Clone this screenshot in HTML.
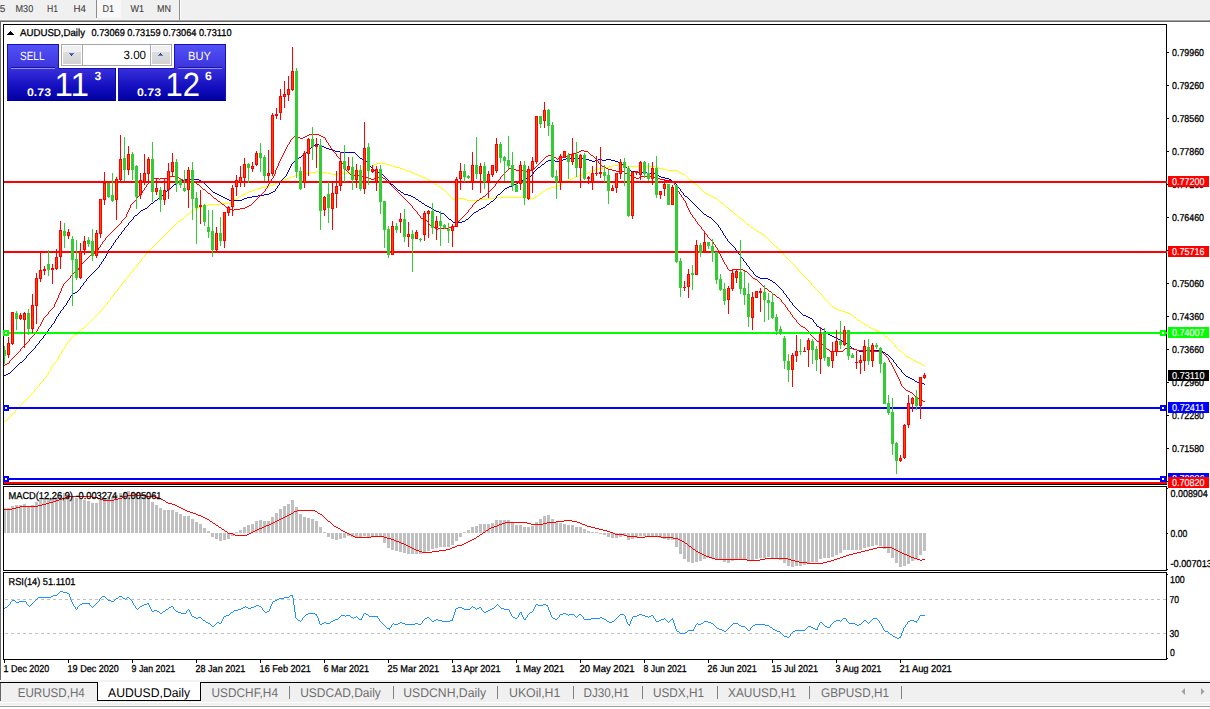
<!DOCTYPE html>
<html lang="en">
<head>
<meta charset="utf-8">
<title>AUDUSD,Daily</title>
<style>
html,body{margin:0;padding:0;background:#fff;}
body{width:1210px;height:709px;overflow:hidden;font-family:"Liberation Sans",sans-serif;}
svg{display:block;position:absolute;left:0;top:0;}
svg text{font-family:"Liberation Sans",sans-serif;text-rendering:geometricPrecision;}
</style>
</head>
<body>
<svg width="1210" height="709" viewBox="0 0 1210 709">
<rect x="0" y="0" width="1210" height="709" fill="#ffffff"/>
<g shape-rendering="crispEdges">
<rect x="0" y="0" width="1210" height="19" fill="#f0f0f0"/>
<rect x="0" y="19" width="1210" height="1" fill="#f6f6f6"/>
<rect x="0" y="20" width="1210" height="1" fill="#a0a0a0"/>
<rect x="0" y="21" width="1210" height="1" fill="#696969"/>
<rect x="97" y="0" width="24" height="18" fill="#f8f8f8"/>
<rect x="96" y="0" width="1" height="18" fill="#8c8c8c"/>
<rect x="179" y="0" width="1" height="20" fill="#8c8c8c"/>
<rect x="180" y="0" width="1" height="20" fill="#fbfbfb"/>
<rect x="0" y="21" width="1" height="659" fill="#696969"/>
<rect x="3" y="24" width="1164" height="1" fill="#000"/>
<rect x="3" y="484" width="1164" height="1" fill="#000"/>
<rect x="3" y="24" width="1" height="461" fill="#000"/>
<rect x="1166" y="24" width="1" height="461" fill="#000"/>
<rect x="3" y="486" width="1164" height="1" fill="#000"/>
<rect x="3" y="570" width="1164" height="1" fill="#000"/>
<rect x="3" y="486" width="1" height="85" fill="#000"/>
<rect x="1166" y="486" width="1" height="85" fill="#000"/>
<rect x="3" y="572" width="1164" height="1" fill="#000"/>
<rect x="3" y="659" width="1164" height="1" fill="#000"/>
<rect x="3" y="572" width="1" height="88" fill="#000"/>
<rect x="1166" y="572" width="1" height="88" fill="#000"/>
</g>
<g shape-rendering="crispEdges">
<path d="M4 421h1v1h-1zM5 420h1v1h-1zM6 420h1v1h-1zM7 419h1v1h-1zM8 418h1v1h-1zM9 417h1v1h-1zM10 416h1v1h-1zM11 415h1v1h-1zM12 414h1v1h-1zM13 413h1v1h-1zM14 412h1v1h-1zM15 410h1v2h-1zM16 409h1v1h-1zM17 408h1v1h-1zM18 407h1v1h-1zM19 406h1v1h-1zM20 405h1v1h-1zM21 404h1v1h-1zM22 403h1v1h-1zM23 402h1v1h-1zM24 401h1v1h-1zM25 400h1v1h-1zM26 399h1v1h-1zM27 398h1v1h-1zM28 397h1v1h-1zM29 396h1v1h-1zM30 395h1v1h-1zM31 394h1v1h-1zM32 393h1v1h-1zM33 392h1v1h-1zM34 390h1v2h-1zM35 389h1v1h-1zM36 388h1v1h-1zM37 387h1v1h-1zM38 386h1v1h-1zM39 384h1v2h-1zM40 383h1v1h-1zM41 382h1v1h-1zM42 381h1v1h-1zM43 379h1v2h-1zM44 378h1v1h-1zM45 377h1v1h-1zM46 375h1v2h-1zM47 374h1v1h-1zM48 372h1v2h-1zM49 371h1v1h-1zM50 369h1v2h-1zM51 367h1v2h-1zM52 366h1v1h-1zM53 364h1v2h-1zM54 363h1v1h-1zM55 362h1v1h-1zM56 361h1v1h-1zM57 359h1v2h-1zM58 357h1v2h-1zM59 355h1v2h-1zM60 354h1v1h-1zM61 352h1v2h-1zM62 350h1v2h-1zM63 349h1v1h-1zM64 347h1v2h-1zM65 345h1v2h-1zM66 344h1v1h-1zM67 342h1v2h-1zM68 341h1v1h-1zM69 340h1v1h-1zM70 339h1v1h-1zM71 338h1v1h-1zM72 337h1v1h-1zM73 336h1v1h-1zM74 335h1v1h-1zM75 334h1v1h-1zM76 334h1v1h-1zM77 333h1v1h-1zM78 332h1v1h-1zM79 331h1v1h-1zM80 330h1v1h-1zM81 329h1v1h-1zM82 328h1v1h-1zM83 328h1v1h-1zM84 327h1v1h-1zM85 326h1v1h-1zM86 325h1v1h-1zM87 324h1v1h-1zM88 323h1v1h-1zM89 322h1v1h-1zM90 321h1v1h-1zM91 320h1v1h-1zM92 319h1v1h-1zM93 318h1v1h-1zM94 317h1v1h-1zM95 316h1v1h-1zM96 315h1v1h-1zM97 314h1v1h-1zM98 313h1v1h-1zM99 312h1v1h-1zM100 311h1v1h-1zM101 310h1v1h-1zM102 308h1v2h-1zM103 307h1v1h-1zM104 306h1v1h-1zM105 305h1v1h-1zM106 304h1v1h-1zM107 302h1v2h-1zM108 301h1v1h-1zM109 300h1v1h-1zM110 298h1v2h-1zM111 297h1v1h-1zM112 296h1v1h-1zM113 294h1v2h-1zM114 293h1v1h-1zM115 292h1v1h-1zM116 291h1v1h-1zM117 289h1v2h-1zM118 288h1v1h-1zM119 287h1v1h-1zM120 286h1v1h-1zM121 284h1v2h-1zM122 283h1v1h-1zM123 282h1v1h-1zM124 281h1v1h-1zM125 279h1v2h-1zM126 278h1v1h-1zM127 277h1v1h-1zM128 276h1v1h-1zM129 274h1v2h-1zM130 273h1v1h-1zM131 272h1v1h-1zM132 271h1v1h-1zM133 269h1v2h-1zM134 268h1v1h-1zM135 267h1v1h-1zM136 266h1v1h-1zM137 264h1v2h-1zM138 263h1v1h-1zM139 262h1v1h-1zM140 261h1v1h-1zM141 259h1v2h-1zM142 258h1v1h-1zM143 257h1v1h-1zM144 256h1v1h-1zM145 254h1v2h-1zM146 253h1v1h-1zM147 252h1v1h-1zM148 251h1v1h-1zM149 250h1v1h-1zM150 249h1v1h-1zM151 248h1v1h-1zM152 247h1v1h-1zM153 246h1v1h-1zM154 245h1v1h-1zM155 244h1v1h-1zM156 243h1v1h-1zM157 242h1v1h-1zM158 241h1v1h-1zM159 240h1v1h-1zM160 239h1v1h-1zM161 238h1v1h-1zM162 237h1v1h-1zM163 236h1v1h-1zM164 235h1v1h-1zM165 234h1v1h-1zM166 233h1v1h-1zM167 232h1v1h-1zM168 231h1v1h-1zM169 230h1v1h-1zM170 229h1v1h-1zM171 228h1v1h-1zM172 227h1v1h-1zM173 226h1v1h-1zM174 225h1v1h-1zM175 224h1v1h-1zM176 223h1v1h-1zM177 222h1v1h-1zM178 221h1v1h-1zM179 221h1v1h-1zM180 220h1v1h-1zM181 219h1v1h-1zM182 219h1v1h-1zM183 218h1v1h-1zM184 217h1v1h-1zM185 216h1v1h-1zM186 215h1v1h-1zM187 214h1v1h-1zM188 214h1v1h-1zM189 213h1v1h-1zM190 212h1v1h-1zM191 211h1v1h-1zM192 210h1v1h-1zM193 210h1v1h-1zM194 209h1v1h-1zM195 209h1v1h-1zM196 208h1v1h-1zM197 208h1v1h-1zM198 207h1v1h-1zM199 207h1v1h-1zM200 207h1v1h-1zM201 206h1v1h-1zM202 206h1v1h-1zM203 206h1v1h-1zM204 205h1v1h-1zM205 205h1v1h-1zM206 205h1v1h-1zM207 205h1v1h-1zM208 205h1v1h-1zM209 204h1v1h-1zM210 204h1v1h-1zM211 204h1v1h-1zM212 204h1v1h-1zM213 204h1v1h-1zM214 204h1v1h-1zM215 204h1v1h-1zM216 204h1v1h-1zM217 204h1v1h-1zM218 204h1v1h-1zM219 204h1v1h-1zM220 203h1v1h-1zM221 203h1v1h-1zM222 203h1v1h-1zM223 203h1v1h-1zM224 203h1v1h-1zM225 203h1v1h-1zM226 203h1v1h-1zM227 203h1v1h-1zM228 203h1v1h-1zM229 203h1v1h-1zM230 202h1v1h-1zM231 201h1v1h-1zM232 201h1v1h-1zM233 200h1v1h-1zM234 199h1v1h-1zM235 199h1v1h-1zM236 198h1v1h-1zM237 198h1v1h-1zM238 197h1v1h-1zM239 196h1v1h-1zM240 196h1v1h-1zM241 195h1v1h-1zM242 195h1v1h-1zM243 194h1v1h-1zM244 194h1v1h-1zM245 193h1v1h-1zM246 193h1v1h-1zM247 192h1v1h-1zM248 192h1v1h-1zM249 191h1v1h-1zM250 191h1v1h-1zM251 191h1v1h-1zM252 190h1v1h-1zM253 190h1v1h-1zM254 190h1v1h-1zM255 189h1v1h-1zM256 189h1v1h-1zM257 188h1v1h-1zM258 188h1v1h-1zM259 188h1v1h-1zM260 188h1v1h-1zM261 187h1v1h-1zM262 187h1v1h-1zM263 187h1v1h-1zM264 187h1v1h-1zM265 187h1v1h-1zM266 186h1v1h-1zM267 186h1v1h-1zM268 186h1v1h-1zM269 186h1v1h-1zM270 185h1v1h-1zM271 185h1v1h-1zM272 185h1v1h-1zM273 184h1v1h-1zM274 184h1v1h-1zM275 183h1v1h-1zM276 183h1v1h-1zM277 182h1v1h-1zM278 182h1v1h-1zM279 181h1v1h-1zM280 181h1v1h-1zM281 181h1v1h-1zM282 180h1v1h-1zM283 180h1v1h-1zM284 179h1v1h-1zM285 179h1v1h-1zM286 179h1v1h-1zM287 178h1v1h-1zM288 178h1v1h-1zM289 177h1v1h-1zM290 177h1v1h-1zM291 177h1v1h-1zM292 176h1v1h-1zM293 176h1v1h-1zM294 176h1v1h-1zM295 175h1v1h-1zM296 175h1v1h-1zM297 175h1v1h-1zM298 175h1v1h-1zM299 175h1v1h-1zM300 174h1v1h-1zM301 174h1v1h-1zM302 174h1v1h-1zM303 174h1v1h-1zM304 174h1v1h-1zM305 173h1v1h-1zM306 173h1v1h-1zM307 173h1v1h-1zM308 173h1v1h-1zM309 173h1v1h-1zM310 172h1v1h-1zM311 172h1v1h-1zM312 172h1v1h-1zM313 172h1v1h-1zM314 172h1v1h-1zM315 172h1v1h-1zM316 171h1v1h-1zM317 171h1v1h-1zM318 172h1v1h-1zM319 172h1v1h-1zM320 172h1v1h-1zM321 172h1v1h-1zM322 172h1v1h-1zM323 172h1v1h-1zM324 172h1v1h-1zM325 172h1v1h-1zM326 172h1v1h-1zM327 173h1v1h-1zM328 173h1v1h-1zM329 173h1v1h-1zM330 173h1v1h-1zM331 174h1v1h-1zM332 174h1v1h-1zM333 174h1v1h-1zM334 174h1v1h-1zM335 174h1v1h-1zM336 174h1v1h-1zM337 174h1v1h-1zM338 173h1v1h-1zM339 173h1v1h-1zM340 173h1v1h-1zM341 173h1v1h-1zM342 173h1v1h-1zM343 173h1v1h-1zM344 173h1v1h-1zM345 173h1v1h-1zM346 173h1v1h-1zM347 173h1v1h-1zM348 172h1v1h-1zM349 172h1v1h-1zM350 172h1v1h-1zM351 172h1v1h-1zM352 172h1v1h-1zM353 172h1v1h-1zM354 171h1v1h-1zM355 171h1v1h-1zM356 171h1v1h-1zM357 171h1v1h-1zM358 171h1v1h-1zM359 170h1v1h-1zM360 170h1v1h-1zM361 170h1v1h-1zM362 169h1v1h-1zM363 169h1v1h-1zM364 169h1v1h-1zM365 168h1v1h-1zM366 168h1v1h-1zM367 168h1v1h-1zM368 167h1v1h-1zM369 167h1v1h-1zM370 166h1v1h-1zM371 166h1v1h-1zM372 165h1v1h-1zM373 165h1v1h-1zM374 164h1v1h-1zM375 164h1v1h-1zM376 164h1v1h-1zM377 163h1v1h-1zM378 163h1v1h-1zM379 163h1v1h-1zM380 163h1v1h-1zM381 163h1v1h-1zM382 163h1v1h-1zM383 163h1v1h-1zM384 163h1v1h-1zM385 163h1v1h-1zM386 164h1v1h-1zM387 164h1v1h-1zM388 164h1v1h-1zM389 165h1v1h-1zM390 165h1v1h-1zM391 165h1v1h-1zM392 165h1v1h-1zM393 166h1v1h-1zM394 166h1v1h-1zM395 166h1v1h-1zM396 167h1v1h-1zM397 167h1v1h-1zM398 167h1v1h-1zM399 167h1v1h-1zM400 168h1v1h-1zM401 168h1v1h-1zM402 168h1v1h-1zM403 169h1v1h-1zM404 169h1v1h-1zM405 170h1v1h-1zM406 170h1v1h-1zM407 170h1v1h-1zM408 171h1v1h-1zM409 171h1v1h-1zM410 171h1v1h-1zM411 172h1v1h-1zM412 172h1v1h-1zM413 173h1v1h-1zM414 173h1v1h-1zM415 174h1v1h-1zM416 174h1v1h-1zM417 174h1v1h-1zM418 175h1v1h-1zM419 175h1v1h-1zM420 176h1v1h-1zM421 176h1v1h-1zM422 177h1v1h-1zM423 177h1v1h-1zM424 177h1v1h-1zM425 178h1v1h-1zM426 178h1v1h-1zM427 179h1v1h-1zM428 179h1v1h-1zM429 180h1v1h-1zM430 180h1v1h-1zM431 181h1v1h-1zM432 182h1v1h-1zM433 182h1v1h-1zM434 183h1v1h-1zM435 184h1v1h-1zM436 184h1v1h-1zM437 185h1v1h-1zM438 186h1v1h-1zM439 186h1v1h-1zM440 187h1v1h-1zM441 188h1v1h-1zM442 188h1v1h-1zM443 189h1v1h-1zM444 190h1v1h-1zM445 191h1v1h-1zM446 192h1v1h-1zM447 193h1v1h-1zM448 194h1v1h-1zM449 195h1v1h-1zM450 196h1v1h-1zM451 197h1v1h-1zM452 198h1v1h-1zM453 199h1v1h-1zM454 199h1v1h-1zM455 199h1v1h-1zM456 198h1v1h-1zM457 198h1v1h-1zM458 198h1v1h-1zM459 198h1v1h-1zM460 198h1v1h-1zM461 198h1v1h-1zM462 198h1v1h-1zM463 198h1v1h-1zM464 199h1v1h-1zM465 199h1v1h-1zM466 199h1v1h-1zM467 200h1v1h-1zM468 200h1v1h-1zM469 200h1v1h-1zM470 200h1v1h-1zM471 200h1v1h-1zM472 200h1v1h-1zM473 200h1v1h-1zM474 200h1v1h-1zM475 200h1v1h-1zM476 200h1v1h-1zM477 200h1v1h-1zM478 200h1v1h-1zM479 199h1v1h-1zM480 199h1v1h-1zM481 199h1v1h-1zM482 199h1v1h-1zM483 199h1v1h-1zM484 199h1v1h-1zM485 199h1v1h-1zM486 199h1v1h-1zM487 198h1v1h-1zM488 198h1v1h-1zM489 198h1v1h-1zM490 198h1v1h-1zM491 198h1v1h-1zM492 198h1v1h-1zM493 198h1v1h-1zM494 197h1v1h-1zM495 197h1v1h-1zM496 197h1v1h-1zM497 197h1v1h-1zM498 197h1v1h-1zM499 197h1v1h-1zM500 197h1v1h-1zM501 197h1v1h-1zM502 197h1v1h-1zM503 197h1v1h-1zM504 197h1v1h-1zM505 197h1v1h-1zM506 197h1v1h-1zM507 197h1v1h-1zM508 197h1v1h-1zM509 197h1v1h-1zM510 197h1v1h-1zM511 197h1v1h-1zM512 197h1v1h-1zM513 197h1v1h-1zM514 197h1v1h-1zM515 197h1v1h-1zM516 197h1v1h-1zM517 197h1v1h-1zM518 197h1v1h-1zM519 197h1v1h-1zM520 197h1v1h-1zM521 197h1v1h-1zM522 197h1v1h-1zM523 197h1v1h-1zM524 197h1v1h-1zM525 197h1v1h-1zM526 197h1v1h-1zM527 197h1v1h-1zM528 198h1v1h-1zM529 198h1v1h-1zM530 198h1v1h-1zM531 198h1v1h-1zM532 198h1v1h-1zM533 198h1v1h-1zM534 197h1v1h-1zM535 197h1v1h-1zM536 196h1v1h-1zM537 196h1v1h-1zM538 195h1v1h-1zM539 194h1v1h-1zM540 193h1v1h-1zM541 193h1v1h-1zM542 192h1v1h-1zM543 191h1v1h-1zM544 191h1v1h-1zM545 190h1v1h-1zM546 189h1v1h-1zM547 189h1v1h-1zM548 188h1v1h-1zM549 188h1v1h-1zM550 188h1v1h-1zM551 187h1v1h-1zM552 187h1v1h-1zM553 187h1v1h-1zM554 187h1v1h-1zM555 186h1v1h-1zM556 186h1v1h-1zM557 186h1v1h-1zM558 185h1v1h-1zM559 185h1v1h-1zM560 184h1v1h-1zM561 184h1v1h-1zM562 183h1v1h-1zM563 182h1v1h-1zM564 182h1v1h-1zM565 181h1v1h-1zM566 181h1v1h-1zM567 180h1v1h-1zM568 180h1v1h-1zM569 179h1v1h-1zM570 179h1v1h-1zM571 179h1v1h-1zM572 178h1v1h-1zM573 178h1v1h-1zM574 177h1v1h-1zM575 177h1v1h-1zM576 176h1v1h-1zM577 176h1v1h-1zM578 176h1v1h-1zM579 175h1v1h-1zM580 175h1v1h-1zM581 175h1v1h-1zM582 174h1v1h-1zM583 174h1v1h-1zM584 174h1v1h-1zM585 173h1v1h-1zM586 173h1v1h-1zM587 173h1v1h-1zM588 172h1v1h-1zM589 172h1v1h-1zM590 171h1v1h-1zM591 171h1v1h-1zM592 171h1v1h-1zM593 170h1v1h-1zM594 170h1v1h-1zM595 169h1v1h-1zM596 169h1v1h-1zM597 169h1v1h-1zM598 169h1v1h-1zM599 168h1v1h-1zM600 168h1v1h-1zM601 168h1v1h-1zM602 168h1v1h-1zM603 168h1v1h-1zM604 167h1v1h-1zM605 167h1v1h-1zM606 167h1v1h-1zM607 167h1v1h-1zM608 167h1v1h-1zM609 166h1v1h-1zM610 166h1v1h-1zM611 166h1v1h-1zM612 166h1v1h-1zM613 165h1v1h-1zM614 165h1v1h-1zM615 165h1v1h-1zM616 165h1v1h-1zM617 165h1v1h-1zM618 165h1v1h-1zM619 165h1v1h-1zM620 165h1v1h-1zM621 165h1v1h-1zM622 165h1v1h-1zM623 165h1v1h-1zM624 165h1v1h-1zM625 165h1v1h-1zM626 165h1v1h-1zM627 166h1v1h-1zM628 166h1v1h-1zM629 166h1v1h-1zM630 166h1v1h-1zM631 166h1v1h-1zM632 166h1v1h-1zM633 166h1v1h-1zM634 166h1v1h-1zM635 166h1v1h-1zM636 166h1v1h-1zM637 166h1v1h-1zM638 166h1v1h-1zM639 166h1v1h-1zM640 166h1v1h-1zM641 166h1v1h-1zM642 166h1v1h-1zM643 166h1v1h-1zM644 166h1v1h-1zM645 166h1v1h-1zM646 166h1v1h-1zM647 166h1v1h-1zM648 166h1v1h-1zM649 166h1v1h-1zM650 166h1v1h-1zM651 166h1v1h-1zM652 166h1v1h-1zM653 166h1v1h-1zM654 166h1v1h-1zM655 166h1v1h-1zM656 167h1v1h-1zM657 167h1v1h-1zM658 167h1v1h-1zM659 168h1v1h-1zM660 168h1v1h-1zM661 168h1v1h-1zM662 168h1v1h-1zM663 169h1v1h-1zM664 169h1v1h-1zM665 169h1v1h-1zM666 169h1v1h-1zM667 170h1v1h-1zM668 170h1v1h-1zM669 170h1v1h-1zM670 170h1v1h-1zM671 170h1v1h-1zM672 170h1v1h-1zM673 170h1v1h-1zM674 170h1v1h-1zM675 170h1v1h-1zM676 170h1v1h-1zM677 171h1v1h-1zM678 171h1v1h-1zM679 172h1v1h-1zM680 172h1v1h-1zM681 173h1v1h-1zM682 173h1v1h-1zM683 174h1v1h-1zM684 174h1v1h-1zM685 175h1v1h-1zM686 176h1v1h-1zM687 177h1v1h-1zM688 178h1v1h-1zM689 179h1v1h-1zM690 180h1v1h-1zM691 180h1v1h-1zM692 181h1v1h-1zM693 182h1v1h-1zM694 183h1v1h-1zM695 184h1v1h-1zM696 184h1v1h-1zM697 185h1v1h-1zM698 186h1v1h-1zM699 187h1v1h-1zM700 188h1v1h-1zM701 189h1v1h-1zM702 190h1v1h-1zM703 191h1v1h-1zM704 192h1v1h-1zM705 193h1v1h-1zM706 193h1v1h-1zM707 194h1v1h-1zM708 194h1v1h-1zM709 195h1v1h-1zM710 195h1v1h-1zM711 196h1v1h-1zM712 196h1v1h-1zM713 197h1v1h-1zM714 197h1v1h-1zM715 198h1v1h-1zM716 198h1v1h-1zM717 199h1v1h-1zM718 200h1v1h-1zM719 201h1v1h-1zM720 202h1v1h-1zM721 202h1v1h-1zM722 203h1v1h-1zM723 204h1v1h-1zM724 205h1v1h-1zM725 206h1v1h-1zM726 207h1v1h-1zM727 207h1v1h-1zM728 208h1v1h-1zM729 209h1v1h-1zM730 210h1v1h-1zM731 211h1v1h-1zM732 211h1v1h-1zM733 212h1v1h-1zM734 213h1v1h-1zM735 214h1v1h-1zM736 214h1v1h-1zM737 215h1v1h-1zM738 216h1v1h-1zM739 217h1v1h-1zM740 218h1v1h-1zM741 218h1v1h-1zM742 219h1v1h-1zM743 220h1v1h-1zM744 221h1v1h-1zM745 222h1v1h-1zM746 223h1v1h-1zM747 224h1v1h-1zM748 224h1v1h-1zM749 225h1v1h-1zM750 226h1v1h-1zM751 227h1v1h-1zM752 227h1v1h-1zM753 228h1v1h-1zM754 229h1v1h-1zM755 229h1v1h-1zM756 230h1v1h-1zM757 231h1v1h-1zM758 231h1v1h-1zM759 232h1v1h-1zM760 232h1v1h-1zM761 233h1v1h-1zM762 234h1v1h-1zM763 234h1v1h-1zM764 235h1v1h-1zM765 236h1v1h-1zM766 237h1v1h-1zM767 238h1v1h-1zM768 239h1v1h-1zM769 240h1v1h-1zM770 241h1v1h-1zM771 242h1v1h-1zM772 243h1v1h-1zM773 244h1v1h-1zM774 245h1v1h-1zM775 246h1v1h-1zM776 247h1v1h-1zM777 247h1v1h-1zM778 248h1v1h-1zM779 249h1v1h-1zM780 250h1v1h-1zM781 251h1v1h-1zM782 252h1v1h-1zM783 253h1v2h-1zM784 255h1v1h-1zM785 256h1v1h-1zM786 257h1v1h-1zM787 258h1v1h-1zM788 259h1v1h-1zM789 260h1v1h-1zM790 261h1v1h-1zM791 262h1v1h-1zM792 263h1v1h-1zM793 264h1v1h-1zM794 265h1v1h-1zM795 266h1v1h-1zM796 267h1v1h-1zM797 268h1v1h-1zM798 269h1v2h-1zM799 271h1v1h-1zM800 272h1v1h-1zM801 273h1v1h-1zM802 274h1v1h-1zM803 275h1v1h-1zM804 276h1v1h-1zM805 277h1v1h-1zM806 278h1v1h-1zM807 279h1v1h-1zM808 280h1v1h-1zM809 281h1v1h-1zM810 282h1v1h-1zM811 283h1v2h-1zM812 285h1v1h-1zM813 286h1v1h-1zM814 287h1v1h-1zM815 288h1v1h-1zM816 289h1v1h-1zM817 290h1v1h-1zM818 291h1v1h-1zM819 292h1v1h-1zM820 293h1v1h-1zM821 294h1v1h-1zM822 295h1v2h-1zM823 297h1v1h-1zM824 298h1v1h-1zM825 299h1v1h-1zM826 300h1v1h-1zM827 301h1v1h-1zM828 302h1v1h-1zM829 303h1v1h-1zM830 304h1v1h-1zM831 305h1v1h-1zM832 306h1v1h-1zM833 307h1v1h-1zM834 307h1v1h-1zM835 308h1v1h-1zM836 308h1v1h-1zM837 309h1v1h-1zM838 309h1v1h-1zM839 310h1v1h-1zM840 310h1v1h-1zM841 310h1v1h-1zM842 311h1v1h-1zM843 311h1v1h-1zM844 311h1v1h-1zM845 312h1v1h-1zM846 312h1v1h-1zM847 312h1v1h-1zM848 313h1v1h-1zM849 313h1v1h-1zM850 314h1v1h-1zM851 314h1v1h-1zM852 315h1v1h-1zM853 316h1v1h-1zM854 317h1v1h-1zM855 317h1v1h-1zM856 318h1v1h-1zM857 319h1v1h-1zM858 320h1v1h-1zM859 320h1v1h-1zM860 321h1v1h-1zM861 322h1v1h-1zM862 322h1v1h-1zM863 323h1v1h-1zM864 324h1v1h-1zM865 324h1v1h-1zM866 325h1v1h-1zM867 325h1v1h-1zM868 326h1v1h-1zM869 327h1v1h-1zM870 327h1v1h-1zM871 328h1v1h-1zM872 328h1v1h-1zM873 329h1v1h-1zM874 329h1v1h-1zM875 330h1v1h-1zM876 330h1v1h-1zM877 330h1v1h-1zM878 331h1v1h-1zM879 331h1v1h-1zM880 332h1v1h-1zM881 332h1v1h-1zM882 333h1v1h-1zM883 334h1v1h-1zM884 335h1v1h-1zM885 336h1v1h-1zM886 336h1v1h-1zM887 337h1v1h-1zM888 338h1v1h-1zM889 339h1v1h-1zM890 340h1v1h-1zM891 341h1v1h-1zM892 342h1v1h-1zM893 343h1v1h-1zM894 344h1v1h-1zM895 345h1v2h-1zM896 347h1v1h-1zM897 348h1v1h-1zM898 349h1v1h-1zM899 350h1v1h-1zM900 350h1v1h-1zM901 351h1v1h-1zM902 352h1v1h-1zM903 353h1v1h-1zM904 354h1v1h-1zM905 355h1v1h-1zM906 356h1v1h-1zM907 356h1v1h-1zM908 357h1v1h-1zM909 357h1v1h-1zM910 358h1v1h-1zM911 358h1v1h-1zM912 359h1v1h-1zM913 360h1v1h-1zM914 360h1v1h-1zM915 361h1v1h-1zM916 361h1v1h-1zM917 362h1v1h-1zM918 362h1v1h-1zM919 363h1v1h-1zM920 363h1v1h-1zM921 364h1v1h-1zM922 364h1v1h-1zM923 365h1v1h-1zM924 365h1v1h-1z" fill="#ffff00"/>
<path d="M4 375h1v1h-1zM5 375h1v1h-1zM6 374h1v1h-1zM7 374h1v1h-1zM8 373h1v1h-1zM9 373h1v1h-1zM10 372h1v1h-1zM11 371h1v1h-1zM12 370h1v1h-1zM13 369h1v1h-1zM14 368h1v1h-1zM15 367h1v1h-1zM16 366h1v1h-1zM17 365h1v1h-1zM18 364h1v1h-1zM19 363h1v1h-1zM20 362h1v1h-1zM21 362h1v1h-1zM22 361h1v1h-1zM23 360h1v1h-1zM24 359h1v1h-1zM25 358h1v1h-1zM26 356h1v2h-1zM27 355h1v1h-1zM28 354h1v1h-1zM29 353h1v1h-1zM30 352h1v1h-1zM31 351h1v1h-1zM32 350h1v1h-1zM33 349h1v1h-1zM34 348h1v1h-1zM35 346h1v2h-1zM36 345h1v1h-1zM37 344h1v1h-1zM38 343h1v1h-1zM39 341h1v2h-1zM40 340h1v1h-1zM41 339h1v1h-1zM42 338h1v1h-1zM43 336h1v2h-1zM44 335h1v1h-1zM45 333h1v2h-1zM46 332h1v1h-1zM47 331h1v1h-1zM48 329h1v2h-1zM49 328h1v1h-1zM50 327h1v1h-1zM51 325h1v2h-1zM52 324h1v1h-1zM53 323h1v1h-1zM54 321h1v2h-1zM55 319h1v2h-1zM56 317h1v2h-1zM57 316h1v1h-1zM58 314h1v2h-1zM59 313h1v1h-1zM60 311h1v2h-1zM61 310h1v1h-1zM62 309h1v1h-1zM63 307h1v2h-1zM64 306h1v1h-1zM65 305h1v1h-1zM66 303h1v2h-1zM67 301h1v2h-1zM68 300h1v1h-1zM69 298h1v2h-1zM70 296h1v2h-1zM71 295h1v1h-1zM72 294h1v1h-1zM73 293h1v1h-1zM74 293h1v1h-1zM75 292h1v1h-1zM76 292h1v1h-1zM77 291h1v1h-1zM78 290h1v1h-1zM79 289h1v1h-1zM80 287h1v2h-1zM81 286h1v1h-1zM82 285h1v1h-1zM83 283h1v2h-1zM84 282h1v1h-1zM85 281h1v1h-1zM86 279h1v2h-1zM87 278h1v1h-1zM88 277h1v1h-1zM89 276h1v1h-1zM90 275h1v1h-1zM91 274h1v1h-1zM92 273h1v1h-1zM93 272h1v1h-1zM94 271h1v1h-1zM95 270h1v1h-1zM96 269h1v1h-1zM97 268h1v1h-1zM98 267h1v1h-1zM99 265h1v2h-1zM100 264h1v1h-1zM101 262h1v2h-1zM102 261h1v1h-1zM103 259h1v2h-1zM104 258h1v1h-1zM105 256h1v2h-1zM106 254h1v2h-1zM107 252h1v2h-1zM108 250h1v2h-1zM109 249h1v1h-1zM110 248h1v1h-1zM111 246h1v2h-1zM112 245h1v1h-1zM113 243h1v2h-1zM114 242h1v1h-1zM115 240h1v2h-1zM116 239h1v1h-1zM117 238h1v1h-1zM118 236h1v2h-1zM119 235h1v1h-1zM120 234h1v1h-1zM121 232h1v2h-1zM122 231h1v1h-1zM123 230h1v1h-1zM124 228h1v2h-1zM125 227h1v1h-1zM126 226h1v1h-1zM127 225h1v1h-1zM128 223h1v2h-1zM129 222h1v1h-1zM130 221h1v1h-1zM131 220h1v1h-1zM132 219h1v1h-1zM133 217h1v2h-1zM134 216h1v1h-1zM135 215h1v1h-1zM136 215h1v1h-1zM137 214h1v1h-1zM138 213h1v1h-1zM139 212h1v1h-1zM140 211h1v1h-1zM141 210h1v1h-1zM142 210h1v1h-1zM143 209h1v1h-1zM144 209h1v1h-1zM145 208h1v1h-1zM146 208h1v1h-1zM147 207h1v1h-1zM148 206h1v1h-1zM149 205h1v1h-1zM150 204h1v1h-1zM151 203h1v1h-1zM152 203h1v1h-1zM153 202h1v1h-1zM154 201h1v1h-1zM155 200h1v1h-1zM156 200h1v1h-1zM157 199h1v1h-1zM158 198h1v1h-1zM159 197h1v1h-1zM160 197h1v1h-1zM161 196h1v1h-1zM162 195h1v1h-1zM163 194h1v1h-1zM164 193h1v1h-1zM165 192h1v1h-1zM166 191h1v1h-1zM167 190h1v1h-1zM168 190h1v1h-1zM169 189h1v1h-1zM170 188h1v1h-1zM171 187h1v1h-1zM172 186h1v1h-1zM173 185h1v1h-1zM174 184h1v1h-1zM175 184h1v1h-1zM176 183h1v1h-1zM177 182h1v1h-1zM178 181h1v1h-1zM179 181h1v1h-1zM180 180h1v1h-1zM181 180h1v1h-1zM182 180h1v1h-1zM183 180h1v1h-1zM184 179h1v1h-1zM185 179h1v1h-1zM186 179h1v1h-1zM187 179h1v1h-1zM188 179h1v1h-1zM189 179h1v1h-1zM190 179h1v1h-1zM191 179h1v1h-1zM192 179h1v1h-1zM193 179h1v1h-1zM194 179h1v1h-1zM195 179h1v1h-1zM196 179h1v1h-1zM197 179h1v1h-1zM198 179h1v1h-1zM199 180h1v1h-1zM200 180h1v1h-1zM201 181h1v1h-1zM202 181h1v1h-1zM203 182h1v1h-1zM204 183h1v1h-1zM205 184h1v1h-1zM206 185h1v1h-1zM207 186h1v1h-1zM208 187h1v1h-1zM209 188h1v1h-1zM210 189h1v1h-1zM211 190h1v1h-1zM212 191h1v1h-1zM213 192h1v1h-1zM214 192h1v1h-1zM215 193h1v1h-1zM216 193h1v1h-1zM217 194h1v1h-1zM218 194h1v1h-1zM219 195h1v1h-1zM220 195h1v1h-1zM221 196h1v1h-1zM222 196h1v1h-1zM223 197h1v1h-1zM224 197h1v1h-1zM225 198h1v1h-1zM226 198h1v1h-1zM227 199h1v1h-1zM228 199h1v1h-1zM229 200h1v1h-1zM230 200h1v1h-1zM231 200h1v1h-1zM232 200h1v1h-1zM233 200h1v1h-1zM234 200h1v1h-1zM235 200h1v1h-1zM236 200h1v1h-1zM237 200h1v1h-1zM238 200h1v1h-1zM239 200h1v1h-1zM240 200h1v1h-1zM241 200h1v1h-1zM242 199h1v1h-1zM243 199h1v1h-1zM244 198h1v1h-1zM245 198h1v1h-1zM246 198h1v1h-1zM247 197h1v1h-1zM248 197h1v1h-1zM249 197h1v1h-1zM250 197h1v1h-1zM251 197h1v1h-1zM252 196h1v1h-1zM253 196h1v1h-1zM254 196h1v1h-1zM255 196h1v1h-1zM256 196h1v1h-1zM257 196h1v1h-1zM258 195h1v1h-1zM259 195h1v1h-1zM260 195h1v1h-1zM261 195h1v1h-1zM262 195h1v1h-1zM263 195h1v1h-1zM264 194h1v1h-1zM265 194h1v1h-1zM266 194h1v1h-1zM267 194h1v1h-1zM268 194h1v1h-1zM269 193h1v1h-1zM270 193h1v1h-1zM271 192h1v1h-1zM272 192h1v1h-1zM273 191h1v1h-1zM274 191h1v1h-1zM275 189h1v2h-1zM276 188h1v1h-1zM277 186h1v2h-1zM278 185h1v1h-1zM279 183h1v2h-1zM280 182h1v1h-1zM281 180h1v2h-1zM282 179h1v1h-1zM283 178h1v1h-1zM284 177h1v1h-1zM285 176h1v1h-1zM286 174h1v2h-1zM287 172h1v2h-1zM288 170h1v2h-1zM289 168h1v2h-1zM290 166h1v2h-1zM291 164h1v2h-1zM292 163h1v1h-1zM293 162h1v1h-1zM294 161h1v1h-1zM295 160h1v1h-1zM296 160h1v1h-1zM297 159h1v1h-1zM298 158h1v1h-1zM299 157h1v1h-1zM300 157h1v1h-1zM301 156h1v1h-1zM302 155h1v1h-1zM303 154h1v1h-1zM304 154h1v1h-1zM305 153h1v1h-1zM306 152h1v1h-1zM307 151h1v1h-1zM308 150h1v1h-1zM309 149h1v1h-1zM310 148h1v1h-1zM311 147h1v1h-1zM312 146h1v1h-1zM313 145h1v1h-1zM314 145h1v1h-1zM315 144h1v1h-1zM316 144h1v1h-1zM317 144h1v1h-1zM318 144h1v1h-1zM319 145h1v1h-1zM320 145h1v1h-1zM321 146h1v1h-1zM322 146h1v1h-1zM323 146h1v1h-1zM324 147h1v1h-1zM325 147h1v1h-1zM326 148h1v1h-1zM327 148h1v1h-1zM328 148h1v1h-1zM329 149h1v1h-1zM330 149h1v1h-1zM331 149h1v1h-1zM332 150h1v1h-1zM333 150h1v1h-1zM334 150h1v1h-1zM335 151h1v1h-1zM336 151h1v1h-1zM337 151h1v1h-1zM338 151h1v1h-1zM339 151h1v1h-1zM340 152h1v1h-1zM341 152h1v1h-1zM342 152h1v1h-1zM343 152h1v1h-1zM344 152h1v1h-1zM345 152h1v1h-1zM346 152h1v1h-1zM347 152h1v1h-1zM348 152h1v1h-1zM349 152h1v1h-1zM350 152h1v1h-1zM351 152h1v1h-1zM352 152h1v1h-1zM353 152h1v1h-1zM354 152h1v1h-1zM355 153h1v1h-1zM356 154h1v1h-1zM357 155h1v1h-1zM358 156h1v1h-1zM359 157h1v1h-1zM360 158h1v1h-1zM361 158h1v1h-1zM362 159h1v1h-1zM363 159h1v1h-1zM364 160h1v1h-1zM365 160h1v1h-1zM366 161h1v1h-1zM367 162h1v1h-1zM368 163h1v1h-1zM369 164h1v2h-1zM370 166h1v1h-1zM371 167h1v1h-1zM372 168h1v1h-1zM373 169h1v1h-1zM374 170h1v1h-1zM375 171h1v1h-1zM376 171h1v1h-1zM377 172h1v1h-1zM378 172h1v1h-1zM379 173h1v1h-1zM380 173h1v1h-1zM381 174h1v1h-1zM382 174h1v1h-1zM383 175h1v1h-1zM384 176h1v1h-1zM385 177h1v1h-1zM386 178h1v1h-1zM387 179h1v1h-1zM388 180h1v2h-1zM389 182h1v1h-1zM390 183h1v1h-1zM391 184h1v1h-1zM392 184h1v1h-1zM393 185h1v1h-1zM394 186h1v1h-1zM395 187h1v1h-1zM396 188h1v1h-1zM397 189h1v1h-1zM398 190h1v1h-1zM399 190h1v1h-1zM400 191h1v1h-1zM401 192h1v1h-1zM402 192h1v1h-1zM403 193h1v1h-1zM404 194h1v1h-1zM405 194h1v1h-1zM406 194h1v1h-1zM407 194h1v1h-1zM408 195h1v1h-1zM409 195h1v1h-1zM410 195h1v1h-1zM411 196h1v1h-1zM412 196h1v1h-1zM413 197h1v1h-1zM414 197h1v1h-1zM415 198h1v1h-1zM416 199h1v1h-1zM417 199h1v1h-1zM418 200h1v1h-1zM419 201h1v1h-1zM420 201h1v1h-1zM421 202h1v1h-1zM422 203h1v1h-1zM423 203h1v1h-1zM424 204h1v1h-1zM425 205h1v1h-1zM426 205h1v1h-1zM427 206h1v1h-1zM428 206h1v1h-1zM429 207h1v1h-1zM430 207h1v1h-1zM431 208h1v1h-1zM432 209h1v1h-1zM433 209h1v1h-1zM434 210h1v1h-1zM435 210h1v1h-1zM436 211h1v1h-1zM437 211h1v1h-1zM438 211h1v1h-1zM439 212h1v1h-1zM440 212h1v1h-1zM441 213h1v1h-1zM442 213h1v1h-1zM443 213h1v1h-1zM444 214h1v1h-1zM445 215h1v1h-1zM446 216h1v1h-1zM447 217h1v1h-1zM448 218h1v1h-1zM449 219h1v1h-1zM450 219h1v1h-1zM451 220h1v1h-1zM452 221h1v1h-1zM453 222h1v1h-1zM454 222h1v1h-1zM455 222h1v1h-1zM456 222h1v1h-1zM457 222h1v1h-1zM458 222h1v1h-1zM459 222h1v1h-1zM460 222h1v1h-1zM461 222h1v1h-1zM462 221h1v1h-1zM463 221h1v1h-1zM464 221h1v1h-1zM465 220h1v1h-1zM466 219h1v1h-1zM467 219h1v1h-1zM468 218h1v1h-1zM469 217h1v1h-1zM470 216h1v1h-1zM471 215h1v1h-1zM472 214h1v1h-1zM473 213h1v1h-1zM474 212h1v1h-1zM475 212h1v1h-1zM476 211h1v1h-1zM477 211h1v1h-1zM478 210h1v1h-1zM479 209h1v1h-1zM480 209h1v1h-1zM481 208h1v1h-1zM482 208h1v1h-1zM483 207h1v1h-1zM484 207h1v1h-1zM485 206h1v1h-1zM486 205h1v1h-1zM487 204h1v1h-1zM488 204h1v1h-1zM489 203h1v1h-1zM490 202h1v1h-1zM491 201h1v1h-1zM492 201h1v1h-1zM493 200h1v1h-1zM494 199h1v1h-1zM495 198h1v1h-1zM496 196h1v2h-1zM497 195h1v1h-1zM498 194h1v1h-1zM499 194h1v1h-1zM500 193h1v1h-1zM501 192h1v1h-1zM502 191h1v1h-1zM503 190h1v1h-1zM504 189h1v1h-1zM505 188h1v1h-1zM506 188h1v1h-1zM507 187h1v1h-1zM508 187h1v1h-1zM509 186h1v1h-1zM510 186h1v1h-1zM511 186h1v1h-1zM512 185h1v1h-1zM513 185h1v1h-1zM514 184h1v1h-1zM515 184h1v1h-1zM516 183h1v1h-1zM517 183h1v1h-1zM518 182h1v1h-1zM519 181h1v1h-1zM520 181h1v1h-1zM521 180h1v1h-1zM522 180h1v1h-1zM523 179h1v1h-1zM524 179h1v1h-1zM525 178h1v1h-1zM526 178h1v1h-1zM527 177h1v1h-1zM528 177h1v1h-1zM529 176h1v1h-1zM530 176h1v1h-1zM531 175h1v1h-1zM532 174h1v2h-1zM533 172h1v2h-1zM534 171h1v1h-1zM535 170h1v1h-1zM536 169h1v1h-1zM537 168h1v1h-1zM538 167h1v1h-1zM539 167h1v1h-1zM540 166h1v1h-1zM541 165h1v1h-1zM542 164h1v1h-1zM543 164h1v1h-1zM544 163h1v1h-1zM545 162h1v1h-1zM546 161h1v1h-1zM547 161h1v1h-1zM548 160h1v1h-1zM549 160h1v1h-1zM550 160h1v1h-1zM551 160h1v1h-1zM552 160h1v1h-1zM553 160h1v1h-1zM554 160h1v1h-1zM555 161h1v1h-1zM556 161h1v1h-1zM557 161h1v1h-1zM558 161h1v1h-1zM559 160h1v1h-1zM560 160h1v1h-1zM561 160h1v1h-1zM562 160h1v1h-1zM563 159h1v1h-1zM564 159h1v1h-1zM565 159h1v1h-1zM566 158h1v1h-1zM567 158h1v1h-1zM568 158h1v1h-1zM569 158h1v1h-1zM570 158h1v1h-1zM571 158h1v1h-1zM572 158h1v1h-1zM573 158h1v1h-1zM574 158h1v1h-1zM575 158h1v1h-1zM576 158h1v1h-1zM577 158h1v1h-1zM578 158h1v1h-1zM579 158h1v1h-1zM580 158h1v1h-1zM581 158h1v1h-1zM582 158h1v1h-1zM583 158h1v1h-1zM584 158h1v1h-1zM585 158h1v1h-1zM586 159h1v1h-1zM587 159h1v1h-1zM588 159h1v1h-1zM589 160h1v1h-1zM590 160h1v1h-1zM591 160h1v1h-1zM592 161h1v1h-1zM593 161h1v1h-1zM594 161h1v1h-1zM595 160h1v1h-1zM596 160h1v1h-1zM597 160h1v1h-1zM598 159h1v1h-1zM599 159h1v1h-1zM600 159h1v1h-1zM601 159h1v1h-1zM602 160h1v1h-1zM603 160h1v1h-1zM604 160h1v1h-1zM605 160h1v1h-1zM606 159h1v1h-1zM607 159h1v1h-1zM608 159h1v1h-1zM609 159h1v1h-1zM610 159h1v1h-1zM611 160h1v1h-1zM612 160h1v1h-1zM613 160h1v1h-1zM614 160h1v1h-1zM615 161h1v1h-1zM616 161h1v1h-1zM617 161h1v1h-1zM618 162h1v1h-1zM619 162h1v1h-1zM620 163h1v1h-1zM621 163h1v1h-1zM622 164h1v1h-1zM623 165h1v1h-1zM624 165h1v1h-1zM625 166h1v1h-1zM626 167h1v1h-1zM627 168h1v1h-1zM628 169h1v1h-1zM629 170h1v1h-1zM630 170h1v1h-1zM631 171h1v1h-1zM632 171h1v1h-1zM633 171h1v1h-1zM634 171h1v1h-1zM635 171h1v1h-1zM636 171h1v1h-1zM637 172h1v1h-1zM638 172h1v1h-1zM639 172h1v1h-1zM640 172h1v1h-1zM641 172h1v1h-1zM642 172h1v1h-1zM643 172h1v1h-1zM644 172h1v1h-1zM645 172h1v1h-1zM646 172h1v1h-1zM647 173h1v1h-1zM648 173h1v1h-1zM649 173h1v1h-1zM650 173h1v1h-1zM651 173h1v1h-1zM652 173h1v1h-1zM653 173h1v1h-1zM654 173h1v1h-1zM655 174h1v1h-1zM656 174h1v1h-1zM657 175h1v1h-1zM658 175h1v1h-1zM659 176h1v1h-1zM660 176h1v1h-1zM661 177h1v1h-1zM662 177h1v1h-1zM663 177h1v1h-1zM664 177h1v1h-1zM665 178h1v1h-1zM666 178h1v1h-1zM667 178h1v1h-1zM668 178h1v1h-1zM669 179h1v1h-1zM670 179h1v1h-1zM671 180h1v1h-1zM672 181h1v1h-1zM673 181h1v1h-1zM674 182h1v1h-1zM675 183h1v1h-1zM676 184h1v1h-1zM677 185h1v2h-1zM678 187h1v1h-1zM679 188h1v1h-1zM680 189h1v2h-1zM681 191h1v1h-1zM682 192h1v1h-1zM683 193h1v2h-1zM684 195h1v1h-1zM685 196h1v1h-1zM686 196h1v1h-1zM687 197h1v1h-1zM688 198h1v1h-1zM689 199h1v1h-1zM690 200h1v1h-1zM691 201h1v1h-1zM692 202h1v1h-1zM693 203h1v1h-1zM694 204h1v1h-1zM695 205h1v1h-1zM696 206h1v1h-1zM697 207h1v1h-1zM698 208h1v1h-1zM699 209h1v1h-1zM700 210h1v1h-1zM701 211h1v1h-1zM702 212h1v1h-1zM703 213h1v1h-1zM704 214h1v1h-1zM705 214h1v1h-1zM706 215h1v1h-1zM707 216h1v1h-1zM708 216h1v1h-1zM709 217h1v1h-1zM710 217h1v1h-1zM711 218h1v1h-1zM712 219h1v1h-1zM713 220h1v1h-1zM714 221h1v1h-1zM715 222h1v1h-1zM716 223h1v1h-1zM717 224h1v1h-1zM718 225h1v2h-1zM719 227h1v1h-1zM720 228h1v2h-1zM721 230h1v1h-1zM722 231h1v2h-1zM723 233h1v2h-1zM724 235h1v1h-1zM725 236h1v2h-1zM726 238h1v1h-1zM727 239h1v2h-1zM728 241h1v1h-1zM729 242h1v1h-1zM730 243h1v1h-1zM731 244h1v1h-1zM732 245h1v1h-1zM733 246h1v1h-1zM734 247h1v1h-1zM735 248h1v2h-1zM736 250h1v1h-1zM737 251h1v1h-1zM738 252h1v2h-1zM739 254h1v1h-1zM740 255h1v2h-1zM741 257h1v1h-1zM742 258h1v1h-1zM743 259h1v2h-1zM744 261h1v1h-1zM745 262h1v1h-1zM746 263h1v2h-1zM747 265h1v1h-1zM748 266h1v1h-1zM749 267h1v2h-1zM750 269h1v1h-1zM751 270h1v1h-1zM752 271h1v1h-1zM753 272h1v2h-1zM754 274h1v1h-1zM755 275h1v1h-1zM756 276h1v1h-1zM757 276h1v1h-1zM758 277h1v1h-1zM759 277h1v1h-1zM760 278h1v1h-1zM761 278h1v1h-1zM762 278h1v1h-1zM763 278h1v1h-1zM764 278h1v1h-1zM765 278h1v1h-1zM766 278h1v1h-1zM767 278h1v1h-1zM768 279h1v1h-1zM769 279h1v1h-1zM770 280h1v1h-1zM771 280h1v1h-1zM772 281h1v1h-1zM773 282h1v1h-1zM774 282h1v1h-1zM775 283h1v1h-1zM776 284h1v1h-1zM777 285h1v1h-1zM778 286h1v1h-1zM779 287h1v1h-1zM780 288h1v1h-1zM781 289h1v1h-1zM782 290h1v1h-1zM783 291h1v2h-1zM784 293h1v1h-1zM785 294h1v1h-1zM786 295h1v2h-1zM787 297h1v1h-1zM788 298h1v1h-1zM789 299h1v2h-1zM790 301h1v1h-1zM791 302h1v1h-1zM792 303h1v2h-1zM793 305h1v1h-1zM794 306h1v1h-1zM795 307h1v1h-1zM796 308h1v1h-1zM797 309h1v1h-1zM798 310h1v1h-1zM799 311h1v1h-1zM800 312h1v1h-1zM801 313h1v1h-1zM802 314h1v1h-1zM803 315h1v1h-1zM804 315h1v1h-1zM805 315h1v1h-1zM806 316h1v1h-1zM807 316h1v1h-1zM808 317h1v1h-1zM809 317h1v1h-1zM810 318h1v1h-1zM811 318h1v1h-1zM812 319h1v1h-1zM813 320h1v2h-1zM814 322h1v1h-1zM815 323h1v1h-1zM816 324h1v2h-1zM817 326h1v1h-1zM818 326h1v1h-1zM819 327h1v1h-1zM820 327h1v1h-1zM821 328h1v1h-1zM822 329h1v1h-1zM823 329h1v1h-1zM824 330h1v1h-1zM825 331h1v1h-1zM826 332h1v1h-1zM827 333h1v1h-1zM828 334h1v1h-1zM829 334h1v1h-1zM830 335h1v1h-1zM831 335h1v1h-1zM832 336h1v1h-1zM833 336h1v1h-1zM834 337h1v1h-1zM835 337h1v1h-1zM836 338h1v1h-1zM837 338h1v1h-1zM838 339h1v1h-1zM839 339h1v1h-1zM840 340h1v1h-1zM841 340h1v1h-1zM842 341h1v1h-1zM843 341h1v1h-1zM844 342h1v1h-1zM845 343h1v1h-1zM846 343h1v1h-1zM847 344h1v1h-1zM848 345h1v1h-1zM849 346h1v1h-1zM850 346h1v1h-1zM851 347h1v1h-1zM852 348h1v1h-1zM853 348h1v1h-1zM854 349h1v1h-1zM855 349h1v1h-1zM856 349h1v1h-1zM857 350h1v1h-1zM858 350h1v1h-1zM859 351h1v1h-1zM860 351h1v1h-1zM861 351h1v1h-1zM862 351h1v1h-1zM863 350h1v1h-1zM864 350h1v1h-1zM865 350h1v1h-1zM866 350h1v1h-1zM867 350h1v1h-1zM868 350h1v1h-1zM869 350h1v1h-1zM870 350h1v1h-1zM871 350h1v1h-1zM872 350h1v1h-1zM873 350h1v1h-1zM874 350h1v1h-1zM875 350h1v1h-1zM876 350h1v1h-1zM877 350h1v1h-1zM878 350h1v1h-1zM879 350h1v1h-1zM880 351h1v1h-1zM881 351h1v1h-1zM882 351h1v1h-1zM883 352h1v1h-1zM884 352h1v1h-1zM885 353h1v1h-1zM886 354h1v1h-1zM887 354h1v1h-1zM888 355h1v1h-1zM889 356h1v1h-1zM890 357h1v1h-1zM891 358h1v1h-1zM892 359h1v1h-1zM893 360h1v2h-1zM894 362h1v1h-1zM895 363h1v1h-1zM896 364h1v2h-1zM897 366h1v1h-1zM898 367h1v1h-1zM899 368h1v1h-1zM900 369h1v1h-1zM901 370h1v2h-1zM902 372h1v1h-1zM903 373h1v1h-1zM904 374h1v1h-1zM905 375h1v1h-1zM906 376h1v1h-1zM907 376h1v1h-1zM908 377h1v1h-1zM909 377h1v1h-1zM910 378h1v1h-1zM911 378h1v1h-1zM912 379h1v1h-1zM913 379h1v1h-1zM914 380h1v1h-1zM915 381h1v1h-1zM916 381h1v1h-1zM917 382h1v1h-1zM918 382h1v1h-1zM919 382h1v1h-1zM920 382h1v1h-1zM921 382h1v1h-1zM922 383h1v1h-1zM923 383h1v1h-1zM924 384h1v1h-1z" fill="#0000cd"/>
<path d="M4 365h1v1h-1zM5 364h1v1h-1zM6 364h1v1h-1zM7 363h1v1h-1zM8 363h1v1h-1zM9 361h1v2h-1zM10 360h1v1h-1zM11 359h1v1h-1zM12 358h1v1h-1zM13 357h1v1h-1zM14 356h1v1h-1zM15 355h1v1h-1zM16 354h1v1h-1zM17 353h1v1h-1zM18 352h1v1h-1zM19 351h1v1h-1zM20 349h1v2h-1zM21 348h1v1h-1zM22 347h1v1h-1zM23 346h1v1h-1zM24 345h1v1h-1zM25 344h1v1h-1zM26 343h1v1h-1zM27 342h1v1h-1zM28 341h1v1h-1zM29 339h1v2h-1zM30 338h1v1h-1zM31 337h1v1h-1zM32 336h1v1h-1zM33 335h1v1h-1zM34 333h1v2h-1zM35 332h1v1h-1zM36 331h1v1h-1zM37 329h1v2h-1zM38 327h1v2h-1zM39 326h1v1h-1zM40 324h1v2h-1zM41 322h1v2h-1zM42 320h1v2h-1zM43 318h1v2h-1zM44 317h1v1h-1zM45 316h1v1h-1zM46 315h1v1h-1zM47 314h1v1h-1zM48 312h1v2h-1zM49 311h1v1h-1zM50 310h1v1h-1zM51 309h1v1h-1zM52 308h1v1h-1zM53 307h1v1h-1zM54 304h1v3h-1zM55 302h1v2h-1zM56 300h1v2h-1zM57 298h1v2h-1zM58 295h1v3h-1zM59 293h1v2h-1zM60 291h1v2h-1zM61 288h1v3h-1zM62 286h1v2h-1zM63 284h1v2h-1zM64 283h1v1h-1zM65 282h1v1h-1zM66 281h1v1h-1zM67 280h1v1h-1zM68 279h1v1h-1zM69 278h1v1h-1zM70 276h1v2h-1zM71 275h1v1h-1zM72 274h1v1h-1zM73 273h1v1h-1zM74 272h1v1h-1zM75 271h1v1h-1zM76 270h1v1h-1zM77 269h1v1h-1zM78 268h1v2h-1zM79 267h1v1h-1zM80 266h1v1h-1zM81 264h1v2h-1zM82 263h1v1h-1zM83 262h1v1h-1zM84 261h1v1h-1zM85 260h1v1h-1zM86 259h1v1h-1zM87 258h1v1h-1zM88 257h1v1h-1zM89 256h1v1h-1zM90 255h1v1h-1zM91 255h1v1h-1zM92 254h1v1h-1zM93 254h1v1h-1zM94 253h1v1h-1zM95 252h1v1h-1zM96 251h1v1h-1zM97 250h1v1h-1zM98 248h1v2h-1zM99 247h1v1h-1zM100 245h1v2h-1zM101 244h1v1h-1zM102 242h1v2h-1zM103 241h1v1h-1zM104 240h1v1h-1zM105 238h1v2h-1zM106 237h1v1h-1zM107 236h1v1h-1zM108 235h1v1h-1zM109 234h1v1h-1zM110 233h1v1h-1zM111 232h1v1h-1zM112 231h1v1h-1zM113 230h1v1h-1zM114 229h1v1h-1zM115 228h1v1h-1zM116 227h1v1h-1zM117 226h1v1h-1zM118 225h1v1h-1zM119 224h1v1h-1zM120 223h1v1h-1zM121 221h1v2h-1zM122 220h1v1h-1zM123 219h1v1h-1zM124 218h1v1h-1zM125 217h1v1h-1zM126 214h1v3h-1zM127 212h1v2h-1zM128 210h1v2h-1zM129 208h1v2h-1zM130 205h1v3h-1zM131 204h1v1h-1zM132 203h1v1h-1zM133 202h1v1h-1zM134 201h1v1h-1zM135 200h1v1h-1zM136 198h1v2h-1zM137 197h1v1h-1zM138 196h1v1h-1zM139 195h1v1h-1zM140 194h1v1h-1zM141 193h1v1h-1zM142 191h1v2h-1zM143 190h1v1h-1zM144 188h1v2h-1zM145 187h1v1h-1zM146 185h1v2h-1zM147 184h1v1h-1zM148 183h1v1h-1zM149 182h1v1h-1zM150 181h1v1h-1zM151 181h1v1h-1zM152 180h1v1h-1zM153 179h1v1h-1zM154 178h1v1h-1zM155 178h1v1h-1zM156 178h1v1h-1zM157 178h1v1h-1zM158 178h1v1h-1zM159 179h1v1h-1zM160 178h1v1h-1zM161 178h1v1h-1zM162 178h1v1h-1zM163 178h1v1h-1zM164 178h1v1h-1zM165 178h1v1h-1zM166 178h1v1h-1zM167 177h1v1h-1zM168 177h1v1h-1zM169 177h1v1h-1zM170 176h1v1h-1zM171 176h1v1h-1zM172 176h1v1h-1zM173 176h1v1h-1zM174 176h1v1h-1zM175 176h1v1h-1zM176 176h1v1h-1zM177 177h1v1h-1zM178 177h1v1h-1zM179 178h1v1h-1zM180 178h1v1h-1zM181 179h1v1h-1zM182 179h1v1h-1zM183 180h1v1h-1zM184 180h1v1h-1zM185 180h1v1h-1zM186 180h1v1h-1zM187 180h1v1h-1zM188 181h1v1h-1zM189 181h1v1h-1zM190 181h1v1h-1zM191 181h1v1h-1zM192 181h1v1h-1zM193 182h1v1h-1zM194 182h1v1h-1zM195 182h1v1h-1zM196 183h1v1h-1zM197 184h1v1h-1zM198 184h1v1h-1zM199 185h1v1h-1zM200 186h1v1h-1zM201 187h1v1h-1zM202 188h1v1h-1zM203 189h1v1h-1zM204 189h1v1h-1zM205 190h1v1h-1zM206 191h1v1h-1zM207 192h1v1h-1zM208 193h1v1h-1zM209 193h1v1h-1zM210 194h1v1h-1zM211 195h1v1h-1zM212 196h1v1h-1zM213 197h1v1h-1zM214 198h1v1h-1zM215 198h1v1h-1zM216 199h1v1h-1zM217 200h1v1h-1zM218 201h1v1h-1zM219 201h1v1h-1zM220 202h1v1h-1zM221 203h1v1h-1zM222 204h1v1h-1zM223 204h1v1h-1zM224 205h1v1h-1zM225 206h1v1h-1zM226 207h1v1h-1zM227 207h1v1h-1zM228 208h1v1h-1zM229 208h1v1h-1zM230 209h1v1h-1zM231 209h1v1h-1zM232 209h1v1h-1zM233 210h1v1h-1zM234 209h1v1h-1zM235 209h1v1h-1zM236 209h1v1h-1zM237 209h1v1h-1zM238 209h1v1h-1zM239 209h1v1h-1zM240 208h1v1h-1zM241 208h1v1h-1zM242 208h1v1h-1zM243 208h1v1h-1zM244 208h1v1h-1zM245 207h1v1h-1zM246 207h1v1h-1zM247 206h1v1h-1zM248 206h1v1h-1zM249 205h1v1h-1zM250 205h1v1h-1zM251 204h1v1h-1zM252 203h1v1h-1zM253 202h1v1h-1zM254 201h1v1h-1zM255 200h1v1h-1zM256 199h1v1h-1zM257 198h1v1h-1zM258 197h1v1h-1zM259 196h1v1h-1zM260 195h1v1h-1zM261 194h1v1h-1zM262 193h1v1h-1zM263 192h1v1h-1zM264 191h1v1h-1zM265 189h1v2h-1zM266 188h1v1h-1zM267 186h1v2h-1zM268 184h1v2h-1zM269 182h1v2h-1zM270 181h1v1h-1zM271 179h1v2h-1zM272 178h1v1h-1zM273 176h1v2h-1zM274 174h1v2h-1zM275 170h1v4h-1zM276 168h1v2h-1zM277 166h1v2h-1zM278 163h1v3h-1zM279 161h1v2h-1zM280 159h1v2h-1zM281 157h1v2h-1zM282 155h1v2h-1zM283 153h1v2h-1zM284 151h1v2h-1zM285 149h1v2h-1zM286 147h1v2h-1zM287 145h1v2h-1zM288 144h1v1h-1zM289 142h1v2h-1zM290 140h1v2h-1zM291 139h1v1h-1zM292 138h1v1h-1zM293 137h1v1h-1zM294 136h1v1h-1zM295 136h1v1h-1zM296 136h1v1h-1zM297 137h1v1h-1zM298 137h1v1h-1zM299 137h1v1h-1zM300 138h1v1h-1zM301 138h1v1h-1zM302 138h1v1h-1zM303 137h1v1h-1zM304 137h1v1h-1zM305 136h1v1h-1zM306 136h1v1h-1zM307 135h1v1h-1zM308 135h1v1h-1zM309 134h1v1h-1zM310 134h1v1h-1zM311 134h1v1h-1zM312 134h1v1h-1zM313 134h1v1h-1zM314 134h1v1h-1zM315 134h1v1h-1zM316 134h1v1h-1zM317 134h1v1h-1zM318 134h1v1h-1zM319 135h1v1h-1zM320 135h1v1h-1zM321 136h1v1h-1zM322 136h1v1h-1zM323 137h1v1h-1zM324 137h1v1h-1zM325 138h1v2h-1zM326 140h1v2h-1zM327 142h1v1h-1zM328 143h1v2h-1zM329 145h1v1h-1zM330 146h1v2h-1zM331 148h1v1h-1zM332 149h1v2h-1zM333 151h1v1h-1zM334 152h1v1h-1zM335 153h1v1h-1zM336 154h1v2h-1zM337 156h1v1h-1zM338 157h1v1h-1zM339 158h1v1h-1zM340 159h1v2h-1zM341 161h1v2h-1zM342 163h1v1h-1zM343 164h1v2h-1zM344 166h1v2h-1zM345 168h1v2h-1zM346 170h1v1h-1zM347 171h1v1h-1zM348 172h1v1h-1zM349 173h1v1h-1zM350 174h1v1h-1zM351 174h1v1h-1zM352 174h1v1h-1zM353 174h1v1h-1zM354 175h1v1h-1zM355 175h1v1h-1zM356 175h1v1h-1zM357 175h1v1h-1zM358 175h1v1h-1zM359 175h1v1h-1zM360 176h1v1h-1zM361 176h1v1h-1zM362 176h1v1h-1zM363 176h1v1h-1zM364 176h1v1h-1zM365 176h1v1h-1zM366 177h1v1h-1zM367 177h1v1h-1zM368 177h1v1h-1zM369 178h1v1h-1zM370 178h1v1h-1zM371 179h1v1h-1zM372 179h1v1h-1zM373 179h1v1h-1zM374 178h1v1h-1zM375 177h1v1h-1zM376 177h1v1h-1zM377 176h1v1h-1zM378 177h1v1h-1zM379 177h1v1h-1zM380 177h1v1h-1zM381 177h1v1h-1zM382 177h1v1h-1zM383 178h1v1h-1zM384 178h1v1h-1zM385 179h1v1h-1zM386 180h1v1h-1zM387 181h1v1h-1zM388 182h1v1h-1zM389 183h1v1h-1zM390 184h1v1h-1zM391 185h1v1h-1zM392 186h1v1h-1zM393 187h1v1h-1zM394 188h1v1h-1zM395 189h1v1h-1zM396 190h1v1h-1zM397 191h1v1h-1zM398 192h1v1h-1zM399 193h1v1h-1zM400 194h1v1h-1zM401 195h1v1h-1zM402 196h1v1h-1zM403 197h1v1h-1zM404 198h1v1h-1zM405 199h1v1h-1zM406 200h1v1h-1zM407 201h1v1h-1zM408 202h1v1h-1zM409 203h1v1h-1zM410 204h1v1h-1zM411 205h1v1h-1zM412 206h1v2h-1zM413 208h1v1h-1zM414 209h1v1h-1zM415 210h1v1h-1zM416 211h1v1h-1zM417 212h1v2h-1zM418 214h1v1h-1zM419 215h1v1h-1zM420 216h1v2h-1zM421 218h1v1h-1zM422 218h1v1h-1zM423 218h1v1h-1zM424 218h1v1h-1zM425 218h1v2h-1zM426 220h1v1h-1zM427 221h1v1h-1zM428 222h1v2h-1zM429 224h1v1h-1zM430 225h1v1h-1zM431 226h1v1h-1zM432 227h1v1h-1zM433 227h1v1h-1zM434 227h1v1h-1zM435 228h1v1h-1zM436 228h1v1h-1zM437 229h1v1h-1zM438 228h1v1h-1zM439 228h1v1h-1zM440 228h1v1h-1zM441 228h1v1h-1zM442 228h1v1h-1zM443 228h1v1h-1zM444 228h1v1h-1zM445 228h1v1h-1zM446 228h1v1h-1zM447 228h1v1h-1zM448 228h1v1h-1zM449 227h1v1h-1zM450 227h1v1h-1zM451 227h1v1h-1zM452 226h1v1h-1zM453 226h1v1h-1zM454 226h1v1h-1zM455 225h1v1h-1zM456 223h1v2h-1zM457 222h1v1h-1zM458 221h1v1h-1zM459 220h1v1h-1zM460 219h1v1h-1zM461 218h1v1h-1zM462 217h1v1h-1zM463 216h1v1h-1zM464 215h1v1h-1zM465 214h1v1h-1zM466 213h1v1h-1zM467 212h1v1h-1zM468 210h1v2h-1zM469 209h1v1h-1zM470 208h1v1h-1zM471 207h1v1h-1zM472 205h1v2h-1zM473 204h1v1h-1zM474 203h1v1h-1zM475 202h1v1h-1zM476 201h1v1h-1zM477 200h1v1h-1zM478 200h1v1h-1zM479 199h1v1h-1zM480 198h1v1h-1zM481 198h1v1h-1zM482 197h1v1h-1zM483 196h1v1h-1zM484 196h1v1h-1zM485 195h1v1h-1zM486 194h1v1h-1zM487 193h1v1h-1zM488 192h1v1h-1zM489 191h1v1h-1zM490 190h1v1h-1zM491 189h1v1h-1zM492 188h1v1h-1zM493 187h1v1h-1zM494 186h1v1h-1zM495 184h1v2h-1zM496 183h1v1h-1zM497 181h1v2h-1zM498 180h1v1h-1zM499 179h1v1h-1zM500 177h1v2h-1zM501 176h1v1h-1zM502 175h1v1h-1zM503 174h1v1h-1zM504 173h1v1h-1zM505 172h1v1h-1zM506 171h1v1h-1zM507 170h1v1h-1zM508 169h1v1h-1zM509 168h1v1h-1zM510 168h1v1h-1zM511 168h1v1h-1zM512 168h1v1h-1zM513 168h1v1h-1zM514 169h1v1h-1zM515 169h1v1h-1zM516 170h1v1h-1zM517 170h1v1h-1zM518 170h1v1h-1zM519 170h1v1h-1zM520 170h1v1h-1zM521 170h1v1h-1zM522 170h1v1h-1zM523 170h1v1h-1zM524 170h1v1h-1zM525 171h1v1h-1zM526 171h1v1h-1zM527 171h1v1h-1zM528 171h1v1h-1zM529 170h1v1h-1zM530 170h1v1h-1zM531 170h1v1h-1zM532 169h1v1h-1zM533 169h1v1h-1zM534 168h1v1h-1zM535 167h1v1h-1zM536 166h1v1h-1zM537 165h1v1h-1zM538 164h1v1h-1zM539 163h1v1h-1zM540 162h1v1h-1zM541 161h1v1h-1zM542 160h1v1h-1zM543 159h1v1h-1zM544 158h1v1h-1zM545 157h1v1h-1zM546 156h1v1h-1zM547 156h1v1h-1zM548 155h1v1h-1zM549 155h1v1h-1zM550 155h1v1h-1zM551 155h1v1h-1zM552 156h1v1h-1zM553 156h1v1h-1zM554 157h1v1h-1zM555 157h1v1h-1zM556 158h1v1h-1zM557 159h1v1h-1zM558 158h1v1h-1zM559 158h1v1h-1zM560 158h1v1h-1zM561 158h1v1h-1zM562 157h1v1h-1zM563 157h1v1h-1zM564 157h1v1h-1zM565 156h1v1h-1zM566 156h1v1h-1zM567 155h1v1h-1zM568 155h1v1h-1zM569 154h1v1h-1zM570 154h1v1h-1zM571 154h1v1h-1zM572 153h1v1h-1zM573 153h1v1h-1zM574 153h1v1h-1zM575 153h1v1h-1zM576 152h1v1h-1zM577 152h1v1h-1zM578 152h1v1h-1zM579 151h1v1h-1zM580 151h1v1h-1zM581 150h1v1h-1zM582 150h1v1h-1zM583 150h1v1h-1zM584 151h1v1h-1zM585 151h1v1h-1zM586 151h1v1h-1zM587 151h1v1h-1zM588 152h1v1h-1zM589 153h1v1h-1zM590 154h1v1h-1zM591 155h1v1h-1zM592 155h1v1h-1zM593 156h1v1h-1zM594 157h1v1h-1zM595 158h1v1h-1zM596 159h1v1h-1zM597 160h1v1h-1zM598 161h1v2h-1zM599 163h1v1h-1zM600 164h1v1h-1zM601 165h1v1h-1zM602 166h1v1h-1zM603 166h1v1h-1zM604 167h1v1h-1zM605 167h1v1h-1zM606 168h1v1h-1zM607 168h1v1h-1zM608 169h1v1h-1zM609 169h1v1h-1zM610 169h1v1h-1zM611 169h1v1h-1zM612 170h1v1h-1zM613 170h1v1h-1zM614 170h1v1h-1zM615 170h1v1h-1zM616 171h1v1h-1zM617 171h1v1h-1zM618 171h1v1h-1zM619 171h1v1h-1zM620 171h1v1h-1zM621 171h1v1h-1zM622 171h1v1h-1zM623 171h1v1h-1zM624 172h1v1h-1zM625 173h1v1h-1zM626 173h1v1h-1zM627 174h1v1h-1zM628 174h1v1h-1zM629 175h1v1h-1zM630 175h1v1h-1zM631 175h1v1h-1zM632 175h1v1h-1zM633 176h1v1h-1zM634 177h1v1h-1zM635 177h1v1h-1zM636 178h1v1h-1zM637 178h1v1h-1zM638 178h1v1h-1zM639 177h1v1h-1zM640 177h1v1h-1zM641 176h1v1h-1zM642 176h1v1h-1zM643 176h1v1h-1zM644 176h1v1h-1zM645 176h1v1h-1zM646 176h1v1h-1zM647 176h1v1h-1zM648 176h1v1h-1zM649 176h1v1h-1zM650 176h1v1h-1zM651 176h1v1h-1zM652 176h1v1h-1zM653 177h1v1h-1zM654 177h1v1h-1zM655 177h1v1h-1zM656 177h1v1h-1zM657 178h1v1h-1zM658 178h1v1h-1zM659 178h1v1h-1zM660 179h1v1h-1zM661 179h1v1h-1zM662 179h1v1h-1zM663 179h1v1h-1zM664 179h1v1h-1zM665 180h1v1h-1zM666 180h1v1h-1zM667 180h1v1h-1zM668 180h1v1h-1zM669 180h1v1h-1zM670 180h1v1h-1zM671 181h1v1h-1zM672 181h1v1h-1zM673 182h1v1h-1zM674 183h1v2h-1zM675 185h1v2h-1zM676 187h1v2h-1zM677 189h1v2h-1zM678 191h1v1h-1zM679 192h1v2h-1zM680 194h1v1h-1zM681 195h1v2h-1zM682 197h1v1h-1zM683 198h1v2h-1zM684 200h1v1h-1zM685 201h1v2h-1zM686 203h1v3h-1zM687 206h1v2h-1zM688 208h1v2h-1zM689 210h1v2h-1zM690 212h1v2h-1zM691 214h1v1h-1zM692 215h1v2h-1zM693 217h1v1h-1zM694 218h1v1h-1zM695 219h1v2h-1zM696 221h1v1h-1zM697 222h1v2h-1zM698 224h1v1h-1zM699 225h1v1h-1zM700 226h1v1h-1zM701 227h1v2h-1zM702 229h1v1h-1zM703 230h1v1h-1zM704 231h1v2h-1zM705 233h1v1h-1zM706 234h1v1h-1zM707 235h1v2h-1zM708 237h1v1h-1zM709 238h1v1h-1zM710 239h1v1h-1zM711 240h1v1h-1zM712 241h1v1h-1zM713 242h1v2h-1zM714 244h1v1h-1zM715 245h1v2h-1zM716 247h1v1h-1zM717 248h1v2h-1zM718 250h1v2h-1zM719 252h1v2h-1zM720 254h1v2h-1zM721 256h1v2h-1zM722 258h1v2h-1zM723 260h1v2h-1zM724 262h1v2h-1zM725 264h1v1h-1zM726 265h1v2h-1zM727 267h1v2h-1zM728 269h1v1h-1zM729 270h1v1h-1zM730 270h1v1h-1zM731 270h1v1h-1zM732 269h1v1h-1zM733 269h1v1h-1zM734 269h1v1h-1zM735 269h1v1h-1zM736 269h1v1h-1zM737 269h1v1h-1zM738 269h1v1h-1zM739 269h1v1h-1zM740 269h1v1h-1zM741 269h1v1h-1zM742 269h1v1h-1zM743 270h1v1h-1zM744 270h1v1h-1zM745 271h1v1h-1zM746 271h1v1h-1zM747 272h1v1h-1zM748 273h1v1h-1zM749 274h1v1h-1zM750 275h1v1h-1zM751 276h1v1h-1zM752 277h1v1h-1zM753 278h1v1h-1zM754 278h1v1h-1zM755 279h1v1h-1zM756 279h1v1h-1zM757 280h1v1h-1zM758 281h1v1h-1zM759 282h1v1h-1zM760 283h1v1h-1zM761 284h1v1h-1zM762 285h1v1h-1zM763 286h1v1h-1zM764 287h1v1h-1zM765 288h1v1h-1zM766 288h1v1h-1zM767 289h1v1h-1zM768 290h1v1h-1zM769 291h1v1h-1zM770 291h1v1h-1zM771 292h1v1h-1zM772 293h1v1h-1zM773 294h1v1h-1zM774 294h1v1h-1zM775 295h1v1h-1zM776 296h1v1h-1zM777 297h1v1h-1zM778 297h1v1h-1zM779 298h1v1h-1zM780 299h1v1h-1zM781 300h1v2h-1zM782 302h1v1h-1zM783 303h1v1h-1zM784 304h1v1h-1zM785 305h1v2h-1zM786 307h1v1h-1zM787 308h1v2h-1zM788 310h1v1h-1zM789 311h1v1h-1zM790 312h1v2h-1zM791 314h1v1h-1zM792 315h1v2h-1zM793 317h1v1h-1zM794 318h1v1h-1zM795 319h1v1h-1zM796 320h1v2h-1zM797 322h1v1h-1zM798 323h1v1h-1zM799 324h1v1h-1zM800 325h1v1h-1zM801 326h1v1h-1zM802 326h1v1h-1zM803 327h1v1h-1zM804 327h1v1h-1zM805 328h1v1h-1zM806 329h1v1h-1zM807 330h1v1h-1zM808 331h1v1h-1zM809 332h1v1h-1zM810 333h1v2h-1zM811 335h1v1h-1zM812 336h1v1h-1zM813 337h1v1h-1zM814 338h1v1h-1zM815 339h1v1h-1zM816 340h1v1h-1zM817 341h1v1h-1zM818 341h1v1h-1zM819 342h1v1h-1zM820 342h1v1h-1zM821 343h1v1h-1zM822 344h1v1h-1zM823 345h1v1h-1zM824 346h1v1h-1zM825 347h1v1h-1zM826 348h1v1h-1zM827 349h1v1h-1zM828 349h1v1h-1zM829 350h1v1h-1zM830 351h1v1h-1zM831 351h1v1h-1zM832 351h1v1h-1zM833 351h1v1h-1zM834 351h1v1h-1zM835 351h1v1h-1zM836 351h1v1h-1zM837 351h1v1h-1zM838 351h1v1h-1zM839 351h1v1h-1zM840 351h1v1h-1zM841 351h1v1h-1zM842 351h1v1h-1zM843 350h1v1h-1zM844 349h1v1h-1zM845 348h1v1h-1zM846 348h1v1h-1zM847 348h1v1h-1zM848 348h1v1h-1zM849 348h1v1h-1zM850 348h1v1h-1zM851 348h1v1h-1zM852 348h1v1h-1zM853 349h1v1h-1zM854 349h1v1h-1zM855 349h1v1h-1zM856 349h1v1h-1zM857 350h1v1h-1zM858 350h1v1h-1zM859 350h1v1h-1zM860 350h1v1h-1zM861 350h1v1h-1zM862 350h1v1h-1zM863 350h1v1h-1zM864 350h1v1h-1zM865 350h1v1h-1zM866 350h1v1h-1zM867 350h1v1h-1zM868 351h1v1h-1zM869 351h1v1h-1zM870 351h1v1h-1zM871 351h1v1h-1zM872 351h1v1h-1zM873 351h1v1h-1zM874 351h1v1h-1zM875 351h1v1h-1zM876 351h1v1h-1zM877 351h1v1h-1zM878 351h1v1h-1zM879 351h1v1h-1zM880 351h1v1h-1zM881 352h1v1h-1zM882 352h1v1h-1zM883 353h1v1h-1zM884 354h1v1h-1zM885 355h1v1h-1zM886 356h1v1h-1zM887 357h1v1h-1zM888 358h1v2h-1zM889 360h1v2h-1zM890 362h1v1h-1zM891 363h1v2h-1zM892 365h1v2h-1zM893 367h1v2h-1zM894 369h1v2h-1zM895 371h1v2h-1zM896 373h1v2h-1zM897 375h1v2h-1zM898 377h1v2h-1zM899 379h1v2h-1zM900 381h1v3h-1zM901 384h1v2h-1zM902 386h1v1h-1zM903 387h1v1h-1zM904 388h1v1h-1zM905 389h1v1h-1zM906 390h1v1h-1zM907 390h1v1h-1zM908 391h1v1h-1zM909 391h1v1h-1zM910 392h1v1h-1zM911 392h1v1h-1zM912 393h1v1h-1zM913 394h1v1h-1zM914 395h1v1h-1zM915 396h1v1h-1zM916 396h1v1h-1zM917 397h1v1h-1zM918 398h1v1h-1zM919 398h1v1h-1zM920 399h1v1h-1zM921 400h1v1h-1zM922 400h1v1h-1zM923 401h1v1h-1zM924 401h1v1h-1z" fill="#ff0000"/>
</g>
<g shape-rendering="crispEdges">
<rect x="4" y="181" width="1163" height="2" fill="#ff0000"/>
<rect x="4" y="251" width="1163" height="2" fill="#ff0000"/>
<rect x="4" y="332" width="1163" height="2" fill="#00ff00"/>
<rect x="3" y="330" width="6" height="6" fill="#00ff00"/>
<rect x="5" y="332" width="2" height="2" fill="#fff"/>
<rect x="1160" y="330" width="6" height="6" fill="#00ff00"/>
<rect x="1162" y="332" width="2" height="2" fill="#fff"/>
<rect x="4" y="407" width="1163" height="2" fill="#0000ff"/>
<rect x="3" y="405" width="6" height="6" fill="#0000ff"/>
<rect x="5" y="407" width="2" height="2" fill="#fff"/>
<rect x="1160" y="405" width="6" height="6" fill="#0000ff"/>
<rect x="1162" y="407" width="2" height="2" fill="#fff"/>
<rect x="4" y="478" width="1163" height="2" fill="#0000ff"/>
<rect x="3" y="476" width="6" height="6" fill="#0000ff"/>
<rect x="5" y="478" width="2" height="2" fill="#fff"/>
<rect x="1160" y="476" width="6" height="6" fill="#0000ff"/>
<rect x="1162" y="478" width="2" height="2" fill="#fff"/>
<rect x="4" y="482" width="1163" height="2" fill="#ff0000"/>
</g>
<g shape-rendering="crispEdges">
<rect x="4" y="346" width="1" height="18" fill="#32cd32"/>
<rect x="4" y="350" width="2" height="6" fill="#32cd32"/>
<rect x="8" y="337" width="1" height="21" fill="#ff0000"/>
<rect x="7" y="343" width="3" height="12" fill="#ff0000"/>
<rect x="8" y="344" width="1" height="10" fill="#ff4500"/>
<rect x="12" y="312" width="1" height="33" fill="#ff0000"/>
<rect x="11" y="312" width="3" height="32" fill="#ff0000"/>
<rect x="12" y="313" width="1" height="30" fill="#ff4500"/>
<rect x="16" y="311" width="1" height="19" fill="#32cd32"/>
<rect x="15" y="313" width="3" height="6" fill="#32cd32"/>
<rect x="20" y="313" width="1" height="7" fill="#ff0000"/>
<rect x="19" y="315" width="3" height="4" fill="#ff0000"/>
<rect x="20" y="316" width="1" height="2" fill="#ff4500"/>
<rect x="24" y="312" width="1" height="36" fill="#ff0000"/>
<rect x="23" y="313" width="3" height="7" fill="#ff0000"/>
<rect x="24" y="314" width="1" height="5" fill="#ff4500"/>
<rect x="28" y="309" width="1" height="26" fill="#32cd32"/>
<rect x="27" y="313" width="3" height="16" fill="#32cd32"/>
<rect x="32" y="294" width="1" height="39" fill="#ff0000"/>
<rect x="31" y="305" width="3" height="24" fill="#ff0000"/>
<rect x="32" y="306" width="1" height="22" fill="#ff4500"/>
<rect x="36" y="273" width="1" height="51" fill="#ff0000"/>
<rect x="35" y="278" width="3" height="28" fill="#ff0000"/>
<rect x="36" y="279" width="1" height="26" fill="#ff4500"/>
<rect x="40" y="252" width="1" height="30" fill="#ff0000"/>
<rect x="39" y="270" width="3" height="9" fill="#ff0000"/>
<rect x="40" y="271" width="1" height="7" fill="#ff4500"/>
<rect x="44" y="266" width="1" height="9" fill="#ff0000"/>
<rect x="43" y="269" width="3" height="2" fill="#ff0000"/>
<rect x="48" y="250" width="1" height="26" fill="#32cd32"/>
<rect x="47" y="264" width="3" height="6" fill="#32cd32"/>
<rect x="52" y="264" width="1" height="20" fill="#ff0000"/>
<rect x="51" y="268" width="3" height="2" fill="#ff0000"/>
<rect x="56" y="249" width="1" height="21" fill="#ff0000"/>
<rect x="55" y="257" width="3" height="12" fill="#ff0000"/>
<rect x="56" y="258" width="1" height="10" fill="#ff4500"/>
<rect x="60" y="221" width="1" height="48" fill="#ff0000"/>
<rect x="59" y="230" width="3" height="27" fill="#ff0000"/>
<rect x="60" y="231" width="1" height="25" fill="#ff4500"/>
<rect x="64" y="223" width="1" height="25" fill="#32cd32"/>
<rect x="63" y="231" width="3" height="5" fill="#32cd32"/>
<rect x="68" y="229" width="1" height="10" fill="#ff0000"/>
<rect x="67" y="232" width="3" height="4" fill="#ff0000"/>
<rect x="68" y="233" width="1" height="2" fill="#ff4500"/>
<rect x="72" y="236" width="1" height="70" fill="#32cd32"/>
<rect x="71" y="239" width="3" height="21" fill="#32cd32"/>
<rect x="76" y="240" width="1" height="40" fill="#32cd32"/>
<rect x="75" y="259" width="3" height="19" fill="#32cd32"/>
<rect x="80" y="243" width="1" height="36" fill="#ff0000"/>
<rect x="79" y="251" width="3" height="27" fill="#ff0000"/>
<rect x="80" y="252" width="1" height="25" fill="#ff4500"/>
<rect x="84" y="236" width="1" height="19" fill="#ff0000"/>
<rect x="83" y="241" width="3" height="9" fill="#ff0000"/>
<rect x="84" y="242" width="1" height="7" fill="#ff4500"/>
<rect x="88" y="237" width="1" height="10" fill="#32cd32"/>
<rect x="87" y="240" width="3" height="4" fill="#32cd32"/>
<rect x="92" y="229" width="1" height="32" fill="#32cd32"/>
<rect x="91" y="241" width="3" height="15" fill="#32cd32"/>
<rect x="96" y="230" width="1" height="28" fill="#ff0000"/>
<rect x="95" y="233" width="3" height="23" fill="#ff0000"/>
<rect x="96" y="234" width="1" height="21" fill="#ff4500"/>
<rect x="100" y="199" width="1" height="39" fill="#ff0000"/>
<rect x="99" y="199" width="3" height="35" fill="#ff0000"/>
<rect x="100" y="200" width="1" height="33" fill="#ff4500"/>
<rect x="104" y="172" width="1" height="33" fill="#ff0000"/>
<rect x="103" y="183" width="3" height="17" fill="#ff0000"/>
<rect x="104" y="184" width="1" height="15" fill="#ff4500"/>
<rect x="108" y="183" width="1" height="15" fill="#32cd32"/>
<rect x="107" y="183" width="3" height="14" fill="#32cd32"/>
<rect x="112" y="173" width="1" height="29" fill="#32cd32"/>
<rect x="111" y="195" width="3" height="6" fill="#32cd32"/>
<rect x="116" y="177" width="1" height="43" fill="#ff0000"/>
<rect x="115" y="179" width="3" height="21" fill="#ff0000"/>
<rect x="116" y="180" width="1" height="19" fill="#ff4500"/>
<rect x="120" y="135" width="1" height="46" fill="#ff0000"/>
<rect x="119" y="159" width="3" height="21" fill="#ff0000"/>
<rect x="120" y="160" width="1" height="19" fill="#ff4500"/>
<rect x="124" y="137" width="1" height="44" fill="#32cd32"/>
<rect x="123" y="158" width="3" height="12" fill="#32cd32"/>
<rect x="128" y="146" width="1" height="29" fill="#ff0000"/>
<rect x="127" y="154" width="3" height="16" fill="#ff0000"/>
<rect x="128" y="155" width="1" height="14" fill="#ff4500"/>
<rect x="132" y="152" width="1" height="28" fill="#32cd32"/>
<rect x="131" y="154" width="3" height="16" fill="#32cd32"/>
<rect x="136" y="165" width="1" height="44" fill="#32cd32"/>
<rect x="135" y="166" width="3" height="31" fill="#32cd32"/>
<rect x="140" y="173" width="1" height="26" fill="#ff0000"/>
<rect x="139" y="180" width="3" height="15" fill="#ff0000"/>
<rect x="140" y="181" width="1" height="13" fill="#ff4500"/>
<rect x="144" y="154" width="1" height="31" fill="#ff0000"/>
<rect x="143" y="173" width="3" height="9" fill="#ff0000"/>
<rect x="144" y="174" width="1" height="7" fill="#ff4500"/>
<rect x="148" y="157" width="1" height="27" fill="#ff0000"/>
<rect x="147" y="159" width="3" height="15" fill="#ff0000"/>
<rect x="148" y="160" width="1" height="13" fill="#ff4500"/>
<rect x="152" y="142" width="1" height="60" fill="#32cd32"/>
<rect x="151" y="159" width="3" height="33" fill="#32cd32"/>
<rect x="156" y="179" width="1" height="16" fill="#ff0000"/>
<rect x="155" y="188" width="3" height="4" fill="#ff0000"/>
<rect x="156" y="189" width="1" height="2" fill="#ff4500"/>
<rect x="160" y="187" width="1" height="25" fill="#32cd32"/>
<rect x="159" y="190" width="3" height="10" fill="#32cd32"/>
<rect x="164" y="179" width="1" height="26" fill="#ff0000"/>
<rect x="163" y="190" width="3" height="10" fill="#ff0000"/>
<rect x="164" y="191" width="1" height="8" fill="#ff4500"/>
<rect x="168" y="163" width="1" height="36" fill="#ff0000"/>
<rect x="167" y="171" width="3" height="19" fill="#ff0000"/>
<rect x="168" y="172" width="1" height="17" fill="#ff4500"/>
<rect x="172" y="153" width="1" height="23" fill="#ff0000"/>
<rect x="171" y="162" width="3" height="10" fill="#ff0000"/>
<rect x="172" y="163" width="1" height="8" fill="#ff4500"/>
<rect x="176" y="159" width="1" height="33" fill="#32cd32"/>
<rect x="175" y="162" width="3" height="22" fill="#32cd32"/>
<rect x="180" y="178" width="1" height="10" fill="#32cd32"/>
<rect x="179" y="180" width="3" height="5" fill="#32cd32"/>
<rect x="184" y="170" width="1" height="22" fill="#32cd32"/>
<rect x="183" y="188" width="3" height="3" fill="#32cd32"/>
<rect x="188" y="167" width="1" height="41" fill="#ff0000"/>
<rect x="187" y="170" width="3" height="20" fill="#ff0000"/>
<rect x="188" y="171" width="1" height="18" fill="#ff4500"/>
<rect x="192" y="162" width="1" height="58" fill="#32cd32"/>
<rect x="191" y="170" width="3" height="29" fill="#32cd32"/>
<rect x="196" y="192" width="1" height="52" fill="#32cd32"/>
<rect x="195" y="198" width="3" height="10" fill="#32cd32"/>
<rect x="200" y="190" width="1" height="34" fill="#ff0000"/>
<rect x="199" y="205" width="3" height="2" fill="#ff0000"/>
<rect x="204" y="204" width="1" height="22" fill="#32cd32"/>
<rect x="203" y="205" width="3" height="17" fill="#32cd32"/>
<rect x="208" y="210" width="1" height="28" fill="#32cd32"/>
<rect x="207" y="227" width="3" height="5" fill="#32cd32"/>
<rect x="212" y="210" width="1" height="47" fill="#32cd32"/>
<rect x="211" y="231" width="3" height="19" fill="#32cd32"/>
<rect x="216" y="227" width="1" height="24" fill="#ff0000"/>
<rect x="215" y="233" width="3" height="17" fill="#ff0000"/>
<rect x="216" y="234" width="1" height="15" fill="#ff4500"/>
<rect x="220" y="217" width="1" height="29" fill="#32cd32"/>
<rect x="219" y="233" width="3" height="8" fill="#32cd32"/>
<rect x="224" y="212" width="1" height="36" fill="#ff0000"/>
<rect x="223" y="212" width="3" height="29" fill="#ff0000"/>
<rect x="224" y="213" width="1" height="27" fill="#ff4500"/>
<rect x="228" y="206" width="1" height="10" fill="#ff0000"/>
<rect x="227" y="207" width="3" height="6" fill="#ff0000"/>
<rect x="228" y="208" width="1" height="4" fill="#ff4500"/>
<rect x="232" y="185" width="1" height="31" fill="#ff0000"/>
<rect x="231" y="188" width="3" height="19" fill="#ff0000"/>
<rect x="232" y="189" width="1" height="17" fill="#ff4500"/>
<rect x="236" y="175" width="1" height="21" fill="#ff0000"/>
<rect x="235" y="180" width="3" height="7" fill="#ff0000"/>
<rect x="236" y="181" width="1" height="5" fill="#ff4500"/>
<rect x="240" y="166" width="1" height="21" fill="#ff0000"/>
<rect x="239" y="177" width="3" height="6" fill="#ff0000"/>
<rect x="240" y="178" width="1" height="4" fill="#ff4500"/>
<rect x="244" y="158" width="1" height="29" fill="#ff0000"/>
<rect x="243" y="164" width="3" height="14" fill="#ff0000"/>
<rect x="244" y="165" width="1" height="12" fill="#ff4500"/>
<rect x="248" y="163" width="1" height="20" fill="#32cd32"/>
<rect x="247" y="164" width="3" height="4" fill="#32cd32"/>
<rect x="252" y="162" width="1" height="10" fill="#ff0000"/>
<rect x="251" y="166" width="3" height="3" fill="#ff0000"/>
<rect x="252" y="167" width="1" height="1" fill="#ff4500"/>
<rect x="256" y="151" width="1" height="15" fill="#ff0000"/>
<rect x="255" y="153" width="3" height="12" fill="#ff0000"/>
<rect x="256" y="154" width="1" height="10" fill="#ff4500"/>
<rect x="260" y="143" width="1" height="29" fill="#32cd32"/>
<rect x="259" y="153" width="3" height="5" fill="#32cd32"/>
<rect x="264" y="155" width="1" height="26" fill="#32cd32"/>
<rect x="263" y="157" width="3" height="19" fill="#32cd32"/>
<rect x="268" y="150" width="1" height="33" fill="#ff0000"/>
<rect x="267" y="173" width="3" height="3" fill="#ff0000"/>
<rect x="268" y="174" width="1" height="1" fill="#ff4500"/>
<rect x="272" y="113" width="1" height="63" fill="#ff0000"/>
<rect x="271" y="115" width="3" height="59" fill="#ff0000"/>
<rect x="272" y="116" width="1" height="57" fill="#ff4500"/>
<rect x="276" y="108" width="1" height="11" fill="#ff0000"/>
<rect x="275" y="114" width="3" height="2" fill="#ff0000"/>
<rect x="280" y="89" width="1" height="31" fill="#ff0000"/>
<rect x="279" y="96" width="3" height="17" fill="#ff0000"/>
<rect x="280" y="97" width="1" height="15" fill="#ff4500"/>
<rect x="284" y="81" width="1" height="27" fill="#ff0000"/>
<rect x="283" y="94" width="3" height="3" fill="#ff0000"/>
<rect x="284" y="95" width="1" height="1" fill="#ff4500"/>
<rect x="288" y="76" width="1" height="25" fill="#ff0000"/>
<rect x="287" y="89" width="3" height="6" fill="#ff0000"/>
<rect x="288" y="90" width="1" height="4" fill="#ff4500"/>
<rect x="292" y="47" width="1" height="44" fill="#ff0000"/>
<rect x="291" y="71" width="3" height="19" fill="#ff0000"/>
<rect x="292" y="72" width="1" height="17" fill="#ff4500"/>
<rect x="296" y="68" width="1" height="110" fill="#32cd32"/>
<rect x="295" y="71" width="3" height="101" fill="#32cd32"/>
<rect x="300" y="167" width="1" height="23" fill="#32cd32"/>
<rect x="299" y="171" width="3" height="18" fill="#32cd32"/>
<rect x="304" y="151" width="1" height="37" fill="#ff0000"/>
<rect x="303" y="153" width="3" height="30" fill="#ff0000"/>
<rect x="304" y="154" width="1" height="28" fill="#ff4500"/>
<rect x="308" y="138" width="1" height="38" fill="#ff0000"/>
<rect x="307" y="139" width="3" height="15" fill="#ff0000"/>
<rect x="308" y="140" width="1" height="13" fill="#ff4500"/>
<rect x="312" y="127" width="1" height="33" fill="#32cd32"/>
<rect x="311" y="139" width="3" height="8" fill="#32cd32"/>
<rect x="316" y="138" width="1" height="30" fill="#ff0000"/>
<rect x="315" y="145" width="3" height="2" fill="#ff0000"/>
<rect x="320" y="139" width="1" height="91" fill="#32cd32"/>
<rect x="319" y="145" width="3" height="66" fill="#32cd32"/>
<rect x="324" y="196" width="1" height="20" fill="#ff0000"/>
<rect x="323" y="197" width="3" height="13" fill="#ff0000"/>
<rect x="324" y="198" width="1" height="11" fill="#ff4500"/>
<rect x="328" y="182" width="1" height="41" fill="#32cd32"/>
<rect x="327" y="194" width="3" height="14" fill="#32cd32"/>
<rect x="332" y="183" width="1" height="47" fill="#ff0000"/>
<rect x="331" y="193" width="3" height="16" fill="#ff0000"/>
<rect x="332" y="194" width="1" height="14" fill="#ff4500"/>
<rect x="336" y="171" width="1" height="37" fill="#ff0000"/>
<rect x="335" y="186" width="3" height="8" fill="#ff0000"/>
<rect x="336" y="187" width="1" height="6" fill="#ff4500"/>
<rect x="340" y="152" width="1" height="39" fill="#ff0000"/>
<rect x="339" y="161" width="3" height="25" fill="#ff0000"/>
<rect x="340" y="162" width="1" height="23" fill="#ff4500"/>
<rect x="344" y="145" width="1" height="37" fill="#32cd32"/>
<rect x="343" y="161" width="3" height="8" fill="#32cd32"/>
<rect x="348" y="157" width="1" height="14" fill="#ff0000"/>
<rect x="347" y="166" width="3" height="4" fill="#ff0000"/>
<rect x="348" y="167" width="1" height="2" fill="#ff4500"/>
<rect x="352" y="157" width="1" height="33" fill="#32cd32"/>
<rect x="351" y="167" width="3" height="13" fill="#32cd32"/>
<rect x="356" y="164" width="1" height="24" fill="#ff0000"/>
<rect x="355" y="170" width="3" height="10" fill="#ff0000"/>
<rect x="356" y="171" width="1" height="8" fill="#ff4500"/>
<rect x="360" y="165" width="1" height="26" fill="#32cd32"/>
<rect x="359" y="170" width="3" height="19" fill="#32cd32"/>
<rect x="364" y="122" width="1" height="72" fill="#ff0000"/>
<rect x="363" y="148" width="3" height="41" fill="#ff0000"/>
<rect x="364" y="149" width="1" height="39" fill="#ff4500"/>
<rect x="368" y="143" width="1" height="42" fill="#32cd32"/>
<rect x="367" y="147" width="3" height="24" fill="#32cd32"/>
<rect x="372" y="165" width="1" height="8" fill="#ff0000"/>
<rect x="371" y="169" width="3" height="3" fill="#ff0000"/>
<rect x="372" y="170" width="1" height="1" fill="#ff4500"/>
<rect x="376" y="166" width="1" height="25" fill="#ff0000"/>
<rect x="375" y="169" width="3" height="13" fill="#ff0000"/>
<rect x="376" y="170" width="1" height="11" fill="#ff4500"/>
<rect x="380" y="165" width="1" height="49" fill="#32cd32"/>
<rect x="379" y="169" width="3" height="33" fill="#32cd32"/>
<rect x="384" y="201" width="1" height="47" fill="#32cd32"/>
<rect x="383" y="201" width="3" height="29" fill="#32cd32"/>
<rect x="388" y="226" width="1" height="32" fill="#32cd32"/>
<rect x="387" y="229" width="3" height="26" fill="#32cd32"/>
<rect x="392" y="221" width="1" height="34" fill="#ff0000"/>
<rect x="391" y="226" width="3" height="29" fill="#ff0000"/>
<rect x="392" y="227" width="1" height="27" fill="#ff4500"/>
<rect x="396" y="223" width="1" height="10" fill="#32cd32"/>
<rect x="395" y="226" width="3" height="4" fill="#32cd32"/>
<rect x="400" y="213" width="1" height="20" fill="#ff0000"/>
<rect x="399" y="219" width="3" height="3" fill="#ff0000"/>
<rect x="400" y="220" width="1" height="1" fill="#ff4500"/>
<rect x="404" y="209" width="1" height="33" fill="#32cd32"/>
<rect x="403" y="219" width="3" height="18" fill="#32cd32"/>
<rect x="408" y="222" width="1" height="25" fill="#ff0000"/>
<rect x="407" y="234" width="3" height="3" fill="#ff0000"/>
<rect x="408" y="235" width="1" height="1" fill="#ff4500"/>
<rect x="412" y="230" width="1" height="42" fill="#32cd32"/>
<rect x="411" y="234" width="3" height="5" fill="#32cd32"/>
<rect x="416" y="230" width="1" height="9" fill="#ff0000"/>
<rect x="415" y="232" width="3" height="7" fill="#ff0000"/>
<rect x="416" y="233" width="1" height="5" fill="#ff4500"/>
<rect x="420" y="238" width="1" height="4" fill="#32cd32"/>
<rect x="419" y="239" width="3" height="1" fill="#32cd32"/>
<rect x="424" y="211" width="1" height="30" fill="#ff0000"/>
<rect x="423" y="213" width="3" height="22" fill="#ff0000"/>
<rect x="424" y="214" width="1" height="20" fill="#ff4500"/>
<rect x="428" y="210" width="1" height="28" fill="#ff0000"/>
<rect x="427" y="211" width="3" height="3" fill="#ff0000"/>
<rect x="428" y="212" width="1" height="1" fill="#ff4500"/>
<rect x="432" y="203" width="1" height="31" fill="#32cd32"/>
<rect x="431" y="211" width="3" height="17" fill="#32cd32"/>
<rect x="436" y="216" width="1" height="24" fill="#ff0000"/>
<rect x="435" y="221" width="3" height="7" fill="#ff0000"/>
<rect x="436" y="222" width="1" height="5" fill="#ff4500"/>
<rect x="440" y="211" width="1" height="35" fill="#32cd32"/>
<rect x="439" y="221" width="3" height="5" fill="#32cd32"/>
<rect x="444" y="224" width="1" height="5" fill="#32cd32"/>
<rect x="443" y="225" width="3" height="3" fill="#32cd32"/>
<rect x="448" y="223" width="1" height="20" fill="#32cd32"/>
<rect x="447" y="229" width="3" height="2" fill="#32cd32"/>
<rect x="452" y="224" width="1" height="23" fill="#ff0000"/>
<rect x="451" y="226" width="3" height="5" fill="#ff0000"/>
<rect x="452" y="227" width="1" height="3" fill="#ff4500"/>
<rect x="456" y="177" width="1" height="50" fill="#ff0000"/>
<rect x="455" y="179" width="3" height="48" fill="#ff0000"/>
<rect x="456" y="180" width="1" height="46" fill="#ff4500"/>
<rect x="460" y="163" width="1" height="27" fill="#ff0000"/>
<rect x="459" y="171" width="3" height="8" fill="#ff0000"/>
<rect x="460" y="172" width="1" height="6" fill="#ff4500"/>
<rect x="464" y="164" width="1" height="18" fill="#32cd32"/>
<rect x="463" y="171" width="3" height="6" fill="#32cd32"/>
<rect x="468" y="175" width="1" height="4" fill="#32cd32"/>
<rect x="467" y="176" width="3" height="2" fill="#32cd32"/>
<rect x="472" y="152" width="1" height="38" fill="#ff0000"/>
<rect x="471" y="165" width="3" height="17" fill="#ff0000"/>
<rect x="472" y="166" width="1" height="15" fill="#ff4500"/>
<rect x="476" y="137" width="1" height="42" fill="#32cd32"/>
<rect x="475" y="165" width="3" height="9" fill="#32cd32"/>
<rect x="480" y="163" width="1" height="30" fill="#ff0000"/>
<rect x="479" y="166" width="3" height="8" fill="#ff0000"/>
<rect x="480" y="167" width="1" height="6" fill="#ff4500"/>
<rect x="484" y="162" width="1" height="27" fill="#32cd32"/>
<rect x="483" y="166" width="3" height="16" fill="#32cd32"/>
<rect x="488" y="171" width="1" height="27" fill="#ff0000"/>
<rect x="487" y="174" width="3" height="8" fill="#ff0000"/>
<rect x="488" y="175" width="1" height="6" fill="#ff4500"/>
<rect x="492" y="165" width="1" height="12" fill="#ff0000"/>
<rect x="491" y="165" width="3" height="10" fill="#ff0000"/>
<rect x="492" y="166" width="1" height="8" fill="#ff4500"/>
<rect x="496" y="138" width="1" height="35" fill="#ff0000"/>
<rect x="495" y="144" width="3" height="27" fill="#ff0000"/>
<rect x="496" y="145" width="1" height="25" fill="#ff4500"/>
<rect x="500" y="142" width="1" height="21" fill="#32cd32"/>
<rect x="499" y="144" width="3" height="14" fill="#32cd32"/>
<rect x="504" y="156" width="1" height="25" fill="#32cd32"/>
<rect x="503" y="157" width="3" height="4" fill="#32cd32"/>
<rect x="508" y="136" width="1" height="33" fill="#32cd32"/>
<rect x="507" y="160" width="3" height="6" fill="#32cd32"/>
<rect x="512" y="152" width="1" height="39" fill="#32cd32"/>
<rect x="511" y="165" width="3" height="21" fill="#32cd32"/>
<rect x="516" y="183" width="1" height="9" fill="#32cd32"/>
<rect x="515" y="185" width="3" height="7" fill="#32cd32"/>
<rect x="520" y="161" width="1" height="29" fill="#ff0000"/>
<rect x="519" y="165" width="3" height="19" fill="#ff0000"/>
<rect x="520" y="166" width="1" height="17" fill="#ff4500"/>
<rect x="524" y="161" width="1" height="44" fill="#32cd32"/>
<rect x="523" y="165" width="3" height="33" fill="#32cd32"/>
<rect x="528" y="166" width="1" height="34" fill="#ff0000"/>
<rect x="527" y="169" width="3" height="30" fill="#ff0000"/>
<rect x="528" y="170" width="1" height="28" fill="#ff4500"/>
<rect x="532" y="157" width="1" height="36" fill="#ff0000"/>
<rect x="531" y="161" width="3" height="9" fill="#ff0000"/>
<rect x="532" y="162" width="1" height="7" fill="#ff4500"/>
<rect x="536" y="116" width="1" height="48" fill="#ff0000"/>
<rect x="535" y="116" width="3" height="46" fill="#ff0000"/>
<rect x="536" y="117" width="1" height="44" fill="#ff4500"/>
<rect x="540" y="116" width="1" height="12" fill="#32cd32"/>
<rect x="539" y="116" width="3" height="8" fill="#32cd32"/>
<rect x="544" y="102" width="1" height="26" fill="#ff0000"/>
<rect x="543" y="110" width="3" height="11" fill="#ff0000"/>
<rect x="544" y="111" width="1" height="9" fill="#ff4500"/>
<rect x="548" y="109" width="1" height="27" fill="#32cd32"/>
<rect x="547" y="110" width="3" height="16" fill="#32cd32"/>
<rect x="552" y="122" width="1" height="56" fill="#32cd32"/>
<rect x="551" y="125" width="3" height="52" fill="#32cd32"/>
<rect x="556" y="170" width="1" height="29" fill="#32cd32"/>
<rect x="555" y="176" width="3" height="6" fill="#32cd32"/>
<rect x="560" y="154" width="1" height="36" fill="#ff0000"/>
<rect x="559" y="156" width="3" height="26" fill="#ff0000"/>
<rect x="560" y="157" width="1" height="24" fill="#ff4500"/>
<rect x="564" y="151" width="1" height="7" fill="#ff0000"/>
<rect x="563" y="151" width="3" height="7" fill="#ff0000"/>
<rect x="564" y="152" width="1" height="5" fill="#ff4500"/>
<rect x="568" y="153" width="1" height="26" fill="#32cd32"/>
<rect x="567" y="155" width="3" height="7" fill="#32cd32"/>
<rect x="572" y="138" width="1" height="27" fill="#ff0000"/>
<rect x="571" y="154" width="3" height="8" fill="#ff0000"/>
<rect x="572" y="155" width="1" height="6" fill="#ff4500"/>
<rect x="576" y="142" width="1" height="35" fill="#32cd32"/>
<rect x="575" y="154" width="3" height="14" fill="#32cd32"/>
<rect x="580" y="154" width="1" height="34" fill="#ff0000"/>
<rect x="579" y="155" width="3" height="13" fill="#ff0000"/>
<rect x="580" y="156" width="1" height="11" fill="#ff4500"/>
<rect x="584" y="153" width="1" height="27" fill="#32cd32"/>
<rect x="583" y="155" width="3" height="24" fill="#32cd32"/>
<rect x="588" y="176" width="1" height="8" fill="#ff0000"/>
<rect x="587" y="177" width="3" height="2" fill="#ff0000"/>
<rect x="592" y="166" width="1" height="24" fill="#ff0000"/>
<rect x="591" y="173" width="3" height="9" fill="#ff0000"/>
<rect x="592" y="174" width="1" height="7" fill="#ff4500"/>
<rect x="596" y="156" width="1" height="20" fill="#ff0000"/>
<rect x="595" y="173" width="3" height="1" fill="#ff0000"/>
<rect x="600" y="147" width="1" height="31" fill="#ff0000"/>
<rect x="599" y="172" width="3" height="2" fill="#ff0000"/>
<rect x="604" y="165" width="1" height="17" fill="#32cd32"/>
<rect x="603" y="172" width="3" height="4" fill="#32cd32"/>
<rect x="608" y="170" width="1" height="34" fill="#32cd32"/>
<rect x="607" y="175" width="3" height="16" fill="#32cd32"/>
<rect x="612" y="185" width="1" height="6" fill="#ff0000"/>
<rect x="611" y="188" width="3" height="3" fill="#ff0000"/>
<rect x="612" y="189" width="1" height="1" fill="#ff4500"/>
<rect x="616" y="173" width="1" height="20" fill="#ff0000"/>
<rect x="615" y="173" width="3" height="15" fill="#ff0000"/>
<rect x="616" y="174" width="1" height="13" fill="#ff4500"/>
<rect x="620" y="159" width="1" height="20" fill="#ff0000"/>
<rect x="619" y="162" width="3" height="12" fill="#ff0000"/>
<rect x="620" y="163" width="1" height="10" fill="#ff4500"/>
<rect x="624" y="158" width="1" height="28" fill="#32cd32"/>
<rect x="623" y="162" width="3" height="6" fill="#32cd32"/>
<rect x="628" y="166" width="1" height="51" fill="#32cd32"/>
<rect x="627" y="168" width="3" height="48" fill="#32cd32"/>
<rect x="632" y="171" width="1" height="48" fill="#ff0000"/>
<rect x="631" y="172" width="3" height="44" fill="#ff0000"/>
<rect x="632" y="173" width="1" height="42" fill="#ff4500"/>
<rect x="636" y="171" width="1" height="4" fill="#ff0000"/>
<rect x="635" y="171" width="3" height="2" fill="#ff0000"/>
<rect x="640" y="161" width="1" height="19" fill="#ff0000"/>
<rect x="639" y="162" width="3" height="13" fill="#ff0000"/>
<rect x="640" y="163" width="1" height="11" fill="#ff4500"/>
<rect x="644" y="161" width="1" height="17" fill="#32cd32"/>
<rect x="643" y="162" width="3" height="12" fill="#32cd32"/>
<rect x="648" y="163" width="1" height="18" fill="#32cd32"/>
<rect x="647" y="173" width="3" height="6" fill="#32cd32"/>
<rect x="652" y="162" width="1" height="23" fill="#ff0000"/>
<rect x="651" y="168" width="3" height="11" fill="#ff0000"/>
<rect x="652" y="169" width="1" height="9" fill="#ff4500"/>
<rect x="656" y="156" width="1" height="42" fill="#32cd32"/>
<rect x="655" y="168" width="3" height="27" fill="#32cd32"/>
<rect x="660" y="191" width="1" height="8" fill="#ff0000"/>
<rect x="659" y="191" width="3" height="4" fill="#ff0000"/>
<rect x="660" y="192" width="1" height="2" fill="#ff4500"/>
<rect x="664" y="179" width="1" height="17" fill="#ff0000"/>
<rect x="663" y="184" width="3" height="5" fill="#ff0000"/>
<rect x="664" y="185" width="1" height="3" fill="#ff4500"/>
<rect x="668" y="184" width="1" height="21" fill="#32cd32"/>
<rect x="667" y="184" width="3" height="21" fill="#32cd32"/>
<rect x="672" y="185" width="1" height="20" fill="#ff0000"/>
<rect x="671" y="187" width="3" height="18" fill="#ff0000"/>
<rect x="672" y="188" width="1" height="16" fill="#ff4500"/>
<rect x="676" y="185" width="1" height="78" fill="#32cd32"/>
<rect x="675" y="185" width="3" height="77" fill="#32cd32"/>
<rect x="680" y="258" width="1" height="39" fill="#32cd32"/>
<rect x="679" y="261" width="3" height="27" fill="#32cd32"/>
<rect x="684" y="281" width="1" height="10" fill="#ff0000"/>
<rect x="683" y="287" width="3" height="1" fill="#ff0000"/>
<rect x="688" y="269" width="1" height="29" fill="#ff0000"/>
<rect x="687" y="274" width="3" height="13" fill="#ff0000"/>
<rect x="688" y="275" width="1" height="11" fill="#ff4500"/>
<rect x="692" y="265" width="1" height="25" fill="#32cd32"/>
<rect x="691" y="273" width="3" height="2" fill="#32cd32"/>
<rect x="696" y="240" width="1" height="35" fill="#ff0000"/>
<rect x="695" y="245" width="3" height="30" fill="#ff0000"/>
<rect x="696" y="246" width="1" height="28" fill="#ff4500"/>
<rect x="700" y="243" width="1" height="14" fill="#32cd32"/>
<rect x="699" y="245" width="3" height="8" fill="#32cd32"/>
<rect x="704" y="231" width="1" height="21" fill="#ff0000"/>
<rect x="703" y="242" width="3" height="10" fill="#ff0000"/>
<rect x="704" y="243" width="1" height="8" fill="#ff4500"/>
<rect x="708" y="242" width="1" height="7" fill="#32cd32"/>
<rect x="707" y="242" width="3" height="4" fill="#32cd32"/>
<rect x="712" y="239" width="1" height="23" fill="#32cd32"/>
<rect x="711" y="246" width="3" height="7" fill="#32cd32"/>
<rect x="716" y="252" width="1" height="32" fill="#32cd32"/>
<rect x="715" y="252" width="3" height="28" fill="#32cd32"/>
<rect x="720" y="274" width="1" height="17" fill="#32cd32"/>
<rect x="719" y="279" width="3" height="11" fill="#32cd32"/>
<rect x="724" y="283" width="1" height="22" fill="#32cd32"/>
<rect x="723" y="289" width="3" height="12" fill="#32cd32"/>
<rect x="728" y="286" width="1" height="28" fill="#ff0000"/>
<rect x="727" y="288" width="3" height="12" fill="#ff0000"/>
<rect x="728" y="289" width="1" height="10" fill="#ff4500"/>
<rect x="732" y="270" width="1" height="21" fill="#ff0000"/>
<rect x="731" y="273" width="3" height="16" fill="#ff0000"/>
<rect x="732" y="274" width="1" height="14" fill="#ff4500"/>
<rect x="736" y="269" width="1" height="14" fill="#ff0000"/>
<rect x="735" y="271" width="3" height="7" fill="#ff0000"/>
<rect x="736" y="272" width="1" height="5" fill="#ff4500"/>
<rect x="740" y="240" width="1" height="54" fill="#32cd32"/>
<rect x="739" y="272" width="3" height="17" fill="#32cd32"/>
<rect x="744" y="271" width="1" height="34" fill="#32cd32"/>
<rect x="743" y="288" width="3" height="7" fill="#32cd32"/>
<rect x="748" y="283" width="1" height="44" fill="#32cd32"/>
<rect x="747" y="294" width="3" height="23" fill="#32cd32"/>
<rect x="752" y="292" width="1" height="38" fill="#ff0000"/>
<rect x="751" y="297" width="3" height="21" fill="#ff0000"/>
<rect x="752" y="298" width="1" height="19" fill="#ff4500"/>
<rect x="756" y="291" width="1" height="7" fill="#ff0000"/>
<rect x="755" y="291" width="3" height="7" fill="#ff0000"/>
<rect x="756" y="292" width="1" height="5" fill="#ff4500"/>
<rect x="760" y="288" width="1" height="24" fill="#ff0000"/>
<rect x="759" y="291" width="3" height="2" fill="#ff0000"/>
<rect x="764" y="285" width="1" height="37" fill="#32cd32"/>
<rect x="763" y="292" width="3" height="8" fill="#32cd32"/>
<rect x="768" y="293" width="1" height="27" fill="#32cd32"/>
<rect x="767" y="300" width="3" height="3" fill="#32cd32"/>
<rect x="772" y="293" width="1" height="26" fill="#32cd32"/>
<rect x="771" y="302" width="3" height="16" fill="#32cd32"/>
<rect x="776" y="314" width="1" height="21" fill="#32cd32"/>
<rect x="775" y="317" width="3" height="14" fill="#32cd32"/>
<rect x="780" y="326" width="1" height="9" fill="#32cd32"/>
<rect x="779" y="329" width="3" height="5" fill="#32cd32"/>
<rect x="784" y="336" width="1" height="33" fill="#32cd32"/>
<rect x="783" y="338" width="3" height="23" fill="#32cd32"/>
<rect x="788" y="354" width="1" height="28" fill="#32cd32"/>
<rect x="787" y="361" width="3" height="9" fill="#32cd32"/>
<rect x="792" y="353" width="1" height="34" fill="#ff0000"/>
<rect x="791" y="355" width="3" height="15" fill="#ff0000"/>
<rect x="792" y="356" width="1" height="13" fill="#ff4500"/>
<rect x="796" y="335" width="1" height="27" fill="#ff0000"/>
<rect x="795" y="351" width="3" height="5" fill="#ff0000"/>
<rect x="796" y="352" width="1" height="3" fill="#ff4500"/>
<rect x="800" y="339" width="1" height="16" fill="#32cd32"/>
<rect x="799" y="351" width="3" height="1" fill="#32cd32"/>
<rect x="804" y="347" width="1" height="5" fill="#ff0000"/>
<rect x="803" y="351" width="3" height="1" fill="#ff0000"/>
<rect x="808" y="338" width="1" height="29" fill="#ff0000"/>
<rect x="807" y="340" width="3" height="10" fill="#ff0000"/>
<rect x="808" y="341" width="1" height="8" fill="#ff4500"/>
<rect x="812" y="339" width="1" height="25" fill="#32cd32"/>
<rect x="811" y="341" width="3" height="9" fill="#32cd32"/>
<rect x="816" y="346" width="1" height="25" fill="#32cd32"/>
<rect x="815" y="349" width="3" height="11" fill="#32cd32"/>
<rect x="820" y="327" width="1" height="47" fill="#ff0000"/>
<rect x="819" y="334" width="3" height="25" fill="#ff0000"/>
<rect x="820" y="335" width="1" height="23" fill="#ff4500"/>
<rect x="824" y="328" width="1" height="33" fill="#32cd32"/>
<rect x="823" y="332" width="3" height="26" fill="#32cd32"/>
<rect x="828" y="357" width="1" height="10" fill="#32cd32"/>
<rect x="827" y="357" width="3" height="9" fill="#32cd32"/>
<rect x="832" y="342" width="1" height="26" fill="#ff0000"/>
<rect x="831" y="351" width="3" height="10" fill="#ff0000"/>
<rect x="832" y="352" width="1" height="8" fill="#ff4500"/>
<rect x="836" y="330" width="1" height="26" fill="#ff0000"/>
<rect x="835" y="341" width="3" height="11" fill="#ff0000"/>
<rect x="836" y="342" width="1" height="9" fill="#ff4500"/>
<rect x="840" y="321" width="1" height="28" fill="#32cd32"/>
<rect x="839" y="341" width="3" height="4" fill="#32cd32"/>
<rect x="844" y="326" width="1" height="20" fill="#ff0000"/>
<rect x="843" y="330" width="3" height="15" fill="#ff0000"/>
<rect x="844" y="331" width="1" height="13" fill="#ff4500"/>
<rect x="848" y="330" width="1" height="30" fill="#32cd32"/>
<rect x="847" y="330" width="3" height="26" fill="#32cd32"/>
<rect x="852" y="353" width="1" height="5" fill="#32cd32"/>
<rect x="851" y="355" width="3" height="3" fill="#32cd32"/>
<rect x="856" y="351" width="1" height="18" fill="#ff0000"/>
<rect x="855" y="362" width="3" height="1" fill="#ff0000"/>
<rect x="860" y="355" width="1" height="19" fill="#ff0000"/>
<rect x="859" y="360" width="3" height="3" fill="#ff0000"/>
<rect x="860" y="361" width="1" height="1" fill="#ff4500"/>
<rect x="864" y="340" width="1" height="31" fill="#ff0000"/>
<rect x="863" y="346" width="3" height="15" fill="#ff0000"/>
<rect x="864" y="347" width="1" height="13" fill="#ff4500"/>
<rect x="868" y="339" width="1" height="26" fill="#32cd32"/>
<rect x="867" y="347" width="3" height="14" fill="#32cd32"/>
<rect x="872" y="343" width="1" height="24" fill="#ff0000"/>
<rect x="871" y="345" width="3" height="16" fill="#ff0000"/>
<rect x="872" y="346" width="1" height="14" fill="#ff4500"/>
<rect x="876" y="343" width="1" height="6" fill="#32cd32"/>
<rect x="875" y="345" width="3" height="2" fill="#32cd32"/>
<rect x="880" y="347" width="1" height="26" fill="#32cd32"/>
<rect x="879" y="348" width="3" height="16" fill="#32cd32"/>
<rect x="884" y="362" width="1" height="42" fill="#32cd32"/>
<rect x="883" y="363" width="3" height="41" fill="#32cd32"/>
<rect x="888" y="395" width="1" height="20" fill="#32cd32"/>
<rect x="887" y="403" width="3" height="10" fill="#32cd32"/>
<rect x="892" y="398" width="1" height="57" fill="#32cd32"/>
<rect x="891" y="412" width="3" height="32" fill="#32cd32"/>
<rect x="896" y="442" width="1" height="32" fill="#32cd32"/>
<rect x="895" y="443" width="3" height="18" fill="#32cd32"/>
<rect x="900" y="455" width="1" height="7" fill="#ff0000"/>
<rect x="899" y="458" width="3" height="3" fill="#ff0000"/>
<rect x="900" y="459" width="1" height="1" fill="#ff4500"/>
<rect x="904" y="424" width="1" height="35" fill="#ff0000"/>
<rect x="903" y="425" width="3" height="33" fill="#ff0000"/>
<rect x="904" y="426" width="1" height="31" fill="#ff4500"/>
<rect x="908" y="395" width="1" height="33" fill="#ff0000"/>
<rect x="907" y="403" width="3" height="22" fill="#ff0000"/>
<rect x="908" y="404" width="1" height="20" fill="#ff4500"/>
<rect x="912" y="397" width="1" height="15" fill="#ff0000"/>
<rect x="911" y="398" width="3" height="6" fill="#ff0000"/>
<rect x="912" y="399" width="1" height="4" fill="#ff4500"/>
<rect x="916" y="390" width="1" height="20" fill="#32cd32"/>
<rect x="915" y="397" width="3" height="9" fill="#32cd32"/>
<rect x="920" y="377" width="1" height="42" fill="#ff0000"/>
<rect x="919" y="377" width="3" height="29" fill="#ff0000"/>
<rect x="920" y="378" width="1" height="27" fill="#ff4500"/>
<rect x="924" y="373" width="1" height="6" fill="#ff0000"/>
<rect x="923" y="375" width="3" height="3" fill="#ff0000"/>
<rect x="924" y="376" width="1" height="1" fill="#ff4500"/>
</g>
<g shape-rendering="crispEdges">
<rect x="4" y="508" width="2" height="25" fill="#c0c0c0"/>
<rect x="7" y="508" width="3" height="25" fill="#c0c0c0"/>
<rect x="11" y="506" width="3" height="27" fill="#c0c0c0"/>
<rect x="15" y="505" width="3" height="28" fill="#c0c0c0"/>
<rect x="19" y="505" width="3" height="28" fill="#c0c0c0"/>
<rect x="23" y="504" width="3" height="29" fill="#c0c0c0"/>
<rect x="27" y="506" width="3" height="27" fill="#c0c0c0"/>
<rect x="31" y="505" width="3" height="28" fill="#c0c0c0"/>
<rect x="35" y="502" width="3" height="31" fill="#c0c0c0"/>
<rect x="39" y="500" width="3" height="33" fill="#c0c0c0"/>
<rect x="43" y="499" width="3" height="34" fill="#c0c0c0"/>
<rect x="47" y="498" width="3" height="35" fill="#c0c0c0"/>
<rect x="51" y="498" width="3" height="35" fill="#c0c0c0"/>
<rect x="55" y="497" width="3" height="36" fill="#c0c0c0"/>
<rect x="59" y="495" width="3" height="38" fill="#c0c0c0"/>
<rect x="63" y="493" width="3" height="40" fill="#c0c0c0"/>
<rect x="67" y="494" width="3" height="39" fill="#c0c0c0"/>
<rect x="71" y="497" width="3" height="36" fill="#c0c0c0"/>
<rect x="75" y="498" width="3" height="35" fill="#c0c0c0"/>
<rect x="79" y="499" width="3" height="34" fill="#c0c0c0"/>
<rect x="83" y="500" width="3" height="33" fill="#c0c0c0"/>
<rect x="87" y="501" width="3" height="32" fill="#c0c0c0"/>
<rect x="91" y="503" width="3" height="30" fill="#c0c0c0"/>
<rect x="95" y="503" width="3" height="30" fill="#c0c0c0"/>
<rect x="99" y="500" width="3" height="33" fill="#c0c0c0"/>
<rect x="103" y="498" width="3" height="35" fill="#c0c0c0"/>
<rect x="107" y="496" width="3" height="37" fill="#c0c0c0"/>
<rect x="111" y="497" width="3" height="36" fill="#c0c0c0"/>
<rect x="115" y="495" width="3" height="38" fill="#c0c0c0"/>
<rect x="119" y="493" width="3" height="40" fill="#c0c0c0"/>
<rect x="123" y="492" width="3" height="41" fill="#c0c0c0"/>
<rect x="127" y="491" width="3" height="42" fill="#c0c0c0"/>
<rect x="131" y="492" width="3" height="41" fill="#c0c0c0"/>
<rect x="135" y="493" width="3" height="40" fill="#c0c0c0"/>
<rect x="139" y="493" width="3" height="40" fill="#c0c0c0"/>
<rect x="143" y="494" width="3" height="39" fill="#c0c0c0"/>
<rect x="147" y="496" width="3" height="37" fill="#c0c0c0"/>
<rect x="151" y="502" width="3" height="31" fill="#c0c0c0"/>
<rect x="155" y="505" width="3" height="28" fill="#c0c0c0"/>
<rect x="159" y="508" width="3" height="25" fill="#c0c0c0"/>
<rect x="163" y="510" width="3" height="23" fill="#c0c0c0"/>
<rect x="167" y="510" width="3" height="23" fill="#c0c0c0"/>
<rect x="171" y="510" width="3" height="23" fill="#c0c0c0"/>
<rect x="175" y="512" width="3" height="21" fill="#c0c0c0"/>
<rect x="179" y="514" width="3" height="19" fill="#c0c0c0"/>
<rect x="183" y="516" width="3" height="17" fill="#c0c0c0"/>
<rect x="187" y="516" width="3" height="17" fill="#c0c0c0"/>
<rect x="191" y="519" width="3" height="14" fill="#c0c0c0"/>
<rect x="195" y="522" width="3" height="11" fill="#c0c0c0"/>
<rect x="199" y="524" width="3" height="9" fill="#c0c0c0"/>
<rect x="203" y="528" width="3" height="5" fill="#c0c0c0"/>
<rect x="207" y="531" width="3" height="2" fill="#c0c0c0"/>
<rect x="211" y="533" width="3" height="4" fill="#c0c0c0"/>
<rect x="215" y="533" width="3" height="6" fill="#c0c0c0"/>
<rect x="219" y="533" width="3" height="8" fill="#c0c0c0"/>
<rect x="223" y="533" width="3" height="7" fill="#c0c0c0"/>
<rect x="227" y="533" width="3" height="6" fill="#c0c0c0"/>
<rect x="231" y="533" width="3" height="3" fill="#c0c0c0"/>
<rect x="235" y="532" width="3" height="1" fill="#c0c0c0"/>
<rect x="239" y="530" width="3" height="3" fill="#c0c0c0"/>
<rect x="243" y="527" width="3" height="6" fill="#c0c0c0"/>
<rect x="247" y="525" width="3" height="8" fill="#c0c0c0"/>
<rect x="251" y="524" width="3" height="9" fill="#c0c0c0"/>
<rect x="255" y="521" width="3" height="12" fill="#c0c0c0"/>
<rect x="259" y="520" width="3" height="13" fill="#c0c0c0"/>
<rect x="263" y="521" width="3" height="12" fill="#c0c0c0"/>
<rect x="267" y="521" width="3" height="12" fill="#c0c0c0"/>
<rect x="271" y="517" width="3" height="16" fill="#c0c0c0"/>
<rect x="275" y="513" width="3" height="20" fill="#c0c0c0"/>
<rect x="279" y="509" width="3" height="24" fill="#c0c0c0"/>
<rect x="283" y="506" width="3" height="27" fill="#c0c0c0"/>
<rect x="287" y="504" width="3" height="29" fill="#c0c0c0"/>
<rect x="291" y="500" width="3" height="33" fill="#c0c0c0"/>
<rect x="295" y="507" width="3" height="26" fill="#c0c0c0"/>
<rect x="299" y="514" width="3" height="19" fill="#c0c0c0"/>
<rect x="303" y="517" width="3" height="16" fill="#c0c0c0"/>
<rect x="307" y="518" width="3" height="15" fill="#c0c0c0"/>
<rect x="311" y="519" width="3" height="14" fill="#c0c0c0"/>
<rect x="315" y="521" width="3" height="12" fill="#c0c0c0"/>
<rect x="319" y="527" width="3" height="6" fill="#c0c0c0"/>
<rect x="323" y="532" width="3" height="1" fill="#c0c0c0"/>
<rect x="327" y="533" width="3" height="4" fill="#c0c0c0"/>
<rect x="331" y="533" width="3" height="6" fill="#c0c0c0"/>
<rect x="335" y="533" width="3" height="7" fill="#c0c0c0"/>
<rect x="339" y="533" width="3" height="6" fill="#c0c0c0"/>
<rect x="343" y="533" width="3" height="5" fill="#c0c0c0"/>
<rect x="347" y="533" width="3" height="3" fill="#c0c0c0"/>
<rect x="351" y="533" width="3" height="4" fill="#c0c0c0"/>
<rect x="355" y="533" width="3" height="5" fill="#c0c0c0"/>
<rect x="359" y="533" width="3" height="5" fill="#c0c0c0"/>
<rect x="363" y="533" width="3" height="3" fill="#c0c0c0"/>
<rect x="367" y="533" width="3" height="4" fill="#c0c0c0"/>
<rect x="371" y="533" width="3" height="3" fill="#c0c0c0"/>
<rect x="375" y="533" width="3" height="3" fill="#c0c0c0"/>
<rect x="379" y="533" width="3" height="4" fill="#c0c0c0"/>
<rect x="383" y="533" width="3" height="10" fill="#c0c0c0"/>
<rect x="387" y="533" width="3" height="15" fill="#c0c0c0"/>
<rect x="391" y="533" width="3" height="17" fill="#c0c0c0"/>
<rect x="395" y="533" width="3" height="18" fill="#c0c0c0"/>
<rect x="399" y="533" width="3" height="19" fill="#c0c0c0"/>
<rect x="403" y="533" width="3" height="20" fill="#c0c0c0"/>
<rect x="407" y="533" width="3" height="21" fill="#c0c0c0"/>
<rect x="411" y="533" width="3" height="21" fill="#c0c0c0"/>
<rect x="415" y="533" width="3" height="21" fill="#c0c0c0"/>
<rect x="419" y="533" width="3" height="21" fill="#c0c0c0"/>
<rect x="423" y="533" width="3" height="19" fill="#c0c0c0"/>
<rect x="427" y="533" width="3" height="18" fill="#c0c0c0"/>
<rect x="431" y="533" width="3" height="16" fill="#c0c0c0"/>
<rect x="435" y="533" width="3" height="15" fill="#c0c0c0"/>
<rect x="439" y="533" width="3" height="14" fill="#c0c0c0"/>
<rect x="443" y="533" width="3" height="14" fill="#c0c0c0"/>
<rect x="447" y="533" width="3" height="14" fill="#c0c0c0"/>
<rect x="451" y="533" width="3" height="12" fill="#c0c0c0"/>
<rect x="455" y="533" width="3" height="8" fill="#c0c0c0"/>
<rect x="459" y="533" width="3" height="4" fill="#c0c0c0"/>
<rect x="463" y="532" width="3" height="1" fill="#c0c0c0"/>
<rect x="467" y="530" width="3" height="3" fill="#c0c0c0"/>
<rect x="471" y="527" width="3" height="6" fill="#c0c0c0"/>
<rect x="475" y="526" width="3" height="7" fill="#c0c0c0"/>
<rect x="479" y="524" width="3" height="9" fill="#c0c0c0"/>
<rect x="483" y="524" width="3" height="9" fill="#c0c0c0"/>
<rect x="487" y="524" width="3" height="9" fill="#c0c0c0"/>
<rect x="491" y="523" width="3" height="10" fill="#c0c0c0"/>
<rect x="495" y="520" width="3" height="13" fill="#c0c0c0"/>
<rect x="499" y="520" width="3" height="13" fill="#c0c0c0"/>
<rect x="503" y="520" width="3" height="13" fill="#c0c0c0"/>
<rect x="507" y="520" width="3" height="13" fill="#c0c0c0"/>
<rect x="511" y="523" width="3" height="10" fill="#c0c0c0"/>
<rect x="515" y="525" width="3" height="8" fill="#c0c0c0"/>
<rect x="519" y="525" width="3" height="8" fill="#c0c0c0"/>
<rect x="523" y="527" width="3" height="6" fill="#c0c0c0"/>
<rect x="527" y="527" width="3" height="6" fill="#c0c0c0"/>
<rect x="531" y="526" width="3" height="7" fill="#c0c0c0"/>
<rect x="535" y="522" width="3" height="11" fill="#c0c0c0"/>
<rect x="539" y="519" width="3" height="14" fill="#c0c0c0"/>
<rect x="543" y="516" width="3" height="17" fill="#c0c0c0"/>
<rect x="547" y="515" width="3" height="18" fill="#c0c0c0"/>
<rect x="551" y="519" width="3" height="14" fill="#c0c0c0"/>
<rect x="555" y="522" width="3" height="11" fill="#c0c0c0"/>
<rect x="559" y="523" width="3" height="10" fill="#c0c0c0"/>
<rect x="563" y="524" width="3" height="9" fill="#c0c0c0"/>
<rect x="567" y="525" width="3" height="8" fill="#c0c0c0"/>
<rect x="571" y="525" width="3" height="8" fill="#c0c0c0"/>
<rect x="575" y="527" width="3" height="6" fill="#c0c0c0"/>
<rect x="579" y="527" width="3" height="6" fill="#c0c0c0"/>
<rect x="583" y="529" width="3" height="4" fill="#c0c0c0"/>
<rect x="587" y="531" width="3" height="2" fill="#c0c0c0"/>
<rect x="591" y="532" width="3" height="1" fill="#c0c0c0"/>
<rect x="595" y="532" width="3" height="1" fill="#c0c0c0"/>
<rect x="599" y="533" width="3" height="1" fill="#c0c0c0"/>
<rect x="603" y="533" width="3" height="2" fill="#c0c0c0"/>
<rect x="607" y="533" width="3" height="4" fill="#c0c0c0"/>
<rect x="611" y="533" width="3" height="5" fill="#c0c0c0"/>
<rect x="615" y="533" width="3" height="5" fill="#c0c0c0"/>
<rect x="619" y="533" width="3" height="4" fill="#c0c0c0"/>
<rect x="623" y="533" width="3" height="3" fill="#c0c0c0"/>
<rect x="627" y="533" width="3" height="7" fill="#c0c0c0"/>
<rect x="631" y="533" width="3" height="6" fill="#c0c0c0"/>
<rect x="635" y="533" width="3" height="5" fill="#c0c0c0"/>
<rect x="639" y="533" width="3" height="3" fill="#c0c0c0"/>
<rect x="643" y="533" width="3" height="3" fill="#c0c0c0"/>
<rect x="647" y="533" width="3" height="3" fill="#c0c0c0"/>
<rect x="651" y="533" width="3" height="3" fill="#c0c0c0"/>
<rect x="655" y="533" width="3" height="4" fill="#c0c0c0"/>
<rect x="659" y="533" width="3" height="5" fill="#c0c0c0"/>
<rect x="663" y="533" width="3" height="6" fill="#c0c0c0"/>
<rect x="667" y="533" width="3" height="7" fill="#c0c0c0"/>
<rect x="671" y="533" width="3" height="7" fill="#c0c0c0"/>
<rect x="675" y="533" width="3" height="14" fill="#c0c0c0"/>
<rect x="679" y="533" width="3" height="21" fill="#c0c0c0"/>
<rect x="683" y="533" width="3" height="26" fill="#c0c0c0"/>
<rect x="687" y="533" width="3" height="29" fill="#c0c0c0"/>
<rect x="691" y="533" width="3" height="30" fill="#c0c0c0"/>
<rect x="695" y="533" width="3" height="29" fill="#c0c0c0"/>
<rect x="699" y="533" width="3" height="28" fill="#c0c0c0"/>
<rect x="703" y="533" width="3" height="26" fill="#c0c0c0"/>
<rect x="707" y="533" width="3" height="25" fill="#c0c0c0"/>
<rect x="711" y="533" width="3" height="26" fill="#c0c0c0"/>
<rect x="715" y="533" width="3" height="27" fill="#c0c0c0"/>
<rect x="719" y="533" width="3" height="27" fill="#c0c0c0"/>
<rect x="723" y="533" width="3" height="29" fill="#c0c0c0"/>
<rect x="727" y="533" width="3" height="30" fill="#c0c0c0"/>
<rect x="731" y="533" width="3" height="28" fill="#c0c0c0"/>
<rect x="735" y="533" width="3" height="26" fill="#c0c0c0"/>
<rect x="739" y="533" width="3" height="26" fill="#c0c0c0"/>
<rect x="743" y="533" width="3" height="26" fill="#c0c0c0"/>
<rect x="747" y="533" width="3" height="27" fill="#c0c0c0"/>
<rect x="751" y="533" width="3" height="27" fill="#c0c0c0"/>
<rect x="755" y="533" width="3" height="26" fill="#c0c0c0"/>
<rect x="759" y="533" width="3" height="25" fill="#c0c0c0"/>
<rect x="763" y="533" width="3" height="25" fill="#c0c0c0"/>
<rect x="767" y="533" width="3" height="24" fill="#c0c0c0"/>
<rect x="771" y="533" width="3" height="25" fill="#c0c0c0"/>
<rect x="775" y="533" width="3" height="26" fill="#c0c0c0"/>
<rect x="779" y="533" width="3" height="27" fill="#c0c0c0"/>
<rect x="783" y="533" width="3" height="30" fill="#c0c0c0"/>
<rect x="787" y="533" width="3" height="33" fill="#c0c0c0"/>
<rect x="791" y="533" width="3" height="34" fill="#c0c0c0"/>
<rect x="795" y="533" width="3" height="33" fill="#c0c0c0"/>
<rect x="799" y="533" width="3" height="33" fill="#c0c0c0"/>
<rect x="803" y="533" width="3" height="32" fill="#c0c0c0"/>
<rect x="807" y="533" width="3" height="30" fill="#c0c0c0"/>
<rect x="811" y="533" width="3" height="29" fill="#c0c0c0"/>
<rect x="815" y="533" width="3" height="29" fill="#c0c0c0"/>
<rect x="819" y="533" width="3" height="26" fill="#c0c0c0"/>
<rect x="823" y="533" width="3" height="25" fill="#c0c0c0"/>
<rect x="827" y="533" width="3" height="25" fill="#c0c0c0"/>
<rect x="831" y="533" width="3" height="24" fill="#c0c0c0"/>
<rect x="835" y="533" width="3" height="22" fill="#c0c0c0"/>
<rect x="839" y="533" width="3" height="20" fill="#c0c0c0"/>
<rect x="843" y="533" width="3" height="17" fill="#c0c0c0"/>
<rect x="847" y="533" width="3" height="17" fill="#c0c0c0"/>
<rect x="851" y="533" width="3" height="17" fill="#c0c0c0"/>
<rect x="855" y="533" width="3" height="17" fill="#c0c0c0"/>
<rect x="859" y="533" width="3" height="17" fill="#c0c0c0"/>
<rect x="863" y="533" width="3" height="15" fill="#c0c0c0"/>
<rect x="867" y="533" width="3" height="14" fill="#c0c0c0"/>
<rect x="871" y="533" width="3" height="13" fill="#c0c0c0"/>
<rect x="875" y="533" width="3" height="12" fill="#c0c0c0"/>
<rect x="879" y="533" width="3" height="13" fill="#c0c0c0"/>
<rect x="883" y="533" width="3" height="16" fill="#c0c0c0"/>
<rect x="887" y="533" width="3" height="20" fill="#c0c0c0"/>
<rect x="891" y="533" width="3" height="25" fill="#c0c0c0"/>
<rect x="895" y="533" width="3" height="30" fill="#c0c0c0"/>
<rect x="899" y="533" width="3" height="34" fill="#c0c0c0"/>
<rect x="903" y="533" width="3" height="33" fill="#c0c0c0"/>
<rect x="907" y="533" width="3" height="31" fill="#c0c0c0"/>
<rect x="911" y="533" width="3" height="28" fill="#c0c0c0"/>
<rect x="915" y="533" width="3" height="26" fill="#c0c0c0"/>
<rect x="919" y="533" width="3" height="22" fill="#c0c0c0"/>
<rect x="923" y="533" width="3" height="18" fill="#c0c0c0"/>
<path d="M4 509h1v1h-1zM5 509h1v1h-1zM6 509h1v1h-1zM7 509h1v1h-1zM8 509h1v1h-1zM9 509h1v1h-1zM10 509h1v1h-1zM11 509h1v1h-1zM12 508h1v1h-1zM13 508h1v1h-1zM14 508h1v1h-1zM15 508h1v1h-1zM16 507h1v1h-1zM17 507h1v1h-1zM18 507h1v1h-1zM19 507h1v1h-1zM20 506h1v1h-1zM21 506h1v1h-1zM22 506h1v1h-1zM23 506h1v1h-1zM24 506h1v1h-1zM25 506h1v1h-1zM26 506h1v1h-1zM27 506h1v1h-1zM28 506h1v1h-1zM29 506h1v1h-1zM30 506h1v1h-1zM31 506h1v1h-1zM32 506h1v1h-1zM33 506h1v1h-1zM34 506h1v1h-1zM35 506h1v1h-1zM36 506h1v1h-1zM37 506h1v1h-1zM38 505h1v1h-1zM39 505h1v1h-1zM40 505h1v1h-1zM41 505h1v1h-1zM42 504h1v1h-1zM43 504h1v1h-1zM44 504h1v1h-1zM45 504h1v1h-1zM46 503h1v1h-1zM47 503h1v1h-1zM48 503h1v1h-1zM49 502h1v1h-1zM50 502h1v1h-1zM51 502h1v1h-1zM52 502h1v1h-1zM53 501h1v1h-1zM54 501h1v1h-1zM55 501h1v1h-1zM56 500h1v1h-1zM57 500h1v1h-1zM58 500h1v1h-1zM59 499h1v1h-1zM60 499h1v1h-1zM61 499h1v1h-1zM62 498h1v1h-1zM63 498h1v1h-1zM64 498h1v1h-1zM65 497h1v1h-1zM66 497h1v1h-1zM67 497h1v1h-1zM68 497h1v1h-1zM69 496h1v1h-1zM70 496h1v1h-1zM71 496h1v1h-1zM72 496h1v1h-1zM73 496h1v1h-1zM74 496h1v1h-1zM75 496h1v1h-1zM76 496h1v1h-1zM77 496h1v1h-1zM78 496h1v1h-1zM79 496h1v1h-1zM80 496h1v1h-1zM81 496h1v1h-1zM82 496h1v1h-1zM83 496h1v1h-1zM84 496h1v1h-1zM85 496h1v1h-1zM86 496h1v1h-1zM87 496h1v1h-1zM88 496h1v1h-1zM89 496h1v1h-1zM90 496h1v1h-1zM91 496h1v1h-1zM92 497h1v1h-1zM93 497h1v1h-1zM94 497h1v1h-1zM95 497h1v1h-1zM96 497h1v1h-1zM97 497h1v1h-1zM98 498h1v1h-1zM99 498h1v1h-1zM100 499h1v1h-1zM101 499h1v1h-1zM102 499h1v1h-1zM103 500h1v1h-1zM104 500h1v1h-1zM105 500h1v1h-1zM106 500h1v1h-1zM107 500h1v1h-1zM108 500h1v1h-1zM109 500h1v1h-1zM110 500h1v1h-1zM111 500h1v1h-1zM112 500h1v1h-1zM113 500h1v1h-1zM114 499h1v1h-1zM115 499h1v1h-1zM116 499h1v1h-1zM117 499h1v1h-1zM118 498h1v1h-1zM119 498h1v1h-1zM120 498h1v1h-1zM121 498h1v1h-1zM122 497h1v1h-1zM123 497h1v1h-1zM124 496h1v1h-1zM125 496h1v1h-1zM126 496h1v1h-1zM127 495h1v1h-1zM128 495h1v1h-1zM129 495h1v1h-1zM130 495h1v1h-1zM131 495h1v1h-1zM132 495h1v1h-1zM133 495h1v1h-1zM134 495h1v1h-1zM135 494h1v1h-1zM136 494h1v1h-1zM137 495h1v1h-1zM138 495h1v1h-1zM139 495h1v1h-1zM140 495h1v1h-1zM141 495h1v1h-1zM142 495h1v1h-1zM143 495h1v1h-1zM144 495h1v1h-1zM145 495h1v1h-1zM146 496h1v1h-1zM147 496h1v1h-1zM148 496h1v1h-1zM149 496h1v1h-1zM150 496h1v1h-1zM151 496h1v1h-1zM152 496h1v1h-1zM153 496h1v1h-1zM154 496h1v1h-1zM155 497h1v1h-1zM156 497h1v1h-1zM157 497h1v1h-1zM158 497h1v1h-1zM159 498h1v1h-1zM160 498h1v1h-1zM161 499h1v1h-1zM162 499h1v1h-1zM163 500h1v1h-1zM164 500h1v1h-1zM165 501h1v1h-1zM166 502h1v1h-1zM167 502h1v1h-1zM168 503h1v1h-1zM169 503h1v1h-1zM170 503h1v1h-1zM171 503h1v1h-1zM172 504h1v1h-1zM173 504h1v1h-1zM174 504h1v1h-1zM175 505h1v1h-1zM176 505h1v1h-1zM177 506h1v1h-1zM178 506h1v1h-1zM179 507h1v1h-1zM180 507h1v1h-1zM181 508h1v1h-1zM182 508h1v1h-1zM183 509h1v1h-1zM184 509h1v1h-1zM185 510h1v1h-1zM186 510h1v1h-1zM187 511h1v1h-1zM188 511h1v1h-1zM189 511h1v1h-1zM190 512h1v1h-1zM191 512h1v1h-1zM192 512h1v1h-1zM193 513h1v1h-1zM194 513h1v1h-1zM195 513h1v1h-1zM196 514h1v1h-1zM197 514h1v1h-1zM198 515h1v1h-1zM199 515h1v1h-1zM200 515h1v1h-1zM201 516h1v1h-1zM202 516h1v1h-1zM203 517h1v1h-1zM204 517h1v1h-1zM205 518h1v1h-1zM206 518h1v1h-1zM207 519h1v1h-1zM208 519h1v1h-1zM209 520h1v1h-1zM210 521h1v1h-1zM211 521h1v1h-1zM212 522h1v1h-1zM213 523h1v1h-1zM214 523h1v1h-1zM215 524h1v1h-1zM216 525h1v1h-1zM217 525h1v1h-1zM218 526h1v1h-1zM219 527h1v1h-1zM220 527h1v1h-1zM221 528h1v1h-1zM222 529h1v1h-1zM223 529h1v1h-1zM224 530h1v1h-1zM225 531h1v1h-1zM226 531h1v1h-1zM227 532h1v1h-1zM228 533h1v1h-1zM229 533h1v1h-1zM230 533h1v1h-1zM231 533h1v1h-1zM232 533h1v1h-1zM233 534h1v1h-1zM234 534h1v1h-1zM235 535h1v1h-1zM236 535h1v1h-1zM237 535h1v1h-1zM238 535h1v1h-1zM239 535h1v1h-1zM240 535h1v1h-1zM241 535h1v1h-1zM242 535h1v1h-1zM243 535h1v1h-1zM244 535h1v1h-1zM245 535h1v1h-1zM246 535h1v1h-1zM247 534h1v1h-1zM248 534h1v1h-1zM249 533h1v1h-1zM250 533h1v1h-1zM251 532h1v1h-1zM252 532h1v1h-1zM253 531h1v1h-1zM254 531h1v1h-1zM255 530h1v1h-1zM256 530h1v1h-1zM257 529h1v1h-1zM258 529h1v1h-1zM259 528h1v1h-1zM260 528h1v1h-1zM261 528h1v1h-1zM262 527h1v1h-1zM263 527h1v1h-1zM264 526h1v1h-1zM265 526h1v1h-1zM266 525h1v1h-1zM267 525h1v1h-1zM268 525h1v1h-1zM269 524h1v1h-1zM270 524h1v1h-1zM271 523h1v1h-1zM272 523h1v1h-1zM273 522h1v1h-1zM274 522h1v1h-1zM275 521h1v1h-1zM276 521h1v1h-1zM277 520h1v1h-1zM278 520h1v1h-1zM279 519h1v1h-1zM280 519h1v1h-1zM281 518h1v1h-1zM282 518h1v1h-1zM283 517h1v1h-1zM284 517h1v1h-1zM285 516h1v1h-1zM286 516h1v1h-1zM287 515h1v1h-1zM288 515h1v1h-1zM289 514h1v1h-1zM290 514h1v1h-1zM291 513h1v1h-1zM292 513h1v1h-1zM293 512h1v1h-1zM294 511h1v1h-1zM295 511h1v1h-1zM296 511h1v1h-1zM297 510h1v1h-1zM298 510h1v1h-1zM299 510h1v1h-1zM300 510h1v1h-1zM301 510h1v1h-1zM302 510h1v1h-1zM303 510h1v1h-1zM304 510h1v1h-1zM305 510h1v1h-1zM306 510h1v1h-1zM307 510h1v1h-1zM308 510h1v1h-1zM309 510h1v1h-1zM310 510h1v1h-1zM311 510h1v1h-1zM312 510h1v1h-1zM313 510h1v1h-1zM314 510h1v1h-1zM315 511h1v1h-1zM316 511h1v1h-1zM317 512h1v1h-1zM318 513h1v1h-1zM319 513h1v1h-1zM320 514h1v1h-1zM321 514h1v1h-1zM322 515h1v1h-1zM323 516h1v1h-1zM324 517h1v1h-1zM325 518h1v1h-1zM326 519h1v1h-1zM327 520h1v1h-1zM328 521h1v1h-1zM329 521h1v1h-1zM330 522h1v1h-1zM331 523h1v1h-1zM332 524h1v1h-1zM333 525h1v1h-1zM334 526h1v1h-1zM335 526h1v1h-1zM336 527h1v1h-1zM337 527h1v1h-1zM338 528h1v1h-1zM339 528h1v1h-1zM340 529h1v1h-1zM341 530h1v1h-1zM342 530h1v1h-1zM343 531h1v1h-1zM344 531h1v1h-1zM345 532h1v1h-1zM346 532h1v1h-1zM347 533h1v1h-1zM348 533h1v1h-1zM349 534h1v1h-1zM350 534h1v1h-1zM351 535h1v1h-1zM352 535h1v1h-1zM353 536h1v1h-1zM354 536h1v1h-1zM355 537h1v1h-1zM356 537h1v1h-1zM357 537h1v1h-1zM358 537h1v1h-1zM359 537h1v1h-1zM360 537h1v1h-1zM361 537h1v1h-1zM362 537h1v1h-1zM363 537h1v1h-1zM364 537h1v1h-1zM365 537h1v1h-1zM366 537h1v1h-1zM367 537h1v1h-1zM368 537h1v1h-1zM369 537h1v1h-1zM370 537h1v1h-1zM371 536h1v1h-1zM372 536h1v1h-1zM373 536h1v1h-1zM374 536h1v1h-1zM375 536h1v1h-1zM376 536h1v1h-1zM377 536h1v1h-1zM378 536h1v1h-1zM379 536h1v1h-1zM380 536h1v1h-1zM381 536h1v1h-1zM382 536h1v1h-1zM383 536h1v1h-1zM384 537h1v1h-1zM385 537h1v1h-1zM386 537h1v1h-1zM387 538h1v1h-1zM388 538h1v1h-1zM389 538h1v1h-1zM390 538h1v1h-1zM391 539h1v1h-1zM392 539h1v1h-1zM393 539h1v1h-1zM394 540h1v1h-1zM395 540h1v1h-1zM396 541h1v1h-1zM397 541h1v1h-1zM398 541h1v1h-1zM399 542h1v1h-1zM400 542h1v1h-1zM401 543h1v1h-1zM402 543h1v1h-1zM403 543h1v1h-1zM404 544h1v1h-1zM405 544h1v1h-1zM406 545h1v1h-1zM407 545h1v1h-1zM408 546h1v1h-1zM409 546h1v1h-1zM410 547h1v1h-1zM411 547h1v1h-1zM412 548h1v1h-1zM413 548h1v1h-1zM414 549h1v1h-1zM415 549h1v1h-1zM416 550h1v1h-1zM417 550h1v1h-1zM418 550h1v1h-1zM419 551h1v1h-1zM420 551h1v1h-1zM421 551h1v1h-1zM422 552h1v1h-1zM423 552h1v1h-1zM424 552h1v1h-1zM425 552h1v1h-1zM426 552h1v1h-1zM427 552h1v1h-1zM428 552h1v1h-1zM429 552h1v1h-1zM430 552h1v1h-1zM431 552h1v1h-1zM432 551h1v1h-1zM433 551h1v1h-1zM434 551h1v1h-1zM435 551h1v1h-1zM436 551h1v1h-1zM437 551h1v1h-1zM438 551h1v1h-1zM439 550h1v1h-1zM440 550h1v1h-1zM441 550h1v1h-1zM442 550h1v1h-1zM443 550h1v1h-1zM444 550h1v1h-1zM445 550h1v1h-1zM446 549h1v1h-1zM447 549h1v1h-1zM448 549h1v1h-1zM449 549h1v1h-1zM450 548h1v1h-1zM451 548h1v1h-1zM452 547h1v1h-1zM453 547h1v1h-1zM454 547h1v1h-1zM455 546h1v1h-1zM456 546h1v1h-1zM457 545h1v1h-1zM458 545h1v1h-1zM459 545h1v1h-1zM460 545h1v1h-1zM461 545h1v1h-1zM462 544h1v1h-1zM463 544h1v1h-1zM464 543h1v1h-1zM465 543h1v1h-1zM466 542h1v1h-1zM467 542h1v1h-1zM468 541h1v1h-1zM469 541h1v1h-1zM470 540h1v1h-1zM471 540h1v1h-1zM472 539h1v1h-1zM473 539h1v1h-1zM474 538h1v1h-1zM475 538h1v1h-1zM476 537h1v1h-1zM477 536h1v1h-1zM478 536h1v1h-1zM479 535h1v1h-1zM480 534h1v1h-1zM481 534h1v1h-1zM482 533h1v1h-1zM483 532h1v1h-1zM484 532h1v1h-1zM485 531h1v1h-1zM486 530h1v1h-1zM487 530h1v1h-1zM488 529h1v1h-1zM489 528h1v1h-1zM490 528h1v1h-1zM491 527h1v1h-1zM492 527h1v1h-1zM493 527h1v1h-1zM494 526h1v1h-1zM495 526h1v1h-1zM496 526h1v1h-1zM497 525h1v1h-1zM498 525h1v1h-1zM499 524h1v1h-1zM500 524h1v1h-1zM501 524h1v1h-1zM502 523h1v1h-1zM503 523h1v1h-1zM504 523h1v1h-1zM505 522h1v1h-1zM506 522h1v1h-1zM507 522h1v1h-1zM508 522h1v1h-1zM509 522h1v1h-1zM510 522h1v1h-1zM511 522h1v1h-1zM512 522h1v1h-1zM513 522h1v1h-1zM514 522h1v1h-1zM515 522h1v1h-1zM516 522h1v1h-1zM517 522h1v1h-1zM518 522h1v1h-1zM519 522h1v1h-1zM520 522h1v1h-1zM521 522h1v1h-1zM522 522h1v1h-1zM523 522h1v1h-1zM524 522h1v1h-1zM525 522h1v1h-1zM526 522h1v1h-1zM527 523h1v1h-1zM528 523h1v1h-1zM529 523h1v1h-1zM530 523h1v1h-1zM531 524h1v1h-1zM532 524h1v1h-1zM533 524h1v1h-1zM534 524h1v1h-1zM535 524h1v1h-1zM536 524h1v1h-1zM537 524h1v1h-1zM538 524h1v1h-1zM539 524h1v1h-1zM540 524h1v1h-1zM541 524h1v1h-1zM542 524h1v1h-1zM543 523h1v1h-1zM544 523h1v1h-1zM545 523h1v1h-1zM546 523h1v1h-1zM547 522h1v1h-1zM548 522h1v1h-1zM549 522h1v1h-1zM550 522h1v1h-1zM551 522h1v1h-1zM552 522h1v1h-1zM553 522h1v1h-1zM554 522h1v1h-1zM555 522h1v1h-1zM556 521h1v1h-1zM557 521h1v1h-1zM558 521h1v1h-1zM559 521h1v1h-1zM560 521h1v1h-1zM561 521h1v1h-1zM562 521h1v1h-1zM563 521h1v1h-1zM564 520h1v1h-1zM565 520h1v1h-1zM566 520h1v1h-1zM567 520h1v1h-1zM568 520h1v1h-1zM569 520h1v1h-1zM570 520h1v1h-1zM571 520h1v1h-1zM572 521h1v1h-1zM573 521h1v1h-1zM574 521h1v1h-1zM575 521h1v1h-1zM576 521h1v1h-1zM577 522h1v1h-1zM578 522h1v1h-1zM579 522h1v1h-1zM580 523h1v1h-1zM581 523h1v1h-1zM582 524h1v1h-1zM583 524h1v1h-1zM584 524h1v1h-1zM585 525h1v1h-1zM586 525h1v1h-1zM587 526h1v1h-1zM588 526h1v1h-1zM589 526h1v1h-1zM590 526h1v1h-1zM591 527h1v1h-1zM592 527h1v1h-1zM593 527h1v1h-1zM594 527h1v1h-1zM595 528h1v1h-1zM596 528h1v1h-1zM597 528h1v1h-1zM598 528h1v1h-1zM599 529h1v1h-1zM600 529h1v1h-1zM601 529h1v1h-1zM602 529h1v1h-1zM603 530h1v1h-1zM604 530h1v1h-1zM605 530h1v1h-1zM606 530h1v1h-1zM607 531h1v1h-1zM608 531h1v1h-1zM609 531h1v1h-1zM610 532h1v1h-1zM611 532h1v1h-1zM612 532h1v1h-1zM613 533h1v1h-1zM614 533h1v1h-1zM615 534h1v1h-1zM616 534h1v1h-1zM617 534h1v1h-1zM618 534h1v1h-1zM619 534h1v1h-1zM620 534h1v1h-1zM621 534h1v1h-1zM622 534h1v1h-1zM623 534h1v1h-1zM624 535h1v1h-1zM625 535h1v1h-1zM626 535h1v1h-1zM627 536h1v1h-1zM628 536h1v1h-1zM629 536h1v1h-1zM630 536h1v1h-1zM631 536h1v1h-1zM632 536h1v1h-1zM633 536h1v1h-1zM634 536h1v1h-1zM635 536h1v1h-1zM636 536h1v1h-1zM637 537h1v1h-1zM638 537h1v1h-1zM639 537h1v1h-1zM640 537h1v1h-1zM641 537h1v1h-1zM642 537h1v1h-1zM643 537h1v1h-1zM644 537h1v1h-1zM645 536h1v1h-1zM646 536h1v1h-1zM647 536h1v1h-1zM648 536h1v1h-1zM649 536h1v1h-1zM650 536h1v1h-1zM651 536h1v1h-1zM652 536h1v1h-1zM653 536h1v1h-1zM654 536h1v1h-1zM655 536h1v1h-1zM656 536h1v1h-1zM657 536h1v1h-1zM658 536h1v1h-1zM659 536h1v1h-1zM660 536h1v1h-1zM661 537h1v1h-1zM662 537h1v1h-1zM663 537h1v1h-1zM664 537h1v1h-1zM665 537h1v1h-1zM666 537h1v1h-1zM667 537h1v1h-1zM668 537h1v1h-1zM669 537h1v1h-1zM670 537h1v1h-1zM671 537h1v1h-1zM672 537h1v1h-1zM673 538h1v1h-1zM674 538h1v1h-1zM675 538h1v1h-1zM676 538h1v1h-1zM677 538h1v1h-1zM678 539h1v1h-1zM679 539h1v1h-1zM680 540h1v1h-1zM681 540h1v1h-1zM682 541h1v1h-1zM683 541h1v1h-1zM684 542h1v1h-1zM685 543h1v1h-1zM686 543h1v1h-1zM687 544h1v1h-1zM688 545h1v1h-1zM689 546h1v1h-1zM690 546h1v1h-1zM691 547h1v1h-1zM692 548h1v1h-1zM693 549h1v1h-1zM694 549h1v1h-1zM695 550h1v1h-1zM696 551h1v1h-1zM697 551h1v1h-1zM698 552h1v1h-1zM699 552h1v1h-1zM700 553h1v1h-1zM701 553h1v1h-1zM702 554h1v1h-1zM703 554h1v1h-1zM704 555h1v1h-1zM705 555h1v1h-1zM706 556h1v1h-1zM707 556h1v1h-1zM708 556h1v1h-1zM709 557h1v1h-1zM710 557h1v1h-1zM711 557h1v1h-1zM712 558h1v1h-1zM713 558h1v1h-1zM714 558h1v1h-1zM715 559h1v1h-1zM716 559h1v1h-1zM717 559h1v1h-1zM718 559h1v1h-1zM719 559h1v1h-1zM720 559h1v1h-1zM721 559h1v1h-1zM722 559h1v1h-1zM723 559h1v1h-1zM724 559h1v1h-1zM725 559h1v1h-1zM726 559h1v1h-1zM727 559h1v1h-1zM728 559h1v1h-1zM729 559h1v1h-1zM730 559h1v1h-1zM731 559h1v1h-1zM732 559h1v1h-1zM733 559h1v1h-1zM734 559h1v1h-1zM735 559h1v1h-1zM736 559h1v1h-1zM737 559h1v1h-1zM738 559h1v1h-1zM739 559h1v1h-1zM740 559h1v1h-1zM741 559h1v1h-1zM742 559h1v1h-1zM743 559h1v1h-1zM744 559h1v1h-1zM745 559h1v1h-1zM746 559h1v1h-1zM747 560h1v1h-1zM748 560h1v1h-1zM749 560h1v1h-1zM750 560h1v1h-1zM751 560h1v1h-1zM752 560h1v1h-1zM753 560h1v1h-1zM754 560h1v1h-1zM755 560h1v1h-1zM756 560h1v1h-1zM757 560h1v1h-1zM758 560h1v1h-1zM759 560h1v1h-1zM760 559h1v1h-1zM761 559h1v1h-1zM762 559h1v1h-1zM763 559h1v1h-1zM764 559h1v1h-1zM765 558h1v1h-1zM766 558h1v1h-1zM767 558h1v1h-1zM768 558h1v1h-1zM769 558h1v1h-1zM770 558h1v1h-1zM771 558h1v1h-1zM772 558h1v1h-1zM773 558h1v1h-1zM774 558h1v1h-1zM775 558h1v1h-1zM776 558h1v1h-1zM777 558h1v1h-1zM778 558h1v1h-1zM779 558h1v1h-1zM780 558h1v1h-1zM781 558h1v1h-1zM782 558h1v1h-1zM783 558h1v1h-1zM784 558h1v1h-1zM785 558h1v1h-1zM786 558h1v1h-1zM787 558h1v1h-1zM788 559h1v1h-1zM789 559h1v1h-1zM790 559h1v1h-1zM791 560h1v1h-1zM792 560h1v1h-1zM793 560h1v1h-1zM794 560h1v1h-1zM795 561h1v1h-1zM796 561h1v1h-1zM797 561h1v1h-1zM798 561h1v1h-1zM799 562h1v1h-1zM800 562h1v1h-1zM801 562h1v1h-1zM802 562h1v1h-1zM803 562h1v1h-1zM804 562h1v1h-1zM805 562h1v1h-1zM806 562h1v1h-1zM807 563h1v1h-1zM808 563h1v1h-1zM809 563h1v1h-1zM810 563h1v1h-1zM811 563h1v1h-1zM812 563h1v1h-1zM813 563h1v1h-1zM814 563h1v1h-1zM815 563h1v1h-1zM816 563h1v1h-1zM817 563h1v1h-1zM818 563h1v1h-1zM819 563h1v1h-1zM820 563h1v1h-1zM821 563h1v1h-1zM822 563h1v1h-1zM823 562h1v1h-1zM824 562h1v1h-1zM825 562h1v1h-1zM826 562h1v1h-1zM827 561h1v1h-1zM828 561h1v1h-1zM829 561h1v1h-1zM830 561h1v1h-1zM831 560h1v1h-1zM832 560h1v1h-1zM833 560h1v1h-1zM834 559h1v1h-1zM835 559h1v1h-1zM836 559h1v1h-1zM837 558h1v1h-1zM838 558h1v1h-1zM839 558h1v1h-1zM840 557h1v1h-1zM841 557h1v1h-1zM842 557h1v1h-1zM843 556h1v1h-1zM844 556h1v1h-1zM845 556h1v1h-1zM846 555h1v1h-1zM847 555h1v1h-1zM848 555h1v1h-1zM849 554h1v1h-1zM850 554h1v1h-1zM851 554h1v1h-1zM852 554h1v1h-1zM853 553h1v1h-1zM854 553h1v1h-1zM855 553h1v1h-1zM856 553h1v1h-1zM857 552h1v1h-1zM858 552h1v1h-1zM859 552h1v1h-1zM860 552h1v1h-1zM861 551h1v1h-1zM862 551h1v1h-1zM863 551h1v1h-1zM864 551h1v1h-1zM865 550h1v1h-1zM866 550h1v1h-1zM867 550h1v1h-1zM868 550h1v1h-1zM869 549h1v1h-1zM870 549h1v1h-1zM871 549h1v1h-1zM872 549h1v1h-1zM873 548h1v1h-1zM874 548h1v1h-1zM875 548h1v1h-1zM876 548h1v1h-1zM877 547h1v1h-1zM878 547h1v1h-1zM879 547h1v1h-1zM880 547h1v1h-1zM881 547h1v1h-1zM882 547h1v1h-1zM883 547h1v1h-1zM884 547h1v1h-1zM885 547h1v1h-1zM886 547h1v1h-1zM887 547h1v1h-1zM888 547h1v1h-1zM889 547h1v1h-1zM890 547h1v1h-1zM891 547h1v1h-1zM892 548h1v1h-1zM893 548h1v1h-1zM894 549h1v1h-1zM895 549h1v1h-1zM896 550h1v1h-1zM897 550h1v1h-1zM898 551h1v1h-1zM899 551h1v1h-1zM900 552h1v1h-1zM901 552h1v1h-1zM902 553h1v1h-1zM903 553h1v1h-1zM904 554h1v1h-1zM905 554h1v1h-1zM906 554h1v1h-1zM907 555h1v1h-1zM908 555h1v1h-1zM909 556h1v1h-1zM910 556h1v1h-1zM911 557h1v1h-1zM912 557h1v1h-1zM913 557h1v1h-1zM914 558h1v1h-1zM915 558h1v1h-1zM916 558h1v1h-1zM917 559h1v1h-1zM918 559h1v1h-1zM919 559h1v1h-1zM920 560h1v1h-1zM921 560h1v1h-1zM922 559h1v1h-1zM923 559h1v1h-1zM924 559h1v1h-1z" fill="#ff0000"/>
</g>
<g shape-rendering="crispEdges">
<line x1="5" y1="599.5" x2="1166" y2="599.5" stroke="#c0c0c0" stroke-width="1" stroke-dasharray="3,3"/>
<line x1="5" y1="633.5" x2="1166" y2="633.5" stroke="#c0c0c0" stroke-width="1" stroke-dasharray="3,3"/>
<path d="M4 608h1v1h-1zM5 607h1v1h-1zM6 607h1v1h-1zM7 606h1v1h-1zM8 605h1v1h-1zM9 604h1v1h-1zM10 602h1v2h-1zM11 601h1v1h-1zM12 600h1v1h-1zM13 600h1v1h-1zM14 600h1v1h-1zM15 601h1v1h-1zM16 602h1v1h-1zM17 602h1v1h-1zM18 602h1v1h-1zM19 601h1v1h-1zM20 601h1v1h-1zM21 601h1v1h-1zM22 601h1v1h-1zM23 601h1v1h-1zM24 601h1v1h-1zM25 601h1v1h-1zM26 602h1v2h-1zM27 604h1v1h-1zM28 605h1v1h-1zM29 606h1v1h-1zM30 605h1v1h-1zM31 604h1v1h-1zM32 603h1v1h-1zM33 602h1v1h-1zM34 601h1v1h-1zM35 600h1v1h-1zM36 599h1v1h-1zM37 598h1v1h-1zM38 597h1v1h-1zM39 597h1v1h-1zM40 597h1v1h-1zM41 597h1v1h-1zM42 597h1v1h-1zM43 597h1v1h-1zM44 597h1v1h-1zM45 597h1v1h-1zM46 597h1v1h-1zM47 597h1v1h-1zM48 597h1v1h-1zM49 597h1v1h-1zM50 597h1v1h-1zM51 596h1v1h-1zM52 596h1v1h-1zM53 595h1v1h-1zM54 595h1v1h-1zM55 595h1v1h-1zM56 595h1v1h-1zM57 594h1v1h-1zM58 593h1v1h-1zM59 592h1v1h-1zM60 591h1v1h-1zM61 591h1v1h-1zM62 591h1v1h-1zM63 592h1v1h-1zM64 592h1v1h-1zM65 592h1v1h-1zM66 592h1v1h-1zM67 593h1v1h-1zM68 593h1v1h-1zM69 594h1v3h-1zM70 597h1v3h-1zM71 600h1v2h-1zM72 602h1v2h-1zM73 604h1v2h-1zM74 606h1v1h-1zM75 607h1v2h-1zM76 609h1v1h-1zM77 607h1v2h-1zM78 606h1v1h-1zM79 605h1v1h-1zM80 604h1v1h-1zM81 604h1v1h-1zM82 603h1v1h-1zM83 603h1v1h-1zM84 603h1v1h-1zM85 603h1v1h-1zM86 603h1v1h-1zM87 603h1v1h-1zM88 603h1v1h-1zM89 603h1v2h-1zM90 605h1v1h-1zM91 606h1v1h-1zM92 607h1v1h-1zM93 606h1v1h-1zM94 605h1v1h-1zM95 604h1v1h-1zM96 603h1v1h-1zM97 602h1v1h-1zM98 601h1v1h-1zM99 599h1v2h-1zM100 598h1v1h-1zM101 597h1v1h-1zM102 596h1v1h-1zM103 596h1v1h-1zM104 596h1v1h-1zM105 597h1v1h-1zM106 598h1v1h-1zM107 599h1v1h-1zM108 600h1v1h-1zM109 600h1v1h-1zM110 600h1v1h-1zM111 601h1v1h-1zM112 601h1v1h-1zM113 601h1v1h-1zM114 600h1v1h-1zM115 599h1v1h-1zM116 598h1v1h-1zM117 598h1v1h-1zM118 597h1v1h-1zM119 596h1v1h-1zM120 596h1v1h-1zM121 596h1v1h-1zM122 597h1v1h-1zM123 598h1v1h-1zM124 598h1v1h-1zM125 599h1v1h-1zM126 598h1v1h-1zM127 597h1v1h-1zM128 597h1v1h-1zM129 598h1v1h-1zM130 599h1v1h-1zM131 600h1v1h-1zM132 601h1v2h-1zM133 603h1v2h-1zM134 605h1v1h-1zM135 606h1v2h-1zM136 608h1v1h-1zM137 609h1v1h-1zM138 608h1v1h-1zM139 607h1v1h-1zM140 606h1v1h-1zM141 606h1v1h-1zM142 605h1v1h-1zM143 605h1v1h-1zM144 604h1v1h-1zM145 604h1v1h-1zM146 604h1v1h-1zM147 603h1v1h-1zM148 603h1v2h-1zM149 605h1v2h-1zM150 607h1v2h-1zM151 609h1v2h-1zM152 611h1v1h-1zM153 611h1v1h-1zM154 610h1v1h-1zM155 610h1v1h-1zM156 610h1v1h-1zM157 611h1v1h-1zM158 611h1v1h-1zM159 612h1v1h-1zM160 613h1v1h-1zM161 613h1v1h-1zM162 612h1v1h-1zM163 611h1v1h-1zM164 611h1v1h-1zM165 610h1v1h-1zM166 609h1v1h-1zM167 609h1v1h-1zM168 608h1v1h-1zM169 607h1v1h-1zM170 607h1v1h-1zM171 606h1v1h-1zM172 606h1v1h-1zM173 607h1v2h-1zM174 609h1v1h-1zM175 610h1v1h-1zM176 611h1v1h-1zM177 611h1v1h-1zM178 612h1v1h-1zM179 612h1v1h-1zM180 612h1v1h-1zM181 613h1v1h-1zM182 613h1v1h-1zM183 613h1v1h-1zM184 613h1v1h-1zM185 613h1v1h-1zM186 611h1v2h-1zM187 610h1v1h-1zM188 609h1v1h-1zM189 610h1v2h-1zM190 612h1v2h-1zM191 614h1v2h-1zM192 616h1v1h-1zM193 616h1v1h-1zM194 617h1v1h-1zM195 617h1v1h-1zM196 618h1v1h-1zM197 618h1v1h-1zM198 617h1v1h-1zM199 617h1v1h-1zM200 617h1v1h-1zM201 618h1v1h-1zM202 619h1v1h-1zM203 620h1v1h-1zM204 620h1v1h-1zM205 621h1v1h-1zM206 622h1v1h-1zM207 622h1v1h-1zM208 623h1v1h-1zM209 623h1v1h-1zM210 624h1v1h-1zM211 625h1v1h-1zM212 626h1v1h-1zM213 626h1v1h-1zM214 625h1v1h-1zM215 624h1v1h-1zM216 623h1v1h-1zM217 622h1v1h-1zM218 622h1v1h-1zM219 623h1v1h-1zM220 623h1v1h-1zM221 621h1v2h-1zM222 619h1v2h-1zM223 617h1v2h-1zM224 616h1v1h-1zM225 616h1v1h-1zM226 615h1v1h-1zM227 615h1v1h-1zM228 615h1v1h-1zM229 614h1v1h-1zM230 613h1v1h-1zM231 612h1v1h-1zM232 612h1v1h-1zM233 611h1v1h-1zM234 610h1v1h-1zM235 610h1v1h-1zM236 610h1v1h-1zM237 610h1v1h-1zM238 609h1v1h-1zM239 609h1v1h-1zM240 609h1v1h-1zM241 608h1v1h-1zM242 608h1v1h-1zM243 607h1v1h-1zM244 607h1v1h-1zM245 606h1v1h-1zM246 607h1v1h-1zM247 607h1v1h-1zM248 608h1v1h-1zM249 608h1v1h-1zM250 608h1v1h-1zM251 607h1v1h-1zM252 607h1v1h-1zM253 607h1v1h-1zM254 606h1v1h-1zM255 606h1v1h-1zM256 605h1v1h-1zM257 605h1v1h-1zM258 605h1v1h-1zM259 606h1v1h-1zM260 606h1v1h-1zM261 607h1v1h-1zM262 608h1v2h-1zM263 610h1v1h-1zM264 611h1v1h-1zM265 612h1v1h-1zM266 612h1v1h-1zM267 611h1v1h-1zM268 611h1v1h-1zM269 609h1v2h-1zM270 606h1v3h-1zM271 604h1v2h-1zM272 602h1v2h-1zM273 601h1v1h-1zM274 601h1v1h-1zM275 600h1v1h-1zM276 600h1v1h-1zM277 599h1v1h-1zM278 599h1v1h-1zM279 598h1v1h-1zM280 598h1v1h-1zM281 598h1v1h-1zM282 598h1v1h-1zM283 598h1v1h-1zM284 597h1v1h-1zM285 597h1v1h-1zM286 597h1v1h-1zM287 597h1v1h-1zM288 597h1v1h-1zM289 596h1v1h-1zM290 595h1v1h-1zM291 595h1v1h-1zM292 595h1v3h-1zM293 598h1v7h-1zM294 605h1v7h-1zM295 612h1v6h-1zM296 618h1v1h-1zM297 619h1v1h-1zM298 620h1v1h-1zM299 620h1v1h-1zM300 621h1v1h-1zM301 620h1v1h-1zM302 618h1v2h-1zM303 617h1v1h-1zM304 616h1v1h-1zM305 615h1v1h-1zM306 614h1v1h-1zM307 614h1v1h-1zM308 613h1v1h-1zM309 613h1v1h-1zM310 613h1v1h-1zM311 613h1v1h-1zM312 613h1v1h-1zM313 613h1v1h-1zM314 613h1v1h-1zM315 614h1v1h-1zM316 614h1v2h-1zM317 616h1v2h-1zM318 618h1v3h-1zM319 621h1v3h-1zM320 624h1v1h-1zM321 624h1v1h-1zM322 623h1v1h-1zM323 623h1v1h-1zM324 622h1v1h-1zM325 622h1v1h-1zM326 623h1v1h-1zM327 623h1v1h-1zM328 623h1v1h-1zM329 623h1v1h-1zM330 622h1v1h-1zM331 621h1v1h-1zM332 621h1v1h-1zM333 620h1v1h-1zM334 620h1v1h-1zM335 619h1v1h-1zM336 619h1v1h-1zM337 619h1v1h-1zM338 618h1v1h-1zM339 617h1v1h-1zM340 616h1v1h-1zM341 615h1v1h-1zM342 615h1v1h-1zM343 615h1v1h-1zM344 615h1v1h-1zM345 616h1v1h-1zM346 615h1v1h-1zM347 615h1v1h-1zM348 615h1v1h-1zM349 615h1v1h-1zM350 616h1v1h-1zM351 617h1v1h-1zM352 617h1v1h-1zM353 618h1v1h-1zM354 617h1v1h-1zM355 617h1v1h-1zM356 616h1v1h-1zM357 617h1v1h-1zM358 618h1v1h-1zM359 619h1v1h-1zM360 619h1v1h-1zM361 618h1v2h-1zM362 616h1v2h-1zM363 614h1v2h-1zM364 613h1v1h-1zM365 613h1v1h-1zM366 614h1v1h-1zM367 614h1v1h-1zM368 615h1v1h-1zM369 616h1v1h-1zM370 616h1v1h-1zM371 616h1v1h-1zM372 616h1v1h-1zM373 616h1v1h-1zM374 616h1v1h-1zM375 616h1v1h-1zM376 616h1v1h-1zM377 616h1v2h-1zM378 618h1v1h-1zM379 619h1v2h-1zM380 621h1v1h-1zM381 622h1v1h-1zM382 623h1v1h-1zM383 624h1v1h-1zM384 625h1v1h-1zM385 626h1v1h-1zM386 627h1v1h-1zM387 628h1v1h-1zM388 628h1v1h-1zM389 628h1v2h-1zM390 627h1v1h-1zM391 625h1v2h-1zM392 624h1v1h-1zM393 623h1v1h-1zM394 624h1v1h-1zM395 624h1v1h-1zM396 624h1v1h-1zM397 624h1v1h-1zM398 623h1v1h-1zM399 623h1v1h-1zM400 622h1v1h-1zM401 622h1v1h-1zM402 623h1v1h-1zM403 623h1v1h-1zM404 623h1v1h-1zM405 624h1v1h-1zM406 624h1v1h-1zM407 624h1v1h-1zM408 624h1v1h-1zM409 624h1v1h-1zM410 624h1v1h-1zM411 624h1v1h-1zM412 624h1v1h-1zM413 624h1v1h-1zM414 624h1v1h-1zM415 623h1v1h-1zM416 623h1v1h-1zM417 623h1v1h-1zM418 624h1v1h-1zM419 624h1v1h-1zM420 624h1v1h-1zM421 623h1v1h-1zM422 621h1v2h-1zM423 620h1v1h-1zM424 619h1v1h-1zM425 618h1v1h-1zM426 618h1v1h-1zM427 617h1v1h-1zM428 617h1v1h-1zM429 618h1v1h-1zM430 619h1v1h-1zM431 620h1v1h-1zM432 621h1v1h-1zM433 621h1v1h-1zM434 620h1v1h-1zM435 620h1v1h-1zM436 619h1v1h-1zM437 619h1v1h-1zM438 620h1v1h-1zM439 620h1v1h-1zM440 620h1v1h-1zM441 620h1v1h-1zM442 621h1v1h-1zM443 621h1v1h-1zM444 621h1v1h-1zM445 621h1v1h-1zM446 621h1v1h-1zM447 621h1v1h-1zM448 621h1v1h-1zM449 621h1v1h-1zM450 620h1v1h-1zM451 620h1v1h-1zM452 618h1v3h-1zM453 615h1v3h-1zM454 612h1v3h-1zM455 609h1v3h-1zM456 608h1v1h-1zM457 608h1v1h-1zM458 607h1v1h-1zM459 607h1v1h-1zM460 607h1v1h-1zM461 607h1v1h-1zM462 608h1v1h-1zM463 608h1v1h-1zM464 609h1v1h-1zM465 609h1v1h-1zM466 609h1v1h-1zM467 609h1v1h-1zM468 609h1v1h-1zM469 609h1v1h-1zM470 608h1v1h-1zM471 607h1v1h-1zM472 606h1v1h-1zM473 607h1v1h-1zM474 607h1v1h-1zM475 608h1v1h-1zM476 609h1v1h-1zM477 608h1v1h-1zM478 608h1v1h-1zM479 607h1v1h-1zM480 607h1v1h-1zM481 608h1v2h-1zM482 610h1v1h-1zM483 611h1v1h-1zM484 612h1v1h-1zM485 612h1v1h-1zM486 611h1v1h-1zM487 611h1v1h-1zM488 610h1v1h-1zM489 610h1v1h-1zM490 609h1v1h-1zM491 609h1v1h-1zM492 608h1v1h-1zM493 608h1v1h-1zM494 607h1v1h-1zM495 606h1v1h-1zM496 605h1v1h-1zM497 604h1v1h-1zM498 605h1v1h-1zM499 606h1v1h-1zM500 607h1v1h-1zM501 608h1v1h-1zM502 608h1v1h-1zM503 608h1v1h-1zM504 609h1v1h-1zM505 609h1v1h-1zM506 609h1v1h-1zM507 609h1v1h-1zM508 609h1v1h-1zM509 610h1v2h-1zM510 612h1v2h-1zM511 614h1v2h-1zM512 616h1v1h-1zM513 617h1v1h-1zM514 617h1v1h-1zM515 618h1v1h-1zM516 618h1v1h-1zM517 617h1v1h-1zM518 615h1v2h-1zM519 613h1v2h-1zM520 612h1v1h-1zM521 612h1v3h-1zM522 615h1v2h-1zM523 617h1v2h-1zM524 619h1v1h-1zM525 618h1v2h-1zM526 617h1v1h-1zM527 615h1v2h-1zM528 614h1v1h-1zM529 613h1v1h-1zM530 612h1v1h-1zM531 612h1v1h-1zM532 611h1v1h-1zM533 609h1v2h-1zM534 607h1v2h-1zM535 605h1v2h-1zM536 604h1v1h-1zM537 604h1v1h-1zM538 605h1v1h-1zM539 605h1v1h-1zM540 605h1v1h-1zM541 605h1v1h-1zM542 605h1v1h-1zM543 604h1v1h-1zM544 604h1v1h-1zM545 604h1v1h-1zM546 605h1v1h-1zM547 605h1v2h-1zM548 607h1v3h-1zM549 610h1v2h-1zM550 612h1v3h-1zM551 615h1v2h-1zM552 617h1v1h-1zM553 618h1v1h-1zM554 618h1v1h-1zM555 619h1v1h-1zM556 619h1v1h-1zM557 618h1v1h-1zM558 617h1v1h-1zM559 615h1v2h-1zM560 614h1v1h-1zM561 614h1v1h-1zM562 614h1v1h-1zM563 613h1v1h-1zM564 613h1v1h-1zM565 613h1v1h-1zM566 614h1v1h-1zM567 614h1v1h-1zM568 615h1v1h-1zM569 614h1v1h-1zM570 614h1v1h-1zM571 614h1v1h-1zM572 614h1v1h-1zM573 614h1v1h-1zM574 615h1v1h-1zM575 616h1v1h-1zM576 617h1v1h-1zM577 616h1v1h-1zM578 615h1v1h-1zM579 614h1v1h-1zM580 614h1v1h-1zM581 615h1v1h-1zM582 616h1v1h-1zM583 617h1v2h-1zM584 619h1v1h-1zM585 619h1v1h-1zM586 619h1v1h-1zM587 619h1v1h-1zM588 619h1v1h-1zM589 619h1v1h-1zM590 619h1v1h-1zM591 618h1v1h-1zM592 618h1v1h-1zM593 618h1v1h-1zM594 618h1v1h-1zM595 618h1v1h-1zM596 618h1v1h-1zM597 618h1v1h-1zM598 618h1v1h-1zM599 618h1v1h-1zM600 617h1v1h-1zM601 617h1v1h-1zM602 618h1v1h-1zM603 618h1v1h-1zM604 619h1v1h-1zM605 619h1v1h-1zM606 620h1v1h-1zM607 621h1v1h-1zM608 621h1v1h-1zM609 622h1v1h-1zM610 622h1v1h-1zM611 622h1v1h-1zM612 621h1v1h-1zM613 621h1v1h-1zM614 620h1v1h-1zM615 619h1v1h-1zM616 618h1v1h-1zM617 617h1v1h-1zM618 616h1v1h-1zM619 615h1v1h-1zM620 614h1v1h-1zM621 614h1v1h-1zM622 614h1v1h-1zM623 614h1v1h-1zM624 615h1v1h-1zM625 616h1v3h-1zM626 619h1v3h-1zM627 622h1v2h-1zM628 624h1v1h-1zM629 624h1v2h-1zM630 621h1v3h-1zM631 619h1v2h-1zM632 617h1v2h-1zM633 616h1v1h-1zM634 616h1v1h-1zM635 616h1v1h-1zM636 616h1v1h-1zM637 615h1v1h-1zM638 615h1v1h-1zM639 614h1v1h-1zM640 614h1v1h-1zM641 614h1v1h-1zM642 615h1v1h-1zM643 615h1v1h-1zM644 615h1v1h-1zM645 616h1v1h-1zM646 616h1v1h-1zM647 616h1v1h-1zM648 617h1v1h-1zM649 616h1v1h-1zM650 616h1v1h-1zM651 615h1v1h-1zM652 615h1v1h-1zM653 616h1v2h-1zM654 618h1v1h-1zM655 619h1v2h-1zM656 621h1v1h-1zM657 621h1v1h-1zM658 621h1v1h-1zM659 620h1v1h-1zM660 620h1v1h-1zM661 619h1v1h-1zM662 619h1v1h-1zM663 619h1v1h-1zM664 618h1v1h-1zM665 619h1v1h-1zM666 620h1v1h-1zM667 621h1v1h-1zM668 622h1v1h-1zM669 621h1v1h-1zM670 620h1v1h-1zM671 619h1v1h-1zM672 618h1v2h-1zM673 620h1v3h-1zM674 623h1v3h-1zM675 626h1v3h-1zM676 629h1v2h-1zM677 631h1v1h-1zM678 631h1v1h-1zM679 632h1v1h-1zM680 633h1v1h-1zM681 633h1v1h-1zM682 633h1v1h-1zM683 633h1v1h-1zM684 633h1v1h-1zM685 632h1v1h-1zM686 632h1v1h-1zM687 631h1v1h-1zM688 630h1v1h-1zM689 630h1v1h-1zM690 630h1v1h-1zM691 630h1v1h-1zM692 630h1v1h-1zM693 629h1v2h-1zM694 627h1v2h-1zM695 625h1v2h-1zM696 624h1v1h-1zM697 623h1v1h-1zM698 624h1v1h-1zM699 624h1v1h-1zM700 624h1v1h-1zM701 623h1v1h-1zM702 623h1v1h-1zM703 622h1v1h-1zM704 621h1v1h-1zM705 621h1v1h-1zM706 621h1v1h-1zM707 621h1v1h-1zM708 622h1v1h-1zM709 622h1v1h-1zM710 622h1v1h-1zM711 623h1v1h-1zM712 623h1v1h-1zM713 624h1v1h-1zM714 625h1v1h-1zM715 626h1v1h-1zM716 627h1v1h-1zM717 628h1v1h-1zM718 628h1v1h-1zM719 629h1v1h-1zM720 629h1v1h-1zM721 629h1v1h-1zM722 630h1v1h-1zM723 630h1v1h-1zM724 631h1v1h-1zM725 631h1v1h-1zM726 630h1v1h-1zM727 629h1v1h-1zM728 628h1v1h-1zM729 627h1v1h-1zM730 626h1v1h-1zM731 625h1v1h-1zM732 624h1v1h-1zM733 623h1v1h-1zM734 623h1v1h-1zM735 623h1v1h-1zM736 623h1v1h-1zM737 623h1v1h-1zM738 624h1v1h-1zM739 625h1v1h-1zM740 625h1v1h-1zM741 626h1v1h-1zM742 626h1v1h-1zM743 626h1v1h-1zM744 626h1v1h-1zM745 627h1v1h-1zM746 628h1v1h-1zM747 629h1v1h-1zM748 630h1v1h-1zM749 630h1v1h-1zM750 628h1v2h-1zM751 627h1v1h-1zM752 626h1v1h-1zM753 625h1v1h-1zM754 625h1v1h-1zM755 624h1v1h-1zM756 624h1v1h-1zM757 624h1v1h-1zM758 624h1v1h-1zM759 624h1v1h-1zM760 624h1v1h-1zM761 624h1v1h-1zM762 624h1v1h-1zM763 624h1v1h-1zM764 624h1v1h-1zM765 625h1v1h-1zM766 625h1v1h-1zM767 625h1v1h-1zM768 625h1v1h-1zM769 626h1v1h-1zM770 627h1v1h-1zM771 627h1v1h-1zM772 628h1v1h-1zM773 629h1v1h-1zM774 629h1v1h-1zM775 630h1v1h-1zM776 630h1v1h-1zM777 631h1v1h-1zM778 631h1v1h-1zM779 631h1v1h-1zM780 632h1v1h-1zM781 633h1v1h-1zM782 634h1v1h-1zM783 635h1v1h-1zM784 636h1v1h-1zM785 636h1v1h-1zM786 636h1v1h-1zM787 637h1v1h-1zM788 637h1v1h-1zM789 636h1v1h-1zM790 634h1v2h-1zM791 633h1v1h-1zM792 632h1v1h-1zM793 631h1v1h-1zM794 631h1v1h-1zM795 630h1v1h-1zM796 630h1v1h-1zM797 630h1v1h-1zM798 630h1v1h-1zM799 630h1v1h-1zM800 630h1v1h-1zM801 630h1v1h-1zM802 630h1v1h-1zM803 630h1v1h-1zM804 630h1v1h-1zM805 629h1v1h-1zM806 628h1v1h-1zM807 627h1v1h-1zM808 626h1v1h-1zM809 626h1v1h-1zM810 626h1v1h-1zM811 627h1v1h-1zM812 627h1v1h-1zM813 628h1v1h-1zM814 628h1v1h-1zM815 629h1v1h-1zM816 629h1v1h-1zM817 627h1v3h-1zM818 625h1v2h-1zM819 623h1v2h-1zM820 622h1v1h-1zM821 622h1v1h-1zM822 623h1v1h-1zM823 624h1v1h-1zM824 625h1v1h-1zM825 626h1v1h-1zM826 626h1v1h-1zM827 627h1v1h-1zM828 627h1v1h-1zM829 627h1v1h-1zM830 625h1v2h-1zM831 624h1v1h-1zM832 623h1v1h-1zM833 622h1v1h-1zM834 621h1v1h-1zM835 621h1v1h-1zM836 620h1v1h-1zM837 620h1v1h-1zM838 620h1v1h-1zM839 620h1v1h-1zM840 621h1v1h-1zM841 620h1v1h-1zM842 619h1v1h-1zM843 618h1v1h-1zM844 618h1v1h-1zM845 618h1v1h-1zM846 619h1v2h-1zM847 621h1v1h-1zM848 622h1v1h-1zM849 623h1v1h-1zM850 623h1v1h-1zM851 623h1v1h-1zM852 623h1v1h-1zM853 623h1v1h-1zM854 623h1v1h-1zM855 624h1v1h-1zM856 624h1v1h-1zM857 625h1v1h-1zM858 625h1v1h-1zM859 624h1v1h-1zM860 624h1v1h-1zM861 623h1v1h-1zM862 622h1v1h-1zM863 621h1v1h-1zM864 620h1v1h-1zM865 620h1v1h-1zM866 621h1v1h-1zM867 622h1v1h-1zM868 623h1v1h-1zM869 622h1v1h-1zM870 621h1v1h-1zM871 620h1v1h-1zM872 619h1v1h-1zM873 618h1v1h-1zM874 618h1v1h-1zM875 618h1v1h-1zM876 618h1v1h-1zM877 619h1v1h-1zM878 620h1v1h-1zM879 621h1v2h-1zM880 623h1v1h-1zM881 624h1v2h-1zM882 626h1v2h-1zM883 628h1v2h-1zM884 630h1v1h-1zM885 631h1v1h-1zM886 631h1v1h-1zM887 631h1v1h-1zM888 632h1v1h-1zM889 633h1v1h-1zM890 634h1v1h-1zM891 634h1v1h-1zM892 635h1v1h-1zM893 636h1v1h-1zM894 636h1v1h-1zM895 637h1v1h-1zM896 637h1v1h-1zM897 638h1v1h-1zM898 638h1v1h-1zM899 637h1v1h-1zM900 636h1v2h-1zM901 633h1v3h-1zM902 631h1v2h-1zM903 628h1v3h-1zM904 627h1v1h-1zM905 625h1v2h-1zM906 624h1v1h-1zM907 622h1v2h-1zM908 621h1v1h-1zM909 621h1v1h-1zM910 620h1v1h-1zM911 620h1v1h-1zM912 620h1v1h-1zM913 620h1v1h-1zM914 621h1v1h-1zM915 621h1v1h-1zM916 621h1v2h-1zM917 620h1v1h-1zM918 618h1v2h-1zM919 616h1v2h-1zM920 615h1v1h-1zM921 615h1v1h-1zM922 615h1v1h-1zM923 615h1v1h-1zM924 615h1v1h-1z" fill="#1e90ff"/>
</g>
<g shape-rendering="crispEdges">
<rect x="1167" y="52" width="2" height="1" fill="#000"/>
<rect x="1167" y="85" width="2" height="1" fill="#000"/>
<rect x="1167" y="118" width="2" height="1" fill="#000"/>
<rect x="1167" y="151" width="2" height="1" fill="#000"/>
<rect x="1167" y="184" width="2" height="1" fill="#000"/>
<rect x="1167" y="217" width="2" height="1" fill="#000"/>
<rect x="1167" y="250" width="2" height="1" fill="#000"/>
<rect x="1167" y="283" width="2" height="1" fill="#000"/>
<rect x="1167" y="316" width="2" height="1" fill="#000"/>
<rect x="1167" y="349" width="2" height="1" fill="#000"/>
<rect x="1167" y="382" width="2" height="1" fill="#000"/>
<rect x="1167" y="415" width="2" height="1" fill="#000"/>
<rect x="1167" y="448" width="2" height="1" fill="#000"/>
<rect x="1167" y="481" width="2" height="1" fill="#000"/>
<rect x="1167" y="488" width="1" height="1" fill="#000"/>
<rect x="1167" y="533" width="1" height="1" fill="#000"/>
<rect x="1167" y="569" width="1" height="1" fill="#000"/>
<rect x="1167" y="574" width="1" height="1" fill="#000"/>
<rect x="1167" y="658" width="1" height="1" fill="#000"/>
<rect x="4" y="660" width="1" height="3" fill="#000"/>
<rect x="68" y="660" width="1" height="3" fill="#000"/>
<rect x="132" y="660" width="1" height="3" fill="#000"/>
<rect x="196" y="660" width="1" height="3" fill="#000"/>
<rect x="260" y="660" width="1" height="3" fill="#000"/>
<rect x="324" y="660" width="1" height="3" fill="#000"/>
<rect x="388" y="660" width="1" height="3" fill="#000"/>
<rect x="452" y="660" width="1" height="3" fill="#000"/>
<rect x="516" y="660" width="1" height="3" fill="#000"/>
<rect x="580" y="660" width="1" height="3" fill="#000"/>
<rect x="644" y="660" width="1" height="3" fill="#000"/>
<rect x="708" y="660" width="1" height="3" fill="#000"/>
<rect x="772" y="660" width="1" height="3" fill="#000"/>
<rect x="836" y="660" width="1" height="3" fill="#000"/>
<rect x="900" y="660" width="1" height="3" fill="#000"/>
</g>
<text x="1172" y="56" font-size="10" textLength="32" lengthAdjust="spacingAndGlyphs" stroke="#000" stroke-width="0.3">0.79960</text>
<text x="1172" y="89" font-size="10" textLength="32" lengthAdjust="spacingAndGlyphs" stroke="#000" stroke-width="0.3">0.79260</text>
<text x="1172" y="122" font-size="10" textLength="32" lengthAdjust="spacingAndGlyphs" stroke="#000" stroke-width="0.3">0.78560</text>
<text x="1172" y="155" font-size="10" textLength="32" lengthAdjust="spacingAndGlyphs" stroke="#000" stroke-width="0.3">0.77860</text>
<text x="1172" y="188" font-size="10" textLength="32" lengthAdjust="spacingAndGlyphs" stroke="#000" stroke-width="0.3">0.77160</text>
<text x="1172" y="221" font-size="10" textLength="32" lengthAdjust="spacingAndGlyphs" stroke="#000" stroke-width="0.3">0.76460</text>
<text x="1172" y="254" font-size="10" textLength="32" lengthAdjust="spacingAndGlyphs" stroke="#000" stroke-width="0.3">0.75760</text>
<text x="1172" y="287" font-size="10" textLength="32" lengthAdjust="spacingAndGlyphs" stroke="#000" stroke-width="0.3">0.75060</text>
<text x="1172" y="320" font-size="10" textLength="32" lengthAdjust="spacingAndGlyphs" stroke="#000" stroke-width="0.3">0.74360</text>
<text x="1172" y="353" font-size="10" textLength="32" lengthAdjust="spacingAndGlyphs" stroke="#000" stroke-width="0.3">0.73660</text>
<text x="1172" y="386" font-size="10" textLength="32" lengthAdjust="spacingAndGlyphs" stroke="#000" stroke-width="0.3">0.72960</text>
<text x="1172" y="419" font-size="10" textLength="32" lengthAdjust="spacingAndGlyphs" stroke="#000" stroke-width="0.3">0.72280</text>
<text x="1172" y="452" font-size="10" textLength="32" lengthAdjust="spacingAndGlyphs" stroke="#000" stroke-width="0.3">0.71580</text>
<text x="1170.5" y="497" font-size="10" textLength="37.3" lengthAdjust="spacingAndGlyphs" stroke="#000" stroke-width="0.3">0.008904</text>
<text x="1170.5" y="537" font-size="10" textLength="16.8" lengthAdjust="spacingAndGlyphs" stroke="#000" stroke-width="0.3">0.00</text>
<text x="1170.5" y="567" font-size="10" textLength="41.5" lengthAdjust="spacingAndGlyphs" stroke="#000" stroke-width="0.3">-0.007013</text>
<text x="1170" y="583" font-size="10" textLength="14.8" lengthAdjust="spacingAndGlyphs" stroke="#000" stroke-width="0.3">100</text>
<text x="1169.6" y="603" font-size="10" textLength="9.5" lengthAdjust="spacingAndGlyphs" stroke="#000" stroke-width="0.3">70</text>
<text x="1169.6" y="637" font-size="10" textLength="9.5" lengthAdjust="spacingAndGlyphs" stroke="#000" stroke-width="0.3">30</text>
<text x="1170" y="656" font-size="10" textLength="4.8" lengthAdjust="spacingAndGlyphs" stroke="#000" stroke-width="0.3">0</text>
<rect x="1168" y="176" width="41" height="11" fill="#ff0000" shape-rendering="crispEdges"/>
<text x="1172" y="185" font-size="10" textLength="32.5" lengthAdjust="spacingAndGlyphs" fill="#fff" stroke="#fff" stroke-width="0.15">0.77200</text>
<rect x="1168" y="246" width="41" height="11" fill="#ff0000" shape-rendering="crispEdges"/>
<text x="1172" y="255" font-size="10" textLength="32.5" lengthAdjust="spacingAndGlyphs" fill="#fff" stroke="#fff" stroke-width="0.15">0.75716</text>
<rect x="1168" y="327" width="41" height="11" fill="#00ff00" shape-rendering="crispEdges"/>
<text x="1172" y="336" font-size="10" textLength="32.5" lengthAdjust="spacingAndGlyphs" fill="#fff" stroke="#fff" stroke-width="0.15">0.74007</text>
<rect x="1168" y="370" width="41" height="11" fill="#000000" shape-rendering="crispEdges"/>
<text x="1172" y="379" font-size="10" textLength="32.5" lengthAdjust="spacingAndGlyphs" fill="#fff" stroke="#fff" stroke-width="0.15">0.73110</text>
<rect x="1168" y="402" width="41" height="11" fill="#0000ff" shape-rendering="crispEdges"/>
<text x="1172" y="411" font-size="10" textLength="32.5" lengthAdjust="spacingAndGlyphs" fill="#fff" stroke="#fff" stroke-width="0.15">0.72411</text>
<rect x="1168" y="473" width="41" height="11" fill="#0000ff" shape-rendering="crispEdges"/>
<text x="1172" y="482" font-size="10" textLength="32.5" lengthAdjust="spacingAndGlyphs" fill="#fff" stroke="#fff" stroke-width="0.15">0.70936</text>
<rect x="1168" y="477" width="41" height="11" fill="#ff0000" shape-rendering="crispEdges"/>
<text x="1172" y="486" font-size="10" textLength="32.5" lengthAdjust="spacingAndGlyphs" fill="#fff" stroke="#fff" stroke-width="0.15">0.70820</text>
<text x="3.6" y="672" font-size="10" textLength="45.6" lengthAdjust="spacingAndGlyphs" stroke="#000" stroke-width="0.3">1 Dec 2020</text>
<text x="67.6" y="672" font-size="10" textLength="51.2" lengthAdjust="spacingAndGlyphs" stroke="#000" stroke-width="0.3">19 Dec 2020</text>
<text x="131.6" y="672" font-size="10" textLength="43.6" lengthAdjust="spacingAndGlyphs" stroke="#000" stroke-width="0.3">9 Jan 2021</text>
<text x="195.6" y="672" font-size="10" textLength="49.6" lengthAdjust="spacingAndGlyphs" stroke="#000" stroke-width="0.3">28 Jan 2021</text>
<text x="259.6" y="672" font-size="10" textLength="51.2" lengthAdjust="spacingAndGlyphs" stroke="#000" stroke-width="0.3">16 Feb 2021</text>
<text x="323.6" y="672" font-size="10" textLength="45.3" lengthAdjust="spacingAndGlyphs" stroke="#000" stroke-width="0.3">6 Mar 2021</text>
<text x="387.6" y="672" font-size="10" textLength="51.6" lengthAdjust="spacingAndGlyphs" stroke="#000" stroke-width="0.3">25 Mar 2021</text>
<text x="451.6" y="672" font-size="10" textLength="48.9" lengthAdjust="spacingAndGlyphs" stroke="#000" stroke-width="0.3">13 Apr 2021</text>
<text x="515.6" y="672" font-size="10" textLength="48.6" lengthAdjust="spacingAndGlyphs" stroke="#000" stroke-width="0.3">1 May 2021</text>
<text x="579.6" y="672" font-size="10" textLength="54.9" lengthAdjust="spacingAndGlyphs" stroke="#000" stroke-width="0.3">20 May 2021</text>
<text x="643.6" y="672" font-size="10" textLength="43" lengthAdjust="spacingAndGlyphs" stroke="#000" stroke-width="0.3">8 Jun 2021</text>
<text x="707.6" y="672" font-size="10" textLength="49" lengthAdjust="spacingAndGlyphs" stroke="#000" stroke-width="0.3">26 Jun 2021</text>
<text x="771.6" y="672" font-size="10" textLength="46.3" lengthAdjust="spacingAndGlyphs" stroke="#000" stroke-width="0.3">15 Jul 2021</text>
<text x="835.6" y="672" font-size="10" textLength="45.7" lengthAdjust="spacingAndGlyphs" stroke="#000" stroke-width="0.3">3 Aug 2021</text>
<text x="899.6" y="672" font-size="10" textLength="52.2" lengthAdjust="spacingAndGlyphs" stroke="#000" stroke-width="0.3">21 Aug 2021</text>
<path d="M7 35h7l-3.5-4z" fill="#000" shape-rendering="crispEdges"/>
<text x="20" y="36" font-size="10" textLength="65" lengthAdjust="spacingAndGlyphs" stroke="#000" stroke-width="0.3">AUDUSD,Daily</text>
<text x="91.5" y="36" font-size="10" textLength="140" lengthAdjust="spacingAndGlyphs" stroke="#000" stroke-width="0.3">0.73069 0.73159 0.73064 0.73110</text>
<text x="8.5" y="499" font-size="10" textLength="153" lengthAdjust="spacingAndGlyphs" stroke="#000" stroke-width="0.3">MACD(12,26,9) -0.003274 -0.005061</text>
<text x="8.5" y="585" font-size="10" textLength="67" lengthAdjust="spacingAndGlyphs" stroke="#000" stroke-width="0.3">RSI(14) 51.1101</text>
<text x="15.5" y="12" font-size="10" textLength="17.7" lengthAdjust="spacingAndGlyphs" fill="#404040" stroke="#404040" stroke-width="0.1">M30</text>
<text x="47" y="12" font-size="10" textLength="11" lengthAdjust="spacingAndGlyphs" fill="#404040" stroke="#404040" stroke-width="0.1">H1</text>
<text x="73.5" y="12" font-size="10" textLength="12.5" lengthAdjust="spacingAndGlyphs" fill="#404040" stroke="#404040" stroke-width="0.1">H4</text>
<text x="102.5" y="12" font-size="10" textLength="11.5" lengthAdjust="spacingAndGlyphs" fill="#404040" stroke="#404040" stroke-width="0.1">D1</text>
<text x="130.5" y="12" font-size="10" textLength="13.5" lengthAdjust="spacingAndGlyphs" fill="#404040" stroke="#404040" stroke-width="0.1">W1</text>
<text x="157" y="12" font-size="10" textLength="14" lengthAdjust="spacingAndGlyphs" fill="#404040" stroke="#404040" stroke-width="0.1">MN</text>
<text x="-0.3" y="12" font-size="10" fill="#404040" stroke="#404040" stroke-width="0.1">5</text>
<defs>
<linearGradient id="gs" x1="0" y1="0" x2="0" y2="1"><stop offset="0" stop-color="#5252f8"/><stop offset="1" stop-color="#3c34de"/></linearGradient>
<linearGradient id="gp" x1="0" y1="0" x2="0" y2="1"><stop offset="0" stop-color="#3a30dc"/><stop offset="0.55" stop-color="#1410c0"/><stop offset="1" stop-color="#0000a0"/></linearGradient>
<linearGradient id="gb" x1="0" y1="0" x2="0" y2="1"><stop offset="0" stop-color="#dedede"/><stop offset="1" stop-color="#d2d2d2"/></linearGradient>
</defs>
<g shape-rendering="crispEdges">
<rect x="7" y="44" width="52" height="24" fill="url(#gs)"/>
<rect x="174" y="44" width="52" height="24" fill="url(#gs)"/>
<rect x="7" y="68" width="109" height="33" fill="url(#gp)"/>
<rect x="118" y="68" width="108" height="33" fill="url(#gp)"/>
<rect x="7" y="44" width="52" height="1" fill="#1a12b0"/>
<rect x="7" y="44" width="1" height="57" fill="#1a12b0"/>
<rect x="58" y="44" width="1" height="24" fill="#1a12b0"/>
<rect x="58" y="68" width="58" height="1" fill="#1a12b0"/>
<rect x="115" y="68" width="1" height="33" fill="#0c08a0"/>
<rect x="174" y="44" width="52" height="1" fill="#1a12b0"/>
<rect x="225" y="44" width="1" height="57" fill="#1a12b0"/>
<rect x="174" y="44" width="1" height="24" fill="#1a12b0"/>
<rect x="118" y="68" width="57" height="1" fill="#1a12b0"/>
<rect x="118" y="68" width="1" height="33" fill="#1a12b0"/>
<rect x="7" y="100" width="109" height="1" fill="#000098"/>
<rect x="118" y="100" width="108" height="1" fill="#000098"/>
<rect x="11" y="67" width="44" height="1" fill="#1c1490"/>
<rect x="11" y="68" width="44" height="1" fill="#9090f8"/>
<rect x="178" y="67" width="44" height="1" fill="#1c1490"/>
<rect x="178" y="68" width="44" height="1" fill="#9090f8"/>
<rect x="61" y="44" width="111" height="22" fill="#a4a4ac"/>
<rect x="62" y="45" width="109" height="20" fill="#ffffff"/>
<rect x="63" y="46" width="18" height="6" fill="#f0f0f0"/>
<rect x="63" y="52" width="18" height="12" fill="url(#gb)"/>
<rect x="82" y="45" width="1" height="20" fill="#a8a8b0"/>
<rect x="152" y="46" width="18" height="6" fill="#f0f0f0"/>
<rect x="152" y="52" width="18" height="12" fill="url(#gb)"/>
<rect x="150" y="45" width="1" height="20" fill="#a8a8b0"/>
<rect x="69" y="53" width="5" height="1" fill="#5a7ad8"/>
<rect x="70" y="54" width="3" height="1" fill="#4058b0"/>
<rect x="71" y="55" width="1" height="1" fill="#303060"/>
<rect x="160" y="53" width="1" height="1" fill="#303060"/>
<rect x="159" y="54" width="3" height="1" fill="#4058b0"/>
<rect x="158" y="55" width="5" height="1" fill="#5a7ad8"/>
</g>
<text x="20" y="60" font-size="12" textLength="24.5" lengthAdjust="spacingAndGlyphs" fill="#fff">SELL</text>
<text x="188" y="60" font-size="12" textLength="23" lengthAdjust="spacingAndGlyphs" fill="#fff">BUY</text>
<text x="123.5" y="58.5" font-size="12" textLength="22.5" lengthAdjust="spacingAndGlyphs">3.00</text>
<text x="27" y="95.5" font-size="11" textLength="24" lengthAdjust="spacingAndGlyphs" font-weight="bold" fill="#fff">0.73</text>
<text x="137" y="95.5" font-size="11" textLength="24" lengthAdjust="spacingAndGlyphs" font-weight="bold" fill="#fff">0.73</text>
<text x="54.5" y="96" font-size="33.5" textLength="34.5" lengthAdjust="spacingAndGlyphs" fill="#fff">11</text>
<text x="165.5" y="96" font-size="33.5" textLength="34.5" lengthAdjust="spacingAndGlyphs" fill="#fff">12</text>
<text x="94.5" y="80" font-size="12" textLength="6.8" lengthAdjust="spacingAndGlyphs" font-weight="bold" fill="#fff">3</text>
<text x="205" y="80" font-size="12" textLength="6.8" lengthAdjust="spacingAndGlyphs" font-weight="bold" fill="#fff">6</text>
<g shape-rendering="crispEdges">
<rect x="0" y="680" width="1210" height="2" fill="#f2f2f2"/>
<rect x="0" y="683" width="1210" height="19" fill="#f0f0f0"/>
<rect x="0" y="682" width="1210" height="1" fill="#000"/>
<rect x="98" y="682" width="102" height="18" fill="#ffffff"/>
<rect x="97" y="682" width="1" height="19" fill="#000"/>
<rect x="200" y="682" width="1" height="19" fill="#000"/>
<rect x="97" y="700" width="104" height="1" fill="#000"/>
<rect x="0" y="683" width="1" height="18" fill="#646464"/>
<rect x="0" y="702" width="1210" height="1" fill="#ffffff"/>
<rect x="0" y="703" width="1210" height="2" fill="#f0f0f0"/>
<rect x="0" y="705" width="1210" height="1" fill="#f8f8f8"/>
<rect x="0" y="706" width="1210" height="1" fill="#a0a0a0"/>
<rect x="0" y="707" width="1210" height="2" fill="#ffffff"/>
<rect x="289" y="686" width="1" height="13" fill="#808080"/>
<rect x="393" y="686" width="1" height="13" fill="#808080"/>
<rect x="497" y="686" width="1" height="13" fill="#808080"/>
<rect x="573" y="686" width="1" height="13" fill="#808080"/>
<rect x="642" y="686" width="1" height="13" fill="#808080"/>
<rect x="717" y="686" width="1" height="13" fill="#808080"/>
<rect x="809" y="686" width="1" height="13" fill="#808080"/>
<rect x="901" y="686" width="1" height="13" fill="#808080"/>
</g>
<text x="17.7" y="697" font-size="12.6" textLength="67.1" lengthAdjust="spacingAndGlyphs" fill="#6e6e6e">EURUSD,H4</text>
<text x="108" y="697" font-size="12.6" textLength="82" lengthAdjust="spacingAndGlyphs">AUDUSD,Daily</text>
<text x="211.5" y="697" font-size="12.6" textLength="66.5" lengthAdjust="spacingAndGlyphs" fill="#6e6e6e">USDCHF,H4</text>
<text x="300.2" y="697" font-size="12.6" textLength="80.6" lengthAdjust="spacingAndGlyphs" fill="#6e6e6e">USDCAD,Daily</text>
<text x="403.3" y="697" font-size="12.6" textLength="82.7" lengthAdjust="spacingAndGlyphs" fill="#6e6e6e">USDCNH,Daily</text>
<text x="509" y="697" font-size="12.6" textLength="51.3" lengthAdjust="spacingAndGlyphs" fill="#6e6e6e">UKOil,H1</text>
<text x="583.5" y="697" font-size="12.6" textLength="45.5" lengthAdjust="spacingAndGlyphs" fill="#6e6e6e">DJ30,H1</text>
<text x="653" y="697" font-size="12.6" textLength="51" lengthAdjust="spacingAndGlyphs" fill="#6e6e6e">USDX,H1</text>
<text x="728" y="697" font-size="12.6" textLength="68" lengthAdjust="spacingAndGlyphs" fill="#6e6e6e">XAUUSD,H1</text>
<text x="821" y="697" font-size="12.6" textLength="68" lengthAdjust="spacingAndGlyphs" fill="#6e6e6e">GBPUSD,H1</text>
<path d="M1185 688v7l-3.5-3.5z" fill="#a0a0a0"/>
<path d="M1201 688v7l3.5-3.5z" fill="#a0a0a0"/>
</svg>
</body>
</html>
